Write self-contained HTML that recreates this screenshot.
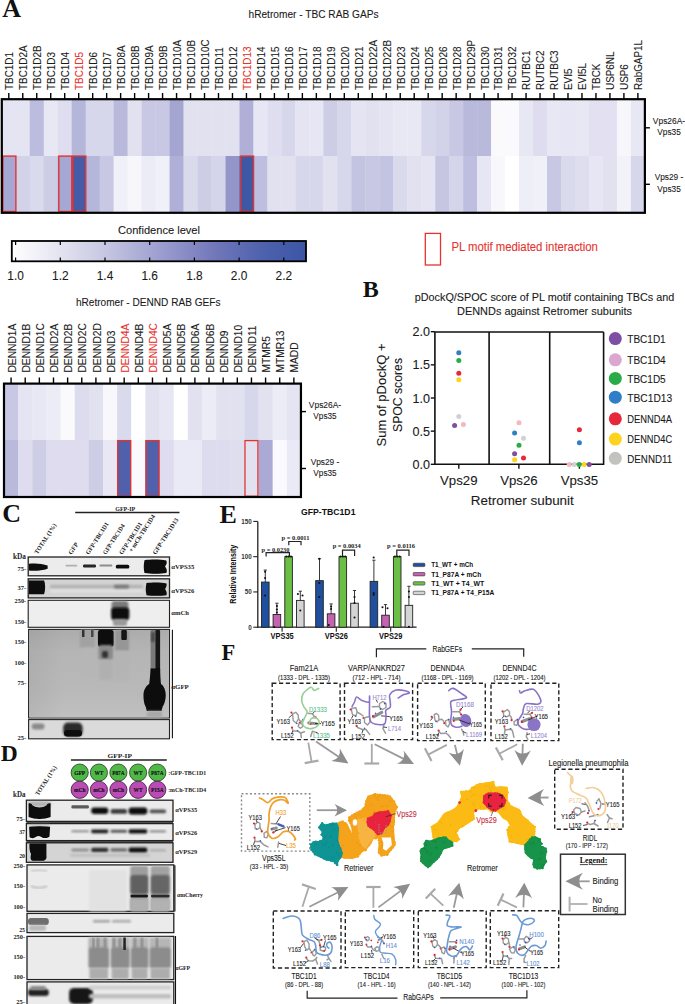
<!DOCTYPE html>
<html><head><meta charset="utf-8"><style>
html,body{margin:0;padding:0;background:#fff;}
body{width:685px;height:1004px;overflow:hidden;font-family:"Liberation Sans",sans-serif;}
svg{display:block;}
</style></head><body>
<svg width="685" height="1004" viewBox="0 0 685 1004">
<defs>
<filter id="b5" x="-20%" y="-50%" width="140%" height="200%"><feGaussianBlur stdDeviation="0.5"/></filter>
<filter id="b6" x="-20%" y="-50%" width="140%" height="200%"><feGaussianBlur stdDeviation="0.6"/></filter>
<filter id="b7" x="-20%" y="-50%" width="140%" height="200%"><feGaussianBlur stdDeviation="0.7"/></filter>
<filter id="b8" x="-20%" y="-50%" width="140%" height="200%"><feGaussianBlur stdDeviation="0.8"/></filter>
<filter id="b9" x="-20%" y="-50%" width="140%" height="200%"><feGaussianBlur stdDeviation="0.9"/></filter>
<filter id="b10" x="-20%" y="-50%" width="140%" height="200%"><feGaussianBlur stdDeviation="1.0"/></filter>
<filter id="b12" x="-20%" y="-50%" width="140%" height="200%"><feGaussianBlur stdDeviation="1.2"/></filter>
<filter id="b13" x="-20%" y="-50%" width="140%" height="200%"><feGaussianBlur stdDeviation="1.3"/></filter>
<filter id="b15" x="-20%" y="-50%" width="140%" height="200%"><feGaussianBlur stdDeviation="1.5"/></filter>
<filter id="b16" x="-20%" y="-50%" width="140%" height="200%"><feGaussianBlur stdDeviation="1.6"/></filter>
<filter id="b30" x="-10%" y="-30%" width="120%" height="160%"><feGaussianBlur stdDeviation="3"/></filter>
</defs>
<rect width="685" height="1004" fill="#fff"/>
<text x="2.20" y="16.80" font-size="26" fill="#111" text-anchor="start" font-family='"Liberation Serif", serif' font-weight="bold" >A</text>
<text x="313.50" y="18.00" font-size="11" fill="#1a1a1a" text-anchor="middle" font-family='"Liberation Sans", sans-serif' stroke="#1a1a1a" stroke-width="0.1" textLength="130" lengthAdjust="spacingAndGlyphs" >hRetromer - TBC RAB GAPs</text>
<rect x="1.80" y="99.2" width="14.28" height="56.80" fill="rgb(228, 228, 242)"/>
<rect x="1.80" y="156.0" width="14.28" height="56.80" fill="rgb(165, 168, 212)"/>
<rect x="15.78" y="99.2" width="14.28" height="56.80" fill="rgb(228, 228, 242)"/>
<rect x="15.78" y="156.0" width="14.28" height="56.80" fill="rgb(210, 210, 232)"/>
<rect x="29.76" y="99.2" width="14.28" height="56.80" fill="rgb(188, 188, 222)"/>
<rect x="29.76" y="156.0" width="14.28" height="56.80" fill="rgb(218, 218, 237)"/>
<rect x="43.74" y="99.2" width="14.28" height="56.80" fill="rgb(232, 232, 245)"/>
<rect x="43.74" y="156.0" width="14.28" height="56.80" fill="rgb(205, 205, 230)"/>
<rect x="57.72" y="99.2" width="14.28" height="56.80" fill="rgb(222, 222, 240)"/>
<rect x="57.72" y="156.0" width="14.28" height="56.80" fill="rgb(165, 168, 212)"/>
<rect x="71.70" y="99.2" width="14.28" height="56.80" fill="rgb(180, 182, 218)"/>
<rect x="71.70" y="156.0" width="14.28" height="56.80" fill="rgb(68, 92, 168)"/>
<rect x="85.68" y="99.2" width="14.28" height="56.80" fill="rgb(215, 215, 235)"/>
<rect x="85.68" y="156.0" width="14.28" height="56.80" fill="rgb(180, 182, 218)"/>
<rect x="99.66" y="99.2" width="14.28" height="56.80" fill="rgb(215, 215, 235)"/>
<rect x="99.66" y="156.0" width="14.28" height="56.80" fill="rgb(200, 200, 228)"/>
<rect x="113.64" y="99.2" width="14.28" height="56.80" fill="rgb(185, 185, 220)"/>
<rect x="113.64" y="156.0" width="14.28" height="56.80" fill="rgb(240, 240, 248)"/>
<rect x="127.62" y="99.2" width="14.28" height="56.80" fill="rgb(225, 225, 240)"/>
<rect x="127.62" y="156.0" width="14.28" height="56.80" fill="rgb(246, 246, 251)"/>
<rect x="141.60" y="99.2" width="14.28" height="56.80" fill="rgb(200, 200, 228)"/>
<rect x="141.60" y="156.0" width="14.28" height="56.80" fill="rgb(236, 236, 246)"/>
<rect x="155.58" y="99.2" width="14.28" height="56.80" fill="rgb(200, 200, 228)"/>
<rect x="155.58" y="156.0" width="14.28" height="56.80" fill="rgb(240, 240, 248)"/>
<rect x="169.56" y="99.2" width="14.28" height="56.80" fill="rgb(165, 165, 210)"/>
<rect x="169.56" y="156.0" width="14.28" height="56.80" fill="rgb(175, 175, 215)"/>
<rect x="183.54" y="99.2" width="14.28" height="56.80" fill="rgb(225, 225, 240)"/>
<rect x="183.54" y="156.0" width="14.28" height="56.80" fill="rgb(218, 218, 237)"/>
<rect x="197.52" y="99.2" width="14.28" height="56.80" fill="rgb(225, 225, 240)"/>
<rect x="197.52" y="156.0" width="14.28" height="56.80" fill="rgb(205, 205, 230)"/>
<rect x="211.50" y="99.2" width="14.28" height="56.80" fill="rgb(225, 225, 240)"/>
<rect x="211.50" y="156.0" width="14.28" height="56.80" fill="rgb(212, 212, 234)"/>
<rect x="225.48" y="99.2" width="14.28" height="56.80" fill="rgb(225, 225, 240)"/>
<rect x="225.48" y="156.0" width="14.28" height="56.80" fill="rgb(148, 150, 202)"/>
<rect x="239.46" y="99.2" width="14.28" height="56.80" fill="rgb(175, 175, 215)"/>
<rect x="239.46" y="156.0" width="14.28" height="56.80" fill="rgb(62, 88, 166)"/>
<rect x="253.44" y="99.2" width="14.28" height="56.80" fill="rgb(230, 230, 244)"/>
<rect x="253.44" y="156.0" width="14.28" height="56.80" fill="rgb(190, 190, 224)"/>
<rect x="267.42" y="99.2" width="14.28" height="56.80" fill="rgb(222, 222, 240)"/>
<rect x="267.42" y="156.0" width="14.28" height="56.80" fill="rgb(225, 225, 240)"/>
<rect x="281.40" y="99.2" width="14.28" height="56.80" fill="rgb(215, 215, 235)"/>
<rect x="281.40" y="156.0" width="14.28" height="56.80" fill="rgb(225, 225, 240)"/>
<rect x="295.38" y="99.2" width="14.28" height="56.80" fill="rgb(228, 228, 242)"/>
<rect x="295.38" y="156.0" width="14.28" height="56.80" fill="rgb(215, 215, 235)"/>
<rect x="309.36" y="99.2" width="14.28" height="56.80" fill="rgb(230, 230, 244)"/>
<rect x="309.36" y="156.0" width="14.28" height="56.80" fill="rgb(215, 215, 235)"/>
<rect x="323.34" y="99.2" width="14.28" height="56.80" fill="rgb(205, 205, 230)"/>
<rect x="323.34" y="156.0" width="14.28" height="56.80" fill="rgb(225, 225, 240)"/>
<rect x="337.32" y="99.2" width="14.28" height="56.80" fill="rgb(215, 215, 235)"/>
<rect x="337.32" y="156.0" width="14.28" height="56.80" fill="rgb(215, 215, 235)"/>
<rect x="351.30" y="99.2" width="14.28" height="56.80" fill="rgb(228, 228, 242)"/>
<rect x="351.30" y="156.0" width="14.28" height="56.80" fill="rgb(195, 195, 226)"/>
<rect x="365.28" y="99.2" width="14.28" height="56.80" fill="rgb(225, 225, 240)"/>
<rect x="365.28" y="156.0" width="14.28" height="56.80" fill="rgb(200, 200, 228)"/>
<rect x="379.26" y="99.2" width="14.28" height="56.80" fill="rgb(228, 228, 242)"/>
<rect x="379.26" y="156.0" width="14.28" height="56.80" fill="rgb(195, 195, 226)"/>
<rect x="393.24" y="99.2" width="14.28" height="56.80" fill="rgb(232, 232, 245)"/>
<rect x="393.24" y="156.0" width="14.28" height="56.80" fill="rgb(218, 218, 237)"/>
<rect x="407.22" y="99.2" width="14.28" height="56.80" fill="rgb(232, 232, 245)"/>
<rect x="407.22" y="156.0" width="14.28" height="56.80" fill="rgb(225, 225, 240)"/>
<rect x="421.20" y="99.2" width="14.28" height="56.80" fill="rgb(215, 215, 235)"/>
<rect x="421.20" y="156.0" width="14.28" height="56.80" fill="rgb(228, 228, 242)"/>
<rect x="435.18" y="99.2" width="14.28" height="56.80" fill="rgb(210, 210, 232)"/>
<rect x="435.18" y="156.0" width="14.28" height="56.80" fill="rgb(198, 198, 227)"/>
<rect x="449.16" y="99.2" width="14.28" height="56.80" fill="rgb(200, 200, 228)"/>
<rect x="449.16" y="156.0" width="14.28" height="56.80" fill="rgb(212, 212, 234)"/>
<rect x="463.14" y="99.2" width="14.28" height="56.80" fill="rgb(185, 185, 220)"/>
<rect x="463.14" y="156.0" width="14.28" height="56.80" fill="rgb(190, 190, 224)"/>
<rect x="477.12" y="99.2" width="14.28" height="56.80" fill="rgb(185, 185, 220)"/>
<rect x="477.12" y="156.0" width="14.28" height="56.80" fill="rgb(230, 230, 244)"/>
<rect x="491.10" y="99.2" width="14.28" height="56.80" fill="rgb(250, 250, 253)"/>
<rect x="491.10" y="156.0" width="14.28" height="56.80" fill="rgb(248, 248, 252)"/>
<rect x="505.08" y="99.2" width="14.28" height="56.80" fill="rgb(250, 250, 254)"/>
<rect x="505.08" y="156.0" width="14.28" height="56.80" fill="rgb(255, 255, 255)"/>
<rect x="519.06" y="99.2" width="14.28" height="56.80" fill="rgb(232, 232, 245)"/>
<rect x="519.06" y="156.0" width="14.28" height="56.80" fill="rgb(238, 238, 248)"/>
<rect x="533.04" y="99.2" width="14.28" height="56.80" fill="rgb(222, 220, 238)"/>
<rect x="533.04" y="156.0" width="14.28" height="56.80" fill="rgb(240, 240, 249)"/>
<rect x="547.02" y="99.2" width="14.28" height="56.80" fill="rgb(232, 232, 245)"/>
<rect x="547.02" y="156.0" width="14.28" height="56.80" fill="rgb(200, 200, 228)"/>
<rect x="561.00" y="99.2" width="14.28" height="56.80" fill="rgb(230, 230, 244)"/>
<rect x="561.00" y="156.0" width="14.28" height="56.80" fill="rgb(218, 218, 237)"/>
<rect x="574.98" y="99.2" width="14.28" height="56.80" fill="rgb(232, 232, 245)"/>
<rect x="574.98" y="156.0" width="14.28" height="56.80" fill="rgb(222, 222, 239)"/>
<rect x="588.96" y="99.2" width="14.28" height="56.80" fill="rgb(226, 224, 241)"/>
<rect x="588.96" y="156.0" width="14.28" height="56.80" fill="rgb(230, 230, 244)"/>
<rect x="602.94" y="99.2" width="14.28" height="56.80" fill="rgb(226, 224, 241)"/>
<rect x="602.94" y="156.0" width="14.28" height="56.80" fill="rgb(225, 225, 240)"/>
<rect x="616.92" y="99.2" width="14.28" height="56.80" fill="rgb(246, 246, 251)"/>
<rect x="616.92" y="156.0" width="14.28" height="56.80" fill="rgb(242, 242, 249)"/>
<rect x="630.90" y="99.2" width="14.28" height="56.80" fill="rgb(232, 232, 245)"/>
<rect x="630.90" y="156.0" width="14.28" height="56.80" fill="rgb(215, 215, 235)"/>
<rect x="2.90" y="156.10" width="12.98" height="55.40" fill="none" stroke="#e5332f" stroke-width="1.4"/>
<rect x="58.82" y="156.10" width="12.98" height="55.40" fill="none" stroke="#e5332f" stroke-width="1.4"/>
<rect x="72.80" y="156.10" width="12.98" height="55.40" fill="none" stroke="#e5332f" stroke-width="1.4"/>
<rect x="240.56" y="156.10" width="12.98" height="55.40" fill="none" stroke="#e5332f" stroke-width="1.4"/>
<rect x="1.80" y="99.20" width="643.08" height="113.60" fill="none" stroke="#000" stroke-width="2.2"/>
<line x1="8.79" y1="93" x2="8.79" y2="99.2" stroke="#000" stroke-width="1.4"/>
<text x="13.19" y="90.00" font-size="11" fill="#1a1a1a" text-anchor="start" font-family='"Liberation Sans", sans-serif' stroke="#1a1a1a" stroke-width="0.1" textLength="37.96" lengthAdjust="spacingAndGlyphs" transform="rotate(-90 13.19 90.00)" >TBC1D1</text>
<line x1="22.77" y1="93" x2="22.77" y2="99.2" stroke="#000" stroke-width="1.4"/>
<text x="27.17" y="90.00" font-size="11" fill="#1a1a1a" text-anchor="start" font-family='"Liberation Sans", sans-serif' stroke="#1a1a1a" stroke-width="0.1" textLength="44.57" lengthAdjust="spacingAndGlyphs" transform="rotate(-90 27.17 90.00)" >TBC1D2A</text>
<line x1="36.75" y1="93" x2="36.75" y2="99.2" stroke="#000" stroke-width="1.4"/>
<text x="41.15" y="90.00" font-size="11" fill="#1a1a1a" text-anchor="start" font-family='"Liberation Sans", sans-serif' stroke="#1a1a1a" stroke-width="0.1" textLength="44.57" lengthAdjust="spacingAndGlyphs" transform="rotate(-90 41.15 90.00)" >TBC1D2B</text>
<line x1="50.73" y1="93" x2="50.73" y2="99.2" stroke="#000" stroke-width="1.4"/>
<text x="55.13" y="90.00" font-size="11" fill="#1a1a1a" text-anchor="start" font-family='"Liberation Sans", sans-serif' stroke="#1a1a1a" stroke-width="0.1" textLength="37.96" lengthAdjust="spacingAndGlyphs" transform="rotate(-90 55.13 90.00)" >TBC1D3</text>
<line x1="64.71" y1="93" x2="64.71" y2="99.2" stroke="#000" stroke-width="1.4"/>
<text x="69.11" y="90.00" font-size="11" fill="#1a1a1a" text-anchor="start" font-family='"Liberation Sans", sans-serif' stroke="#1a1a1a" stroke-width="0.1" textLength="37.96" lengthAdjust="spacingAndGlyphs" transform="rotate(-90 69.11 90.00)" >TBC1D4</text>
<line x1="78.69" y1="93" x2="78.69" y2="99.2" stroke="#000" stroke-width="1.4"/>
<text x="83.09" y="90.00" font-size="11" fill="#e5332f" text-anchor="start" font-family='"Liberation Sans", sans-serif' stroke="#e5332f" stroke-width="0.1" textLength="37.96" lengthAdjust="spacingAndGlyphs" transform="rotate(-90 83.09 90.00)" >TBC1D5</text>
<line x1="92.67" y1="93" x2="92.67" y2="99.2" stroke="#000" stroke-width="1.4"/>
<text x="97.07" y="90.00" font-size="11" fill="#1a1a1a" text-anchor="start" font-family='"Liberation Sans", sans-serif' stroke="#1a1a1a" stroke-width="0.1" textLength="37.96" lengthAdjust="spacingAndGlyphs" transform="rotate(-90 97.07 90.00)" >TBC1D6</text>
<line x1="106.65" y1="93" x2="106.65" y2="99.2" stroke="#000" stroke-width="1.4"/>
<text x="111.05" y="90.00" font-size="11" fill="#1a1a1a" text-anchor="start" font-family='"Liberation Sans", sans-serif' stroke="#1a1a1a" stroke-width="0.1" textLength="37.96" lengthAdjust="spacingAndGlyphs" transform="rotate(-90 111.05 90.00)" >TBC1D7</text>
<line x1="120.63" y1="93" x2="120.63" y2="99.2" stroke="#000" stroke-width="1.4"/>
<text x="125.03" y="90.00" font-size="11" fill="#1a1a1a" text-anchor="start" font-family='"Liberation Sans", sans-serif' stroke="#1a1a1a" stroke-width="0.1" textLength="44.57" lengthAdjust="spacingAndGlyphs" transform="rotate(-90 125.03 90.00)" >TBC1D8A</text>
<line x1="134.61" y1="93" x2="134.61" y2="99.2" stroke="#000" stroke-width="1.4"/>
<text x="139.01" y="90.00" font-size="11" fill="#1a1a1a" text-anchor="start" font-family='"Liberation Sans", sans-serif' stroke="#1a1a1a" stroke-width="0.1" textLength="44.57" lengthAdjust="spacingAndGlyphs" transform="rotate(-90 139.01 90.00)" >TBC1D8B</text>
<line x1="148.59" y1="93" x2="148.59" y2="99.2" stroke="#000" stroke-width="1.4"/>
<text x="152.99" y="90.00" font-size="11" fill="#1a1a1a" text-anchor="start" font-family='"Liberation Sans", sans-serif' stroke="#1a1a1a" stroke-width="0.1" textLength="44.57" lengthAdjust="spacingAndGlyphs" transform="rotate(-90 152.99 90.00)" >TBC1D9A</text>
<line x1="162.57" y1="93" x2="162.57" y2="99.2" stroke="#000" stroke-width="1.4"/>
<text x="166.97" y="90.00" font-size="11" fill="#1a1a1a" text-anchor="start" font-family='"Liberation Sans", sans-serif' stroke="#1a1a1a" stroke-width="0.1" textLength="44.57" lengthAdjust="spacingAndGlyphs" transform="rotate(-90 166.97 90.00)" >TBC1D9B</text>
<line x1="176.55" y1="93" x2="176.55" y2="99.2" stroke="#000" stroke-width="1.4"/>
<text x="180.95" y="90.00" font-size="11" fill="#1a1a1a" text-anchor="start" font-family='"Liberation Sans", sans-serif' stroke="#1a1a1a" stroke-width="0.1" textLength="50.07" lengthAdjust="spacingAndGlyphs" transform="rotate(-90 180.95 90.00)" >TBC1D10A</text>
<line x1="190.53" y1="93" x2="190.53" y2="99.2" stroke="#000" stroke-width="1.4"/>
<text x="194.93" y="90.00" font-size="11" fill="#1a1a1a" text-anchor="start" font-family='"Liberation Sans", sans-serif' stroke="#1a1a1a" stroke-width="0.1" textLength="50.07" lengthAdjust="spacingAndGlyphs" transform="rotate(-90 194.93 90.00)" >TBC1D10B</text>
<line x1="204.51" y1="93" x2="204.51" y2="99.2" stroke="#000" stroke-width="1.4"/>
<text x="208.91" y="90.00" font-size="11" fill="#1a1a1a" text-anchor="start" font-family='"Liberation Sans", sans-serif' stroke="#1a1a1a" stroke-width="0.1" textLength="50.62" lengthAdjust="spacingAndGlyphs" transform="rotate(-90 208.91 90.00)" >TBC1D10C</text>
<line x1="218.49" y1="93" x2="218.49" y2="99.2" stroke="#000" stroke-width="1.4"/>
<text x="222.89" y="90.00" font-size="11" fill="#1a1a1a" text-anchor="start" font-family='"Liberation Sans", sans-serif' stroke="#1a1a1a" stroke-width="0.1" textLength="42.73" lengthAdjust="spacingAndGlyphs" transform="rotate(-90 222.89 90.00)" >TBC1D11</text>
<line x1="232.47" y1="93" x2="232.47" y2="99.2" stroke="#000" stroke-width="1.4"/>
<text x="236.87" y="90.00" font-size="11" fill="#1a1a1a" text-anchor="start" font-family='"Liberation Sans", sans-serif' stroke="#1a1a1a" stroke-width="0.1" textLength="43.47" lengthAdjust="spacingAndGlyphs" transform="rotate(-90 236.87 90.00)" >TBC1D12</text>
<line x1="246.45" y1="93" x2="246.45" y2="99.2" stroke="#000" stroke-width="1.4"/>
<text x="250.85" y="90.00" font-size="11" fill="#e5332f" text-anchor="start" font-family='"Liberation Sans", sans-serif' stroke="#e5332f" stroke-width="0.1" textLength="43.47" lengthAdjust="spacingAndGlyphs" transform="rotate(-90 250.85 90.00)" >TBC1D13</text>
<line x1="260.43" y1="93" x2="260.43" y2="99.2" stroke="#000" stroke-width="1.4"/>
<text x="264.83" y="90.00" font-size="11" fill="#1a1a1a" text-anchor="start" font-family='"Liberation Sans", sans-serif' stroke="#1a1a1a" stroke-width="0.1" textLength="43.47" lengthAdjust="spacingAndGlyphs" transform="rotate(-90 264.83 90.00)" >TBC1D14</text>
<line x1="274.41" y1="93" x2="274.41" y2="99.2" stroke="#000" stroke-width="1.4"/>
<text x="278.81" y="90.00" font-size="11" fill="#1a1a1a" text-anchor="start" font-family='"Liberation Sans", sans-serif' stroke="#1a1a1a" stroke-width="0.1" textLength="43.47" lengthAdjust="spacingAndGlyphs" transform="rotate(-90 278.81 90.00)" >TBC1D15</text>
<line x1="288.39" y1="93" x2="288.39" y2="99.2" stroke="#000" stroke-width="1.4"/>
<text x="292.79" y="90.00" font-size="11" fill="#1a1a1a" text-anchor="start" font-family='"Liberation Sans", sans-serif' stroke="#1a1a1a" stroke-width="0.1" textLength="43.47" lengthAdjust="spacingAndGlyphs" transform="rotate(-90 292.79 90.00)" >TBC1D16</text>
<line x1="302.37" y1="93" x2="302.37" y2="99.2" stroke="#000" stroke-width="1.4"/>
<text x="306.77" y="90.00" font-size="11" fill="#1a1a1a" text-anchor="start" font-family='"Liberation Sans", sans-serif' stroke="#1a1a1a" stroke-width="0.1" textLength="43.47" lengthAdjust="spacingAndGlyphs" transform="rotate(-90 306.77 90.00)" >TBC1D17</text>
<line x1="316.35" y1="93" x2="316.35" y2="99.2" stroke="#000" stroke-width="1.4"/>
<text x="320.75" y="90.00" font-size="11" fill="#1a1a1a" text-anchor="start" font-family='"Liberation Sans", sans-serif' stroke="#1a1a1a" stroke-width="0.1" textLength="43.47" lengthAdjust="spacingAndGlyphs" transform="rotate(-90 320.75 90.00)" >TBC1D18</text>
<line x1="330.33" y1="93" x2="330.33" y2="99.2" stroke="#000" stroke-width="1.4"/>
<text x="334.73" y="90.00" font-size="11" fill="#1a1a1a" text-anchor="start" font-family='"Liberation Sans", sans-serif' stroke="#1a1a1a" stroke-width="0.1" textLength="43.47" lengthAdjust="spacingAndGlyphs" transform="rotate(-90 334.73 90.00)" >TBC1D19</text>
<line x1="344.31" y1="93" x2="344.31" y2="99.2" stroke="#000" stroke-width="1.4"/>
<text x="348.71" y="90.00" font-size="11" fill="#1a1a1a" text-anchor="start" font-family='"Liberation Sans", sans-serif' stroke="#1a1a1a" stroke-width="0.1" textLength="43.47" lengthAdjust="spacingAndGlyphs" transform="rotate(-90 348.71 90.00)" >TBC1D20</text>
<line x1="358.29" y1="93" x2="358.29" y2="99.2" stroke="#000" stroke-width="1.4"/>
<text x="362.69" y="90.00" font-size="11" fill="#1a1a1a" text-anchor="start" font-family='"Liberation Sans", sans-serif' stroke="#1a1a1a" stroke-width="0.1" textLength="43.47" lengthAdjust="spacingAndGlyphs" transform="rotate(-90 362.69 90.00)" >TBC1D21</text>
<line x1="372.27" y1="93" x2="372.27" y2="99.2" stroke="#000" stroke-width="1.4"/>
<text x="376.67" y="90.00" font-size="11" fill="#1a1a1a" text-anchor="start" font-family='"Liberation Sans", sans-serif' stroke="#1a1a1a" stroke-width="0.1" textLength="50.07" lengthAdjust="spacingAndGlyphs" transform="rotate(-90 376.67 90.00)" >TBC1D22A</text>
<line x1="386.25" y1="93" x2="386.25" y2="99.2" stroke="#000" stroke-width="1.4"/>
<text x="390.65" y="90.00" font-size="11" fill="#1a1a1a" text-anchor="start" font-family='"Liberation Sans", sans-serif' stroke="#1a1a1a" stroke-width="0.1" textLength="50.07" lengthAdjust="spacingAndGlyphs" transform="rotate(-90 390.65 90.00)" >TBC1D22B</text>
<line x1="400.23" y1="93" x2="400.23" y2="99.2" stroke="#000" stroke-width="1.4"/>
<text x="404.63" y="90.00" font-size="11" fill="#1a1a1a" text-anchor="start" font-family='"Liberation Sans", sans-serif' stroke="#1a1a1a" stroke-width="0.1" textLength="43.47" lengthAdjust="spacingAndGlyphs" transform="rotate(-90 404.63 90.00)" >TBC1D23</text>
<line x1="414.21" y1="93" x2="414.21" y2="99.2" stroke="#000" stroke-width="1.4"/>
<text x="418.61" y="90.00" font-size="11" fill="#1a1a1a" text-anchor="start" font-family='"Liberation Sans", sans-serif' stroke="#1a1a1a" stroke-width="0.1" textLength="43.47" lengthAdjust="spacingAndGlyphs" transform="rotate(-90 418.61 90.00)" >TBC1D24</text>
<line x1="428.19" y1="93" x2="428.19" y2="99.2" stroke="#000" stroke-width="1.4"/>
<text x="432.59" y="90.00" font-size="11" fill="#1a1a1a" text-anchor="start" font-family='"Liberation Sans", sans-serif' stroke="#1a1a1a" stroke-width="0.1" textLength="43.47" lengthAdjust="spacingAndGlyphs" transform="rotate(-90 432.59 90.00)" >TBC1D25</text>
<line x1="442.17" y1="93" x2="442.17" y2="99.2" stroke="#000" stroke-width="1.4"/>
<text x="446.57" y="90.00" font-size="11" fill="#1a1a1a" text-anchor="start" font-family='"Liberation Sans", sans-serif' stroke="#1a1a1a" stroke-width="0.1" textLength="43.47" lengthAdjust="spacingAndGlyphs" transform="rotate(-90 446.57 90.00)" >TBC1D26</text>
<line x1="456.15" y1="93" x2="456.15" y2="99.2" stroke="#000" stroke-width="1.4"/>
<text x="460.55" y="90.00" font-size="11" fill="#1a1a1a" text-anchor="start" font-family='"Liberation Sans", sans-serif' stroke="#1a1a1a" stroke-width="0.1" textLength="43.47" lengthAdjust="spacingAndGlyphs" transform="rotate(-90 460.55 90.00)" >TBC1D28</text>
<line x1="470.13" y1="93" x2="470.13" y2="99.2" stroke="#000" stroke-width="1.4"/>
<text x="474.53" y="90.00" font-size="11" fill="#1a1a1a" text-anchor="start" font-family='"Liberation Sans", sans-serif' stroke="#1a1a1a" stroke-width="0.1" textLength="50.07" lengthAdjust="spacingAndGlyphs" transform="rotate(-90 474.53 90.00)" >TBC1D29P</text>
<line x1="484.11" y1="93" x2="484.11" y2="99.2" stroke="#000" stroke-width="1.4"/>
<text x="488.51" y="90.00" font-size="11" fill="#1a1a1a" text-anchor="start" font-family='"Liberation Sans", sans-serif' stroke="#1a1a1a" stroke-width="0.1" textLength="43.47" lengthAdjust="spacingAndGlyphs" transform="rotate(-90 488.51 90.00)" >TBC1D30</text>
<line x1="498.09" y1="93" x2="498.09" y2="99.2" stroke="#000" stroke-width="1.4"/>
<text x="502.49" y="90.00" font-size="11" fill="#1a1a1a" text-anchor="start" font-family='"Liberation Sans", sans-serif' stroke="#1a1a1a" stroke-width="0.1" textLength="43.47" lengthAdjust="spacingAndGlyphs" transform="rotate(-90 502.49 90.00)" >TBC1D31</text>
<line x1="512.07" y1="93" x2="512.07" y2="99.2" stroke="#000" stroke-width="1.4"/>
<text x="516.47" y="90.00" font-size="11" fill="#1a1a1a" text-anchor="start" font-family='"Liberation Sans", sans-serif' stroke="#1a1a1a" stroke-width="0.1" textLength="43.47" lengthAdjust="spacingAndGlyphs" transform="rotate(-90 516.47 90.00)" >TBC1D32</text>
<line x1="526.05" y1="93" x2="526.05" y2="99.2" stroke="#000" stroke-width="1.4"/>
<text x="530.45" y="90.00" font-size="11" fill="#1a1a1a" text-anchor="start" font-family='"Liberation Sans", sans-serif' stroke="#1a1a1a" stroke-width="0.1" textLength="39.61" lengthAdjust="spacingAndGlyphs" transform="rotate(-90 530.45 90.00)" >RUTBC1</text>
<line x1="540.03" y1="93" x2="540.03" y2="99.2" stroke="#000" stroke-width="1.4"/>
<text x="544.43" y="90.00" font-size="11" fill="#1a1a1a" text-anchor="start" font-family='"Liberation Sans", sans-serif' stroke="#1a1a1a" stroke-width="0.1" textLength="39.61" lengthAdjust="spacingAndGlyphs" transform="rotate(-90 544.43 90.00)" >RUTBC2</text>
<line x1="554.01" y1="93" x2="554.01" y2="99.2" stroke="#000" stroke-width="1.4"/>
<text x="558.41" y="90.00" font-size="11" fill="#1a1a1a" text-anchor="start" font-family='"Liberation Sans", sans-serif' stroke="#1a1a1a" stroke-width="0.1" textLength="39.61" lengthAdjust="spacingAndGlyphs" transform="rotate(-90 558.41 90.00)" >RUTBC3</text>
<line x1="567.99" y1="93" x2="567.99" y2="99.2" stroke="#000" stroke-width="1.4"/>
<text x="572.39" y="90.00" font-size="11" fill="#1a1a1a" text-anchor="start" font-family='"Liberation Sans", sans-serif' stroke="#1a1a1a" stroke-width="0.1" textLength="21.46" lengthAdjust="spacingAndGlyphs" transform="rotate(-90 572.39 90.00)" >EVI5</text>
<line x1="581.97" y1="93" x2="581.97" y2="99.2" stroke="#000" stroke-width="1.4"/>
<text x="586.37" y="90.00" font-size="11" fill="#1a1a1a" text-anchor="start" font-family='"Liberation Sans", sans-serif' stroke="#1a1a1a" stroke-width="0.1" textLength="26.97" lengthAdjust="spacingAndGlyphs" transform="rotate(-90 586.37 90.00)" >EVI5L</text>
<line x1="595.95" y1="93" x2="595.95" y2="99.2" stroke="#000" stroke-width="1.4"/>
<text x="600.35" y="90.00" font-size="11" fill="#1a1a1a" text-anchor="start" font-family='"Liberation Sans", sans-serif' stroke="#1a1a1a" stroke-width="0.1" textLength="26.4" lengthAdjust="spacingAndGlyphs" transform="rotate(-90 600.35 90.00)" >TBCK</text>
<line x1="609.93" y1="93" x2="609.93" y2="99.2" stroke="#000" stroke-width="1.4"/>
<text x="614.33" y="90.00" font-size="11" fill="#1a1a1a" text-anchor="start" font-family='"Liberation Sans", sans-serif' stroke="#1a1a1a" stroke-width="0.1" textLength="38.52" lengthAdjust="spacingAndGlyphs" transform="rotate(-90 614.33 90.00)" >USP6NL</text>
<line x1="623.91" y1="93" x2="623.91" y2="99.2" stroke="#000" stroke-width="1.4"/>
<text x="628.31" y="90.00" font-size="11" fill="#1a1a1a" text-anchor="start" font-family='"Liberation Sans", sans-serif' stroke="#1a1a1a" stroke-width="0.1" textLength="25.86" lengthAdjust="spacingAndGlyphs" transform="rotate(-90 628.31 90.00)" >USP6</text>
<line x1="637.89" y1="93" x2="637.89" y2="99.2" stroke="#000" stroke-width="1.4"/>
<text x="642.29" y="90.00" font-size="11" fill="#1a1a1a" text-anchor="start" font-family='"Liberation Sans", sans-serif' stroke="#1a1a1a" stroke-width="0.1" textLength="50.08" lengthAdjust="spacingAndGlyphs" transform="rotate(-90 642.29 90.00)" >RabGAP1L</text>
<line x1="644.88" y1="127.8" x2="649.88" y2="127.8" stroke="#000" stroke-width="1.4"/>
<text x="669.00" y="123.60" font-size="9.6" fill="#1a1a1a" text-anchor="middle" font-family='"Liberation Sans", sans-serif' stroke="#1a1a1a" stroke-width="0.1" textLength="32.3" lengthAdjust="spacingAndGlyphs" >Vps26A-</text>
<text x="669.00" y="135.20" font-size="9.6" fill="#1a1a1a" text-anchor="middle" font-family='"Liberation Sans", sans-serif' stroke="#1a1a1a" stroke-width="0.1" textLength="23.5" lengthAdjust="spacingAndGlyphs" >Vps35</text>
<line x1="644.88" y1="184.3" x2="649.88" y2="184.3" stroke="#000" stroke-width="1.4"/>
<text x="669.00" y="180.10" font-size="9.6" fill="#1a1a1a" text-anchor="middle" font-family='"Liberation Sans", sans-serif' stroke="#1a1a1a" stroke-width="0.1" textLength="28.7" lengthAdjust="spacingAndGlyphs" >Vps29 -</text>
<text x="669.00" y="191.70" font-size="9.6" fill="#1a1a1a" text-anchor="middle" font-family='"Liberation Sans", sans-serif' stroke="#1a1a1a" stroke-width="0.1" textLength="23.5" lengthAdjust="spacingAndGlyphs" >Vps35</text>
<defs><linearGradient id="cb" x1="0" x2="1" y1="0" y2="0"><stop offset="0" stop-color="#ffffff"/><stop offset="0.15" stop-color="#e6e6f2"/><stop offset="0.33" stop-color="#c4c4e1"/><stop offset="0.5" stop-color="#9d9fd0"/><stop offset="0.68" stop-color="#7479ba"/><stop offset="0.85" stop-color="#4e62ad"/><stop offset="1" stop-color="#3b55a5"/></linearGradient></defs>
<rect x="11.8" y="241.0" width="294.2" height="20.3" fill="url(#cb)" stroke="#000" stroke-width="1.8"/>
<line x1="15.60" y1="241.0" x2="15.60" y2="244.9" stroke="#000" stroke-width="1.2"/>
<line x1="15.60" y1="257.4" x2="15.60" y2="261.3" stroke="#000" stroke-width="1.2"/>
<text x="15.60" y="280.30" font-size="13" fill="#1a1a1a" text-anchor="middle" font-family='"Liberation Sans", sans-serif' stroke="#1a1a1a" stroke-width="0.1" textLength="16.5" lengthAdjust="spacingAndGlyphs" >1.0</text>
<line x1="60.30" y1="241.0" x2="60.30" y2="244.9" stroke="#000" stroke-width="1.2"/>
<line x1="60.30" y1="257.4" x2="60.30" y2="261.3" stroke="#000" stroke-width="1.2"/>
<text x="60.30" y="280.30" font-size="13" fill="#1a1a1a" text-anchor="middle" font-family='"Liberation Sans", sans-serif' stroke="#1a1a1a" stroke-width="0.1" textLength="16.5" lengthAdjust="spacingAndGlyphs" >1.2</text>
<line x1="105.00" y1="241.0" x2="105.00" y2="244.9" stroke="#000" stroke-width="1.2"/>
<line x1="105.00" y1="257.4" x2="105.00" y2="261.3" stroke="#000" stroke-width="1.2"/>
<text x="105.00" y="280.30" font-size="13" fill="#1a1a1a" text-anchor="middle" font-family='"Liberation Sans", sans-serif' stroke="#1a1a1a" stroke-width="0.1" textLength="16.5" lengthAdjust="spacingAndGlyphs" >1.4</text>
<line x1="149.70" y1="241.0" x2="149.70" y2="244.9" stroke="#000" stroke-width="1.2"/>
<line x1="149.70" y1="257.4" x2="149.70" y2="261.3" stroke="#000" stroke-width="1.2"/>
<text x="149.70" y="280.30" font-size="13" fill="#1a1a1a" text-anchor="middle" font-family='"Liberation Sans", sans-serif' stroke="#1a1a1a" stroke-width="0.1" textLength="16.5" lengthAdjust="spacingAndGlyphs" >1.6</text>
<line x1="194.40" y1="241.0" x2="194.40" y2="244.9" stroke="#000" stroke-width="1.2"/>
<line x1="194.40" y1="257.4" x2="194.40" y2="261.3" stroke="#000" stroke-width="1.2"/>
<text x="194.40" y="280.30" font-size="13" fill="#1a1a1a" text-anchor="middle" font-family='"Liberation Sans", sans-serif' stroke="#1a1a1a" stroke-width="0.1" textLength="16.5" lengthAdjust="spacingAndGlyphs" >1.8</text>
<line x1="239.10" y1="241.0" x2="239.10" y2="244.9" stroke="#000" stroke-width="1.2"/>
<line x1="239.10" y1="257.4" x2="239.10" y2="261.3" stroke="#000" stroke-width="1.2"/>
<text x="239.10" y="280.30" font-size="13" fill="#1a1a1a" text-anchor="middle" font-family='"Liberation Sans", sans-serif' stroke="#1a1a1a" stroke-width="0.1" textLength="16.5" lengthAdjust="spacingAndGlyphs" >2.0</text>
<line x1="283.80" y1="241.0" x2="283.80" y2="244.9" stroke="#000" stroke-width="1.2"/>
<line x1="283.80" y1="257.4" x2="283.80" y2="261.3" stroke="#000" stroke-width="1.2"/>
<text x="283.80" y="280.30" font-size="13" fill="#1a1a1a" text-anchor="middle" font-family='"Liberation Sans", sans-serif' stroke="#1a1a1a" stroke-width="0.1" textLength="16.5" lengthAdjust="spacingAndGlyphs" >2.2</text>
<text x="159.00" y="233.50" font-size="10.5" fill="#1a1a1a" text-anchor="middle" font-family='"Liberation Sans", sans-serif' stroke="#1a1a1a" stroke-width="0.1" textLength="82" lengthAdjust="spacingAndGlyphs" >Confidence level</text>
<rect x="425.3" y="233.4" width="15.2" height="31.6" fill="none" stroke="#e5332f" stroke-width="1.3"/>
<text x="451.40" y="250.50" font-size="12" fill="#e5332f" text-anchor="start" font-family='"Liberation Sans", sans-serif' stroke="#e5332f" stroke-width="0.1" textLength="146.5" lengthAdjust="spacingAndGlyphs" >PL motif mediated interaction</text>
<text x="148.20" y="306.00" font-size="11" fill="#1a1a1a" text-anchor="middle" font-family='"Liberation Sans", sans-serif' stroke="#1a1a1a" stroke-width="0.1" textLength="144.5" lengthAdjust="spacingAndGlyphs" >hRetromer - DENND RAB GEFs</text>
<rect x="4.00" y="383.6" width="14.44" height="56.40" fill="rgb(200, 200, 228)"/>
<rect x="4.00" y="440.0" width="14.44" height="57.00" fill="rgb(185, 185, 220)"/>
<rect x="18.14" y="383.6" width="14.44" height="56.40" fill="rgb(228, 228, 242)"/>
<rect x="18.14" y="440.0" width="14.44" height="57.00" fill="rgb(222, 220, 238)"/>
<rect x="32.28" y="383.6" width="14.44" height="56.40" fill="rgb(232, 232, 245)"/>
<rect x="32.28" y="440.0" width="14.44" height="57.00" fill="rgb(205, 205, 230)"/>
<rect x="46.42" y="383.6" width="14.44" height="56.40" fill="rgb(236, 236, 246)"/>
<rect x="46.42" y="440.0" width="14.44" height="57.00" fill="rgb(222, 220, 238)"/>
<rect x="60.56" y="383.6" width="14.44" height="56.40" fill="rgb(250, 250, 253)"/>
<rect x="60.56" y="440.0" width="14.44" height="57.00" fill="rgb(222, 220, 238)"/>
<rect x="74.70" y="383.6" width="14.44" height="56.40" fill="rgb(220, 220, 238)"/>
<rect x="74.70" y="440.0" width="14.44" height="57.00" fill="rgb(222, 220, 238)"/>
<rect x="88.84" y="383.6" width="14.44" height="56.40" fill="rgb(225, 225, 240)"/>
<rect x="88.84" y="440.0" width="14.44" height="57.00" fill="rgb(205, 205, 230)"/>
<rect x="102.98" y="383.6" width="14.44" height="56.40" fill="rgb(248, 248, 252)"/>
<rect x="102.98" y="440.0" width="14.44" height="57.00" fill="rgb(232, 232, 245)"/>
<rect x="117.12" y="383.6" width="14.44" height="56.40" fill="rgb(218, 218, 237)"/>
<rect x="117.12" y="440.0" width="14.44" height="57.00" fill="rgb(80, 96, 170)"/>
<rect x="131.26" y="383.6" width="14.44" height="56.40" fill="rgb(255, 255, 255)"/>
<rect x="131.26" y="440.0" width="14.44" height="57.00" fill="rgb(250, 250, 254)"/>
<rect x="145.40" y="383.6" width="14.44" height="56.40" fill="rgb(225, 225, 240)"/>
<rect x="145.40" y="440.0" width="14.44" height="57.00" fill="rgb(80, 96, 170)"/>
<rect x="159.54" y="383.6" width="14.44" height="56.40" fill="rgb(230, 230, 244)"/>
<rect x="159.54" y="440.0" width="14.44" height="57.00" fill="rgb(222, 220, 238)"/>
<rect x="173.68" y="383.6" width="14.44" height="56.40" fill="rgb(255, 255, 255)"/>
<rect x="173.68" y="440.0" width="14.44" height="57.00" fill="rgb(234, 234, 246)"/>
<rect x="187.82" y="383.6" width="14.44" height="56.40" fill="rgb(225, 225, 240)"/>
<rect x="187.82" y="440.0" width="14.44" height="57.00" fill="rgb(234, 234, 246)"/>
<rect x="201.96" y="383.6" width="14.44" height="56.40" fill="rgb(236, 236, 246)"/>
<rect x="201.96" y="440.0" width="14.44" height="57.00" fill="rgb(220, 220, 238)"/>
<rect x="216.10" y="383.6" width="14.44" height="56.40" fill="rgb(225, 225, 240)"/>
<rect x="216.10" y="440.0" width="14.44" height="57.00" fill="rgb(220, 220, 238)"/>
<rect x="230.24" y="383.6" width="14.44" height="56.40" fill="rgb(225, 225, 240)"/>
<rect x="230.24" y="440.0" width="14.44" height="57.00" fill="rgb(222, 222, 239)"/>
<rect x="244.38" y="383.6" width="14.44" height="56.40" fill="rgb(215, 215, 235)"/>
<rect x="244.38" y="440.0" width="14.44" height="57.00" fill="rgb(225, 225, 240)"/>
<rect x="258.52" y="383.6" width="14.44" height="56.40" fill="rgb(225, 225, 240)"/>
<rect x="258.52" y="440.0" width="14.44" height="57.00" fill="rgb(170, 170, 212)"/>
<rect x="272.66" y="383.6" width="14.44" height="56.40" fill="rgb(236, 236, 246)"/>
<rect x="272.66" y="440.0" width="14.44" height="57.00" fill="rgb(250, 250, 254)"/>
<rect x="286.80" y="383.6" width="14.44" height="56.40" fill="rgb(228, 228, 242)"/>
<rect x="286.80" y="440.0" width="14.44" height="57.00" fill="rgb(234, 234, 246)"/>
<rect x="117.72" y="440.60" width="12.94" height="55.60" fill="none" stroke="#e5332f" stroke-width="1.3"/>
<rect x="146.00" y="440.60" width="12.94" height="55.60" fill="none" stroke="#e5332f" stroke-width="1.3"/>
<rect x="244.98" y="440.60" width="12.94" height="55.60" fill="none" stroke="#e5332f" stroke-width="1.3"/>
<rect x="4.00" y="383.60" width="296.94" height="113.40" fill="none" stroke="#000" stroke-width="2.2"/>
<line x1="11.07" y1="377.5" x2="11.07" y2="383.6" stroke="#000" stroke-width="1.4"/>
<text x="15.67" y="372.60" font-size="11.4" fill="#1a1a1a" text-anchor="start" font-family='"Liberation Sans", sans-serif' stroke="#1a1a1a" stroke-width="0.1" textLength="49.03" lengthAdjust="spacingAndGlyphs" transform="rotate(-90 15.67 372.60)" >DENND1A</text>
<line x1="25.21" y1="377.5" x2="25.21" y2="383.6" stroke="#000" stroke-width="1.4"/>
<text x="29.81" y="372.60" font-size="11.4" fill="#1a1a1a" text-anchor="start" font-family='"Liberation Sans", sans-serif' stroke="#1a1a1a" stroke-width="0.1" textLength="49.03" lengthAdjust="spacingAndGlyphs" transform="rotate(-90 29.81 372.60)" >DENND1B</text>
<line x1="39.35" y1="377.5" x2="39.35" y2="383.6" stroke="#000" stroke-width="1.4"/>
<text x="43.95" y="372.60" font-size="11.4" fill="#1a1a1a" text-anchor="start" font-family='"Liberation Sans", sans-serif' stroke="#1a1a1a" stroke-width="0.1" textLength="49.6" lengthAdjust="spacingAndGlyphs" transform="rotate(-90 43.95 372.60)" >DENND1C</text>
<line x1="53.49" y1="377.5" x2="53.49" y2="383.6" stroke="#000" stroke-width="1.4"/>
<text x="58.09" y="372.60" font-size="11.4" fill="#1a1a1a" text-anchor="start" font-family='"Liberation Sans", sans-serif' stroke="#1a1a1a" stroke-width="0.1" textLength="49.03" lengthAdjust="spacingAndGlyphs" transform="rotate(-90 58.09 372.60)" >DENND2A</text>
<line x1="67.63" y1="377.5" x2="67.63" y2="383.6" stroke="#000" stroke-width="1.4"/>
<text x="72.23" y="372.60" font-size="11.4" fill="#1a1a1a" text-anchor="start" font-family='"Liberation Sans", sans-serif' stroke="#1a1a1a" stroke-width="0.1" textLength="49.03" lengthAdjust="spacingAndGlyphs" transform="rotate(-90 72.23 372.60)" >DENND2B</text>
<line x1="81.77" y1="377.5" x2="81.77" y2="383.6" stroke="#000" stroke-width="1.4"/>
<text x="86.37" y="372.60" font-size="11.4" fill="#1a1a1a" text-anchor="start" font-family='"Liberation Sans", sans-serif' stroke="#1a1a1a" stroke-width="0.1" textLength="49.6" lengthAdjust="spacingAndGlyphs" transform="rotate(-90 86.37 372.60)" >DENND2C</text>
<line x1="95.91" y1="377.5" x2="95.91" y2="383.6" stroke="#000" stroke-width="1.4"/>
<text x="100.51" y="372.60" font-size="11.4" fill="#1a1a1a" text-anchor="start" font-family='"Liberation Sans", sans-serif' stroke="#1a1a1a" stroke-width="0.1" textLength="49.6" lengthAdjust="spacingAndGlyphs" transform="rotate(-90 100.51 372.60)" >DENND2D</text>
<line x1="110.05" y1="377.5" x2="110.05" y2="383.6" stroke="#000" stroke-width="1.4"/>
<text x="114.65" y="372.60" font-size="11.4" fill="#1a1a1a" text-anchor="start" font-family='"Liberation Sans", sans-serif' stroke="#1a1a1a" stroke-width="0.1" textLength="42.19" lengthAdjust="spacingAndGlyphs" transform="rotate(-90 114.65 372.60)" >DENND3</text>
<line x1="124.19" y1="377.5" x2="124.19" y2="383.6" stroke="#000" stroke-width="1.4"/>
<text x="128.79" y="372.60" font-size="11.4" fill="#e5332f" text-anchor="start" font-family='"Liberation Sans", sans-serif' stroke="#e5332f" stroke-width="0.1" textLength="49.03" lengthAdjust="spacingAndGlyphs" transform="rotate(-90 128.79 372.60)" >DENND4A</text>
<line x1="138.33" y1="377.5" x2="138.33" y2="383.6" stroke="#000" stroke-width="1.4"/>
<text x="142.93" y="372.60" font-size="11.4" fill="#1a1a1a" text-anchor="start" font-family='"Liberation Sans", sans-serif' stroke="#1a1a1a" stroke-width="0.1" textLength="49.03" lengthAdjust="spacingAndGlyphs" transform="rotate(-90 142.93 372.60)" >DENND4B</text>
<line x1="152.47" y1="377.5" x2="152.47" y2="383.6" stroke="#000" stroke-width="1.4"/>
<text x="157.07" y="372.60" font-size="11.4" fill="#e5332f" text-anchor="start" font-family='"Liberation Sans", sans-serif' stroke="#e5332f" stroke-width="0.1" textLength="49.6" lengthAdjust="spacingAndGlyphs" transform="rotate(-90 157.07 372.60)" >DENND4C</text>
<line x1="166.61" y1="377.5" x2="166.61" y2="383.6" stroke="#000" stroke-width="1.4"/>
<text x="171.21" y="372.60" font-size="11.4" fill="#1a1a1a" text-anchor="start" font-family='"Liberation Sans", sans-serif' stroke="#1a1a1a" stroke-width="0.1" textLength="49.03" lengthAdjust="spacingAndGlyphs" transform="rotate(-90 171.21 372.60)" >DENND5A</text>
<line x1="180.75" y1="377.5" x2="180.75" y2="383.6" stroke="#000" stroke-width="1.4"/>
<text x="185.35" y="372.60" font-size="11.4" fill="#1a1a1a" text-anchor="start" font-family='"Liberation Sans", sans-serif' stroke="#1a1a1a" stroke-width="0.1" textLength="49.03" lengthAdjust="spacingAndGlyphs" transform="rotate(-90 185.35 372.60)" >DENND5B</text>
<line x1="194.89" y1="377.5" x2="194.89" y2="383.6" stroke="#000" stroke-width="1.4"/>
<text x="199.49" y="372.60" font-size="11.4" fill="#1a1a1a" text-anchor="start" font-family='"Liberation Sans", sans-serif' stroke="#1a1a1a" stroke-width="0.1" textLength="49.03" lengthAdjust="spacingAndGlyphs" transform="rotate(-90 199.49 372.60)" >DENND6A</text>
<line x1="209.03" y1="377.5" x2="209.03" y2="383.6" stroke="#000" stroke-width="1.4"/>
<text x="213.63" y="372.60" font-size="11.4" fill="#1a1a1a" text-anchor="start" font-family='"Liberation Sans", sans-serif' stroke="#1a1a1a" stroke-width="0.1" textLength="49.03" lengthAdjust="spacingAndGlyphs" transform="rotate(-90 213.63 372.60)" >DENND6B</text>
<line x1="223.17" y1="377.5" x2="223.17" y2="383.6" stroke="#000" stroke-width="1.4"/>
<text x="227.77" y="372.60" font-size="11.4" fill="#1a1a1a" text-anchor="start" font-family='"Liberation Sans", sans-serif' stroke="#1a1a1a" stroke-width="0.1" textLength="42.19" lengthAdjust="spacingAndGlyphs" transform="rotate(-90 227.77 372.60)" >DENND9</text>
<line x1="237.31" y1="377.5" x2="237.31" y2="383.6" stroke="#000" stroke-width="1.4"/>
<text x="241.91" y="372.60" font-size="11.4" fill="#1a1a1a" text-anchor="start" font-family='"Liberation Sans", sans-serif' stroke="#1a1a1a" stroke-width="0.1" textLength="47.89" lengthAdjust="spacingAndGlyphs" transform="rotate(-90 241.91 372.60)" >DENND10</text>
<line x1="251.45" y1="377.5" x2="251.45" y2="383.6" stroke="#000" stroke-width="1.4"/>
<text x="256.05" y="372.60" font-size="11.4" fill="#1a1a1a" text-anchor="start" font-family='"Liberation Sans", sans-serif' stroke="#1a1a1a" stroke-width="0.1" textLength="47.13" lengthAdjust="spacingAndGlyphs" transform="rotate(-90 256.05 372.60)" >DENND11</text>
<line x1="265.59" y1="377.5" x2="265.59" y2="383.6" stroke="#000" stroke-width="1.4"/>
<text x="270.19" y="372.60" font-size="11.4" fill="#1a1a1a" text-anchor="start" font-family='"Liberation Sans", sans-serif' stroke="#1a1a1a" stroke-width="0.1" textLength="36.48" lengthAdjust="spacingAndGlyphs" transform="rotate(-90 270.19 372.60)" >MTMR5</text>
<line x1="279.73" y1="377.5" x2="279.73" y2="383.6" stroke="#000" stroke-width="1.4"/>
<text x="284.33" y="372.60" font-size="11.4" fill="#1a1a1a" text-anchor="start" font-family='"Liberation Sans", sans-serif' stroke="#1a1a1a" stroke-width="0.1" textLength="42.18" lengthAdjust="spacingAndGlyphs" transform="rotate(-90 284.33 372.60)" >MTMR13</text>
<line x1="293.87" y1="377.5" x2="293.87" y2="383.6" stroke="#000" stroke-width="1.4"/>
<text x="298.47" y="372.60" font-size="11.4" fill="#1a1a1a" text-anchor="start" font-family='"Liberation Sans", sans-serif' stroke="#1a1a1a" stroke-width="0.1" textLength="30.21" lengthAdjust="spacingAndGlyphs" transform="rotate(-90 298.47 372.60)" >MADD</text>
<line x1="300.94" y1="411.6" x2="305.94" y2="411.6" stroke="#000" stroke-width="1.4"/>
<text x="325.00" y="408.20" font-size="9.6" fill="#1a1a1a" text-anchor="middle" font-family='"Liberation Sans", sans-serif' stroke="#1a1a1a" stroke-width="0.1" textLength="32.3" lengthAdjust="spacingAndGlyphs" >Vps26A-</text>
<text x="325.00" y="419.00" font-size="9.6" fill="#1a1a1a" text-anchor="middle" font-family='"Liberation Sans", sans-serif' stroke="#1a1a1a" stroke-width="0.1" textLength="23.3" lengthAdjust="spacingAndGlyphs" >Vps35</text>
<line x1="300.94" y1="468.5" x2="305.94" y2="468.5" stroke="#000" stroke-width="1.4"/>
<text x="325.00" y="465.10" font-size="9.6" fill="#1a1a1a" text-anchor="middle" font-family='"Liberation Sans", sans-serif' stroke="#1a1a1a" stroke-width="0.1" textLength="28.7" lengthAdjust="spacingAndGlyphs" >Vps29 -</text>
<text x="325.00" y="475.90" font-size="9.6" fill="#1a1a1a" text-anchor="middle" font-family='"Liberation Sans", sans-serif' stroke="#1a1a1a" stroke-width="0.1" textLength="23.3" lengthAdjust="spacingAndGlyphs" >Vps35</text>
<text x="362.80" y="297.00" font-size="24" fill="#111" text-anchor="start" font-family='"Liberation Serif", serif' font-weight="bold" >B</text>
<text x="544.50" y="301.00" font-size="10.3" fill="#1a1a1a" text-anchor="middle" font-family='"Liberation Sans", sans-serif' stroke="#1a1a1a" stroke-width="0.1" textLength="259.5" lengthAdjust="spacingAndGlyphs" >pDockQ/SPOC score of PL motif containing TBCs and</text>
<text x="544.50" y="314.50" font-size="10.3" fill="#1a1a1a" text-anchor="middle" font-family='"Liberation Sans", sans-serif' stroke="#1a1a1a" stroke-width="0.1" textLength="175" lengthAdjust="spacingAndGlyphs" >DENNDs against Retromer subunits</text>
<polyline points="603.6,332 434.9,332 434.9,464.3 603.6,464.3 603.6,332" fill="none" stroke="#111" stroke-width="1.6"/>
<line x1="489.1" y1="332" x2="489.1" y2="464.3" stroke="#111" stroke-width="1.6"/>
<line x1="549.7" y1="332" x2="549.7" y2="464.3" stroke="#111" stroke-width="1.6"/>
<line x1="430.8" y1="464.30" x2="434.9" y2="464.30" stroke="#111" stroke-width="1.4"/>
<text x="430.00" y="468.90" font-size="12.8" fill="#1a1a1a" text-anchor="end" font-family='"Liberation Sans", sans-serif' stroke="#1a1a1a" stroke-width="0.1" textLength="17.5" lengthAdjust="spacingAndGlyphs" >0.0</text>
<line x1="430.8" y1="431.15" x2="434.9" y2="431.15" stroke="#111" stroke-width="1.4"/>
<text x="430.00" y="435.75" font-size="12.8" fill="#1a1a1a" text-anchor="end" font-family='"Liberation Sans", sans-serif' stroke="#1a1a1a" stroke-width="0.1" textLength="17.5" lengthAdjust="spacingAndGlyphs" >0.5</text>
<line x1="430.8" y1="398.00" x2="434.9" y2="398.00" stroke="#111" stroke-width="1.4"/>
<text x="430.00" y="402.60" font-size="12.8" fill="#1a1a1a" text-anchor="end" font-family='"Liberation Sans", sans-serif' stroke="#1a1a1a" stroke-width="0.1" textLength="17.5" lengthAdjust="spacingAndGlyphs" >1.0</text>
<line x1="430.8" y1="364.85" x2="434.9" y2="364.85" stroke="#111" stroke-width="1.4"/>
<text x="430.00" y="369.45" font-size="12.8" fill="#1a1a1a" text-anchor="end" font-family='"Liberation Sans", sans-serif' stroke="#1a1a1a" stroke-width="0.1" textLength="17.5" lengthAdjust="spacingAndGlyphs" >1.5</text>
<line x1="430.8" y1="331.70" x2="434.9" y2="331.70" stroke="#111" stroke-width="1.4"/>
<text x="430.00" y="336.30" font-size="12.8" fill="#1a1a1a" text-anchor="end" font-family='"Liberation Sans", sans-serif' stroke="#1a1a1a" stroke-width="0.1" textLength="17.5" lengthAdjust="spacingAndGlyphs" >2.0</text>
<line x1="458.8" y1="464.3" x2="458.8" y2="468.8" stroke="#111" stroke-width="1.4"/>
<text x="458.80" y="484.50" font-size="13.5" fill="#1a1a1a" text-anchor="middle" font-family='"Liberation Sans", sans-serif' stroke="#1a1a1a" stroke-width="0.1" textLength="37.5" lengthAdjust="spacingAndGlyphs" >Vps29</text>
<line x1="518.9" y1="464.3" x2="518.9" y2="468.8" stroke="#111" stroke-width="1.4"/>
<text x="518.90" y="484.50" font-size="13.5" fill="#1a1a1a" text-anchor="middle" font-family='"Liberation Sans", sans-serif' stroke="#1a1a1a" stroke-width="0.1" textLength="37.5" lengthAdjust="spacingAndGlyphs" >Vps26</text>
<line x1="579.4" y1="464.3" x2="579.4" y2="468.8" stroke="#111" stroke-width="1.4"/>
<text x="579.40" y="484.50" font-size="13.5" fill="#1a1a1a" text-anchor="middle" font-family='"Liberation Sans", sans-serif' stroke="#1a1a1a" stroke-width="0.1" textLength="37.5" lengthAdjust="spacingAndGlyphs" >Vps35</text>
<text x="522.30" y="504.50" font-size="13.2" fill="#1a1a1a" text-anchor="middle" font-family='"Liberation Sans", sans-serif' stroke="#1a1a1a" stroke-width="0.1" textLength="103" lengthAdjust="spacingAndGlyphs" >Retromer subunit</text>
<text x="385.50" y="395.00" font-size="13.2" fill="#1a1a1a" text-anchor="middle" font-family='"Liberation Sans", sans-serif' stroke="#1a1a1a" stroke-width="0.1" textLength="103" lengthAdjust="spacingAndGlyphs" transform="rotate(-90 385.50 395.00)" >Sum of pDockQ +</text>
<text x="402.00" y="395.00" font-size="13.2" fill="#1a1a1a" text-anchor="middle" font-family='"Liberation Sans", sans-serif' stroke="#1a1a1a" stroke-width="0.1" textLength="74" lengthAdjust="spacingAndGlyphs" transform="rotate(-90 402.00 395.00)" >SPOC scores</text>
<circle cx="458.8" cy="352.7" r="2.5" fill="#2f7fc8"/>
<circle cx="458.8" cy="360.4" r="2.5" fill="#2bab47"/>
<circle cx="458.8" cy="373.3" r="2.5" fill="#e7283a"/>
<circle cx="458.8" cy="379.8" r="2.5" fill="#fcd41f"/>
<circle cx="458.8" cy="416.5" r="2.5" fill="#cfd2d0"/>
<circle cx="454.6" cy="425.6" r="2.5" fill="#7d4ea3"/>
<circle cx="463.4" cy="424.4" r="2.5" fill="#f4b8c0"/>
<circle cx="519" cy="422.8" r="2.5" fill="#f4b8c0"/>
<circle cx="514.6" cy="433" r="2.5" fill="#2f7fc8"/>
<circle cx="523.5" cy="438.2" r="2.5" fill="#cfd2d0"/>
<circle cx="519" cy="445.2" r="2.5" fill="#2bab47"/>
<circle cx="514.6" cy="453.8" r="2.5" fill="#7d4ea3"/>
<circle cx="514.6" cy="459.7" r="2.5" fill="#fcd41f"/>
<circle cx="523.5" cy="458" r="2.5" fill="#e7283a"/>
<circle cx="579.4" cy="429.8" r="2.5" fill="#e7283a"/>
<circle cx="579.4" cy="442.7" r="2.5" fill="#2f7fc8"/>
<circle cx="569.2" cy="464.4" r="2.5" fill="#f4b8c0"/>
<circle cx="574.3" cy="464.4" r="2.5" fill="#cfd2d0"/>
<circle cx="579.2" cy="464.4" r="2.5" fill="#2bab47"/>
<circle cx="584.2" cy="464.4" r="2.5" fill="#fcd41f"/>
<circle cx="589.2" cy="464.4" r="2.5" fill="#7d4ea3"/>
<circle cx="615.3" cy="338.6" r="6.5" fill="#7d4ea3"/>
<text x="627.30" y="342.90" font-size="11.8" fill="#1a1a1a" text-anchor="start" font-family='"Liberation Sans", sans-serif' stroke="#1a1a1a" stroke-width="0.1" textLength="38.4" lengthAdjust="spacingAndGlyphs" >TBC1D1</text>
<circle cx="615.3" cy="359.8" r="6.5" fill="#dba6cf"/>
<text x="627.30" y="364.10" font-size="11.8" fill="#1a1a1a" text-anchor="start" font-family='"Liberation Sans", sans-serif' stroke="#1a1a1a" stroke-width="0.1" textLength="38.4" lengthAdjust="spacingAndGlyphs" >TBC1D4</text>
<circle cx="615.3" cy="378.4" r="6.5" fill="#2bab47"/>
<text x="627.30" y="382.70" font-size="11.8" fill="#1a1a1a" text-anchor="start" font-family='"Liberation Sans", sans-serif' stroke="#1a1a1a" stroke-width="0.1" textLength="38.4" lengthAdjust="spacingAndGlyphs" >TBC1D5</text>
<circle cx="615.3" cy="397.2" r="6.5" fill="#2f7fc8"/>
<text x="627.30" y="401.50" font-size="11.8" fill="#1a1a1a" text-anchor="start" font-family='"Liberation Sans", sans-serif' stroke="#1a1a1a" stroke-width="0.1" textLength="44.8" lengthAdjust="spacingAndGlyphs" >TBC1D13</text>
<circle cx="615.3" cy="418.8" r="6.5" fill="#e7283a"/>
<text x="627.30" y="423.10" font-size="11.8" fill="#1a1a1a" text-anchor="start" font-family='"Liberation Sans", sans-serif' stroke="#1a1a1a" stroke-width="0.1" textLength="44.8" lengthAdjust="spacingAndGlyphs" >DENND4A</text>
<circle cx="615.3" cy="439.1" r="6.5" fill="#fcd41f"/>
<text x="627.30" y="443.40" font-size="11.8" fill="#1a1a1a" text-anchor="start" font-family='"Liberation Sans", sans-serif' stroke="#1a1a1a" stroke-width="0.1" textLength="44.8" lengthAdjust="spacingAndGlyphs" >DENND4C</text>
<circle cx="615.3" cy="458.3" r="6.5" fill="#c2c2be"/>
<text x="627.30" y="462.60" font-size="11.8" fill="#1a1a1a" text-anchor="start" font-family='"Liberation Sans", sans-serif' stroke="#1a1a1a" stroke-width="0.1" textLength="44.8" lengthAdjust="spacingAndGlyphs" >DENND11</text>
<text x="2.20" y="522.30" font-size="26" fill="#111" text-anchor="start" font-family='"Liberation Serif", serif' font-weight="bold" >C</text>
<line x1="75.2" y1="512.5" x2="179.5" y2="512.5" stroke="#222" stroke-width="1.5"/>
<text x="125.30" y="510.50" font-size="5.6" fill="#222" text-anchor="middle" font-family='"Liberation Serif", serif' font-weight="bold" textLength="20" lengthAdjust="spacingAndGlyphs" >GFP-IP</text>
<text x="37.5" y="554.5" font-size="6.3" font-family='"Liberation Serif", serif' font-weight="bold" fill="#222" textLength="35" lengthAdjust="spacingAndGlyphs" transform="rotate(-57 37.5 554.5)">TOTAL (1%)</text>
<text x="71.5" y="555" font-size="6.3" font-family='"Liberation Serif", serif' font-weight="bold" fill="#222" textLength="13" lengthAdjust="spacingAndGlyphs" transform="rotate(-57 71.5 555)">GFP</text>
<text x="88.8" y="555" font-size="6.3" font-family='"Liberation Serif", serif' font-weight="bold" fill="#222" textLength="37" lengthAdjust="spacingAndGlyphs" transform="rotate(-57 88.8 555)">GFP-TBC1D1</text>
<text x="106" y="555" font-size="6.3" font-family='"Liberation Serif", serif' font-weight="bold" fill="#222" textLength="35" lengthAdjust="spacingAndGlyphs" transform="rotate(-57 106 555)">GFP-TBC1D4</text>
<text x="122.3" y="555" font-size="6.3" font-family='"Liberation Serif", serif' font-weight="bold" fill="#222" textLength="37" lengthAdjust="spacingAndGlyphs" transform="rotate(-57 122.3 555)">GFP-TBC1D1</text>
<text x="132" y="552.5" font-size="6.3" font-family='"Liberation Serif", serif' font-weight="bold" fill="#222" textLength="43" lengthAdjust="spacingAndGlyphs" transform="rotate(-57 132 552.5)">+ mCh-TBC1D4</text>
<text x="155.8" y="555" font-size="6.3" font-family='"Liberation Serif", serif' font-weight="bold" fill="#222" textLength="42" lengthAdjust="spacingAndGlyphs" transform="rotate(-57 155.8 555)">GFP-TBC1D13</text>
<text x="26.00" y="558.50" font-size="8.3" fill="#222" text-anchor="end" font-family='"Liberation Serif", serif' font-weight="bold" textLength="13" lengthAdjust="spacingAndGlyphs" >kDa</text>
<rect x="28.2" y="557" width="141.30" height="18.80" fill="#ececec" stroke="#222" stroke-width="1.3"/>
<path d="M29,563.8 C35,563 42,563.5 47.6,565.5 L47.6,568.8 C42,570.6 35,571.2 29,570.6 Z" fill="#0a0a0a" filter="url(#b6)"/>
<rect x="65.50" y="564.80" width="11.70" height="1.60" rx="0.64" fill="#b0b0b0" opacity="1" filter="url(#b6)"/>
<rect x="83.00" y="564.60" width="13.00" height="2.80" rx="1.20" fill="#262626" opacity="1" filter="url(#b5)"/>
<rect x="99.40" y="564.40" width="12.90" height="2.00" rx="1.00" fill="#8e8e8e" opacity="1" filter="url(#b5)"/>
<rect x="115.80" y="564.80" width="13.50" height="3.80" rx="1.50" fill="#111" opacity="1" filter="url(#b5)"/>
<path d="M144.5,560.2 C151,559.3 160,559.3 166.3,560.5 C167,562.5 167,564 165,566.5 C167,569 167.2,571 166.3,573 C160,574 151,574 144.5,573 C143.5,569 143.5,564.5 144.5,560.2 Z" fill="#090909" filter="url(#b6)"/>
<rect x="28.2" y="578.8" width="141.30" height="19.10" fill="#d3d3d3" stroke="#222" stroke-width="1.3"/>
<rect x="50.00" y="584.80" width="93.00" height="3.80" rx="1.00" fill="#b4b4b4" opacity="1" filter="url(#b10)"/>
<rect x="50.00" y="589.60" width="93.00" height="2.60" rx="1.00" fill="#e2e2e2" opacity="1" filter="url(#b8)"/>
<rect x="114.00" y="584.80" width="15.00" height="3.60" rx="1.44" fill="#7a7a7a" opacity="1" filter="url(#b8)"/>
<path d="M29,580.6 L44,580.6 C45.5,584 45.5,590 44,594.2 L29,594.2 Z" fill="#080808" filter="url(#b6)"/>
<path d="M146.5,583 C152,582.2 161,582.2 166.5,583.4 C167,585.5 166,587.5 165,589 C166.5,591 167,593 166.5,595.2 C160,596 152,596 146.5,595.2 C145.5,591 145.5,587 146.5,583 Z" fill="#090909" filter="url(#b6)"/>
<rect x="28.2" y="600.3" width="141.30" height="27.00" fill="#eeeeee" stroke="#222" stroke-width="1.1"/>
<rect x="111.50" y="601.00" width="17.00" height="11.00" rx="3.00" fill="#7a7a7a" opacity="1" filter="url(#b12)"/>
<rect x="111.10" y="607.50" width="18.20" height="13.00" rx="4.00" fill="#0d0d0d" opacity="1" filter="url(#b9)"/>
<rect x="113.00" y="619.00" width="14.00" height="7.00" rx="2.00" fill="#9a9a9a" opacity="1" filter="url(#b12)"/>
<rect x="28.6" y="629.4" width="140.90" height="88.60" fill="#c4c4c4" stroke="#222" stroke-width="1.1"/>
<defs><linearGradient id="gfpv" x1="0" y1="0" x2="0" y2="1"><stop offset="0" stop-color="#acacac"/><stop offset="0.25" stop-color="#b5b5b5"/><stop offset="0.7" stop-color="#b9b9b9"/><stop offset="1" stop-color="#c0c0c0"/></linearGradient><linearGradient id="gfph" x1="0" y1="0" x2="1" y2="0"><stop offset="0" stop-color="#000" stop-opacity="0.05"/><stop offset="0.25" stop-color="#000" stop-opacity="0"/></linearGradient></defs>
<rect x="29.2" y="630" width="139.6" height="87.4" fill="url(#gfpv)"/>
<rect x="29.2" y="630" width="139.6" height="87.4" fill="url(#gfph)"/>
<rect x="79.70" y="630.00" width="15.30" height="18.00" rx="2.00" fill="#a2a2a2" opacity="1" filter="url(#b10)"/>
<rect x="82.00" y="630.00" width="2.50" height="7.00" rx="0.50" fill="#333" opacity="1" filter="url(#b6)"/>
<rect x="91.00" y="630.00" width="2.50" height="7.00" rx="0.50" fill="#444" opacity="1" filter="url(#b6)"/>
<rect x="81.00" y="648.00" width="14.00" height="30.00" rx="2.00" fill="#b6b6b6" opacity="1" filter="url(#b15)"/>
<rect x="97.90" y="629.80" width="15.80" height="17.10" rx="3.00" fill="#0b0b0b" opacity="1" filter="url(#b6)"/>
<rect x="98.50" y="645.00" width="14.50" height="15.00" rx="3.00" fill="#8a8a8a" opacity="1" filter="url(#b12)"/>
<rect x="102.00" y="651.00" width="6.00" height="7.00" rx="2.00" fill="#333" opacity="1" filter="url(#b10)"/>
<rect x="99.00" y="660.00" width="14.00" height="20.00" rx="2.00" fill="#b0b0b0" opacity="1" filter="url(#b15)"/>
<rect x="114.80" y="630.00" width="14.20" height="21.00" rx="2.00" fill="#969696" opacity="1" filter="url(#b10)"/>
<rect x="121.30" y="630.00" width="5.50" height="10.00" rx="1.00" fill="#151515" opacity="1" filter="url(#b6)"/>
<rect x="115.00" y="651.00" width="14.00" height="30.00" rx="2.00" fill="#b4b4b4" opacity="1" filter="url(#b15)"/>
<rect x="150.60" y="630.00" width="8.90" height="40.00" rx="1.00" fill="#7a7a7a" opacity="1" filter="url(#b7)"/>
<rect x="151.00" y="632.00" width="4.00" height="10.00" rx="1.00" fill="#4a4a4a" opacity="1" filter="url(#b8)"/>
<rect x="155.50" y="630.00" width="4.60" height="42.00" rx="1.00" fill="#141414" opacity="1" filter="url(#b5)"/>
<path d="M150.6,668.5 L160.1,668.5 C160.3,675 160.5,680 161,684 C164,686 165.7,690 165.7,695 C165.7,700 164.5,704 162.5,707 L161.5,711 L146.8,711 L145.8,707 C144,704 143.5,700 143.5,695 C143.5,690 146,686 149.2,684 C149.8,680 150.2,675 150.6,668.5 Z" fill="#0a0a0a" filter="url(#b5)"/>
<rect x="147.00" y="711.00" width="15.00" height="6.50" rx="1.00" fill="#a8a8a8" opacity="1" filter="url(#b8)"/>
<rect x="28.6" y="719.6" width="140.90" height="19.20" fill="#dadada" stroke="#222" stroke-width="1.1"/>
<rect x="31.70" y="723.50" width="12.80" height="6.00" rx="2.40" fill="#8a8a8a" opacity="1" filter="url(#b10)"/>
<rect x="63.20" y="722.50" width="19.40" height="14.00" rx="5.00" fill="#2a2a2a" opacity="1" filter="url(#b9)"/>
<rect x="64.00" y="730.00" width="18.00" height="6.50" rx="3.00" fill="#0d0d0d" opacity="1" filter="url(#b7)"/>
<line x1="172.4" y1="629.7" x2="172.4" y2="738.3" stroke="#111" stroke-width="1.1"/>
<text x="26.20" y="570.90" font-size="6.0" fill="#222" text-anchor="end" font-family='"Liberation Serif", serif' font-weight="bold" textLength="8.7" lengthAdjust="spacingAndGlyphs" >75-</text>
<text x="26.20" y="589.80" font-size="6.0" fill="#222" text-anchor="end" font-family='"Liberation Serif", serif' font-weight="bold" textLength="8.7" lengthAdjust="spacingAndGlyphs" >37-</text>
<text x="26.20" y="603.20" font-size="6.0" fill="#222" text-anchor="end" font-family='"Liberation Serif", serif' font-weight="bold" textLength="11.6" lengthAdjust="spacingAndGlyphs" >250-</text>
<text x="26.20" y="623.70" font-size="6.0" fill="#222" text-anchor="end" font-family='"Liberation Serif", serif' font-weight="bold" textLength="11.6" lengthAdjust="spacingAndGlyphs" >150-</text>
<text x="26.20" y="644.00" font-size="6.0" fill="#222" text-anchor="end" font-family='"Liberation Serif", serif' font-weight="bold" textLength="11.6" lengthAdjust="spacingAndGlyphs" >150-</text>
<text x="26.20" y="665.10" font-size="6.0" fill="#222" text-anchor="end" font-family='"Liberation Serif", serif' font-weight="bold" textLength="11.6" lengthAdjust="spacingAndGlyphs" >100-</text>
<text x="26.20" y="684.50" font-size="6.0" fill="#222" text-anchor="end" font-family='"Liberation Serif", serif' font-weight="bold" textLength="8.7" lengthAdjust="spacingAndGlyphs" >75-</text>
<text x="26.20" y="739.80" font-size="6.0" fill="#222" text-anchor="end" font-family='"Liberation Serif", serif' font-weight="bold" textLength="8.7" lengthAdjust="spacingAndGlyphs" >25-</text>
<text x="171.30" y="568.60" font-size="7.0" fill="#222" text-anchor="start" font-family='"Liberation Serif", serif' font-weight="bold" textLength="23" lengthAdjust="spacingAndGlyphs" >αVPS35</text>
<text x="171.30" y="592.50" font-size="7.0" fill="#222" text-anchor="start" font-family='"Liberation Serif", serif' font-weight="bold" textLength="23" lengthAdjust="spacingAndGlyphs" >αVPS26</text>
<text x="171.30" y="615.00" font-size="7.0" fill="#222" text-anchor="start" font-family='"Liberation Serif", serif' font-weight="bold" textLength="17.5" lengthAdjust="spacingAndGlyphs" >αmCh</text>
<text x="171.30" y="689.00" font-size="7.0" fill="#222" text-anchor="start" font-family='"Liberation Serif", serif' font-weight="bold" textLength="17.5" lengthAdjust="spacingAndGlyphs" >αGFP</text>
<text x="0.80" y="761.00" font-size="23.5" fill="#111" text-anchor="start" font-family='"Liberation Serif", serif' font-weight="bold" >D</text>
<line x1="70.9" y1="759.9" x2="166.8" y2="759.9" stroke="#222" stroke-width="1.5"/>
<text x="119.70" y="757.80" font-size="6.6" fill="#222" text-anchor="middle" font-family='"Liberation Serif", serif' font-weight="bold" textLength="24.5" lengthAdjust="spacingAndGlyphs" >GFP-IP</text>
<text x="38.5" y="796" font-size="6.3" font-family='"Liberation Serif", serif' font-weight="bold" fill="#222" textLength="34" lengthAdjust="spacingAndGlyphs" transform="rotate(-57 38.5 796)">TOTAL (1%)</text>
<circle cx="79.7" cy="772.6" r="8.6" fill="#4fb848" stroke="#1f3a1c" stroke-width="0.8"/>
<text x="79.70" y="775.10" font-size="6.8" fill="#111" text-anchor="middle" font-family='"Liberation Serif", serif' stroke="#111" stroke-width="0.15" font-weight="bold" textLength="11" lengthAdjust="spacingAndGlyphs" >GFP</text>
<circle cx="98.9" cy="772.6" r="8.6" fill="#4fb848" stroke="#1f3a1c" stroke-width="0.8"/>
<text x="98.90" y="775.10" font-size="6.8" fill="#111" text-anchor="middle" font-family='"Liberation Serif", serif' stroke="#111" stroke-width="0.15" font-weight="bold" textLength="9" lengthAdjust="spacingAndGlyphs" >WT</text>
<circle cx="118.4" cy="772.6" r="8.6" fill="#4fb848" stroke="#1f3a1c" stroke-width="0.8"/>
<text x="118.40" y="775.10" font-size="6.8" fill="#111" text-anchor="middle" font-family='"Liberation Serif", serif' stroke="#111" stroke-width="0.15" font-weight="bold" textLength="12.5" lengthAdjust="spacingAndGlyphs" >P87A</text>
<circle cx="138.1" cy="772.6" r="8.6" fill="#4fb848" stroke="#1f3a1c" stroke-width="0.8"/>
<text x="138.10" y="775.10" font-size="6.8" fill="#111" text-anchor="middle" font-family='"Liberation Serif", serif' stroke="#111" stroke-width="0.15" font-weight="bold" textLength="9" lengthAdjust="spacingAndGlyphs" >WT</text>
<circle cx="157.3" cy="772.6" r="8.6" fill="#4fb848" stroke="#1f3a1c" stroke-width="0.8"/>
<text x="157.30" y="775.10" font-size="6.8" fill="#111" text-anchor="middle" font-family='"Liberation Serif", serif' stroke="#111" stroke-width="0.15" font-weight="bold" textLength="12.5" lengthAdjust="spacingAndGlyphs" >P87A</text>
<circle cx="79.7" cy="789.8" r="8.6" fill="#bb4bb5" stroke="#3a1838" stroke-width="0.8"/>
<text x="79.70" y="792.30" font-size="6.8" fill="#111" text-anchor="middle" font-family='"Liberation Serif", serif' stroke="#111" stroke-width="0.15" font-weight="bold" textLength="11.5" lengthAdjust="spacingAndGlyphs" >mCh</text>
<circle cx="98.9" cy="789.8" r="8.6" fill="#bb4bb5" stroke="#3a1838" stroke-width="0.8"/>
<text x="98.90" y="792.30" font-size="6.8" fill="#111" text-anchor="middle" font-family='"Liberation Serif", serif' stroke="#111" stroke-width="0.15" font-weight="bold" textLength="11.5" lengthAdjust="spacingAndGlyphs" >mCh</text>
<circle cx="118.4" cy="789.8" r="8.6" fill="#bb4bb5" stroke="#3a1838" stroke-width="0.8"/>
<text x="118.40" y="792.30" font-size="6.8" fill="#111" text-anchor="middle" font-family='"Liberation Serif", serif' stroke="#111" stroke-width="0.15" font-weight="bold" textLength="11.5" lengthAdjust="spacingAndGlyphs" >mCh</text>
<circle cx="138.1" cy="789.8" r="8.6" fill="#bb4bb5" stroke="#3a1838" stroke-width="0.8"/>
<text x="138.10" y="792.30" font-size="6.8" fill="#111" text-anchor="middle" font-family='"Liberation Serif", serif' stroke="#111" stroke-width="0.15" font-weight="bold" textLength="9" lengthAdjust="spacingAndGlyphs" >WT</text>
<circle cx="157.3" cy="789.8" r="8.6" fill="#bb4bb5" stroke="#3a1838" stroke-width="0.8"/>
<text x="157.30" y="792.30" font-size="6.8" fill="#111" text-anchor="middle" font-family='"Liberation Serif", serif' stroke="#111" stroke-width="0.15" font-weight="bold" textLength="12.5" lengthAdjust="spacingAndGlyphs" >P15A</text>
<text x="168.20" y="775.00" font-size="6.6" fill="#222" text-anchor="start" font-family='"Liberation Serif", serif' font-weight="bold" textLength="38" lengthAdjust="spacingAndGlyphs" >:GFP-TBC1D1</text>
<text x="168.20" y="792.40" font-size="6.6" fill="#222" text-anchor="start" font-family='"Liberation Serif", serif' font-weight="bold" textLength="38" lengthAdjust="spacingAndGlyphs" >:mCh-TBC1D4</text>
<text x="25.50" y="796.50" font-size="8.3" fill="#222" text-anchor="end" font-family='"Liberation Serif", serif' font-weight="bold" textLength="12.5" lengthAdjust="spacingAndGlyphs" >kDa</text>
<rect x="26.4" y="820.5" width="146.6" height="4" fill="#555"/>
<rect x="26.4" y="839.6" width="146.6" height="4" fill="#555"/>
<rect x="26.4" y="800.2" width="146.60" height="21.20" fill="#ebebeb" stroke="#222" stroke-width="1.3"/>
<path d="M28.6,801.2 L50.4,801.2 L50.4,807 L28.6,807 Z" fill="#8a8a8a" opacity="0.6" filter="url(#b15)"/>
<path d="M28.6,803.5 C30,802.8 31.5,803.5 32.5,805.5 C36,808 43,808 46.5,805.5 C47.5,803.5 49,802.8 50.6,803.5 L50.6,817 C44,819.5 35,819.5 28.6,817 Z" fill="#070707" filter="url(#b7)"/>
<rect x="71.40" y="805.30" width="17.50" height="3.20" rx="1.28" fill="#5a5a5a" opacity="1" filter="url(#b7)"/>
<rect x="91.20" y="807.50" width="17.10" height="6.50" rx="3.00" fill="#0e0e0e" opacity="1" filter="url(#b8)"/>
<rect x="110.60" y="809.00" width="16.40" height="4.80" rx="1.92" fill="#3a3a3a" opacity="1" filter="url(#b8)"/>
<rect x="128.60" y="807.50" width="18.70" height="6.90" rx="3.00" fill="#0c0c0c" opacity="1" filter="url(#b8)"/>
<rect x="149.60" y="809.40" width="16.40" height="3.90" rx="1.56" fill="#505050" opacity="1" filter="url(#b8)"/>
<rect x="26.4" y="823.6" width="146.60" height="17.00" fill="#ebebeb" stroke="#222" stroke-width="1.3"/>
<path d="M30,824.5 L49,824.5 L49,830 L30,830 Z" fill="#9a9a9a" opacity="0.5" filter="url(#b15)"/>
<path d="M29.2,826.8 C36,826 43,826 50,826.8 L49.5,836.5 C47,838.6 43,838.6 41,836.8 C39.5,835.8 37.5,835.8 36,836.8 C34,838.6 31,838.6 29.6,837 Z" fill="#070707" filter="url(#b7)"/>
<rect x="71.40" y="830.20" width="17.50" height="2.10" rx="0.84" fill="#8a8a8a" opacity="1" filter="url(#b8)"/>
<rect x="91.20" y="829.50" width="17.10" height="3.70" rx="1.48" fill="#1e1e1e" opacity="1" filter="url(#b8)"/>
<rect x="110.60" y="829.80" width="16.40" height="3.00" rx="1.20" fill="#5a5a5a" opacity="1" filter="url(#b8)"/>
<rect x="128.60" y="829.20" width="18.70" height="4.40" rx="1.76" fill="#0e0e0e" opacity="1" filter="url(#b8)"/>
<rect x="149.60" y="830.20" width="16.40" height="2.20" rx="0.88" fill="#8a8a8a" opacity="1" filter="url(#b8)"/>
<rect x="26.4" y="842.8" width="146.60" height="19.50" fill="#d4d4d4" stroke="#222" stroke-width="1.3"/>
<path d="M29.5,843.5 L46.4,843.5 L46.4,856 C47,859 45,861 42,860.8 L33,860.8 C30,860.5 30.5,857 31,854 C29.5,851 29.3,848 29.5,843.5 Z" fill="#070707" filter="url(#b6)"/>
<rect x="71.40" y="848.60" width="17.50" height="2.80" rx="1.12" fill="#8f8f8f" opacity="1" filter="url(#b10)"/>
<rect x="91.20" y="847.80" width="17.10" height="4.20" rx="1.68" fill="#2e2e2e" opacity="1" filter="url(#b9)"/>
<rect x="110.60" y="848.20" width="16.40" height="3.40" rx="1.36" fill="#6a6a6a" opacity="1" filter="url(#b9)"/>
<rect x="128.60" y="847.40" width="18.70" height="5.00" rx="2.00" fill="#111" opacity="1" filter="url(#b9)"/>
<rect x="149.60" y="849.00" width="16.40" height="2.40" rx="0.96" fill="#b0b0b0" opacity="1" filter="url(#b10)"/>
<rect x="70.00" y="854.00" width="80.00" height="2.50" rx="1.00" fill="#bcbcbc" opacity="1" filter="url(#b12)"/>
<rect x="27" y="864.9" width="146.80" height="46.40" fill="#ebebeb" stroke="#222" stroke-width="1.3"/>
<path d="M31,871 q8,-2 16,0" fill="none" stroke="#aaa" stroke-width="1" filter="url(#b8)"/>
<path d="M31,886 q8,4 16,0" fill="none" stroke="#999" stroke-width="1.2" filter="url(#b8)"/>
<rect x="89.00" y="870.00" width="38.00" height="41.00" rx="2.00" fill="#e2e2e2" opacity="1" filter="url(#b15)"/>
<rect x="130.20" y="866.00" width="18.10" height="45.00" rx="2.00" fill="#9e9e9e" opacity="1" filter="url(#b12)"/>
<rect x="150.60" y="866.00" width="19.20" height="45.00" rx="2.00" fill="#a2a2a2" opacity="1" filter="url(#b12)"/>
<rect x="130.50" y="875.00" width="17.50" height="19.00" rx="3.00" fill="#606060" opacity="1" filter="url(#b13)"/>
<rect x="151.00" y="875.00" width="18.50" height="19.00" rx="3.00" fill="#666" opacity="1" filter="url(#b13)"/>
<rect x="130.50" y="894.80" width="17.50" height="2.60" rx="1.04" fill="#151515" opacity="1" filter="url(#b7)"/>
<rect x="151.00" y="894.80" width="18.50" height="2.60" rx="1.04" fill="#2a2a2a" opacity="1" filter="url(#b7)"/>
<rect x="130.50" y="899.00" width="17.50" height="12.00" rx="2.00" fill="#b0b0b0" opacity="1" filter="url(#b12)"/>
<rect x="151.00" y="899.00" width="18.50" height="12.00" rx="2.00" fill="#b2b2b2" opacity="1" filter="url(#b12)"/>
<rect x="27" y="913.4" width="146.80" height="19.20" fill="#ebebeb" stroke="#222" stroke-width="1.3"/>
<rect x="28.00" y="918.00" width="20.80" height="7.00" rx="3.00" fill="#6e6e6e" opacity="1" filter="url(#b11)"/>
<rect x="29.00" y="925.00" width="17.00" height="6.00" rx="2.00" fill="#bbbbbb" opacity="1" filter="url(#b12)"/>
<rect x="93.00" y="920.00" width="17.00" height="2.50" rx="1.00" fill="#a0a0a0" opacity="1" filter="url(#b9)"/>
<rect x="112.00" y="920.00" width="19.00" height="2.50" rx="1.00" fill="#a8a8a8" opacity="1" filter="url(#b9)"/>
<rect x="27" y="936.4" width="146.80" height="43.20" fill="#ebebeb" stroke="#222" stroke-width="1.3"/>
<rect x="88.40" y="937.50" width="20.80" height="10.50" rx="1.00" fill="#b6b6b6" opacity="1" filter="url(#b10)"/>
<rect x="88.40" y="947.00" width="20.80" height="21.60" rx="3.00" fill="#8c8c8c" opacity="1" filter="url(#b12)"/>
<rect x="89.40" y="968.00" width="18.80" height="11.00" rx="1.00" fill="#adadad" opacity="1" filter="url(#b10)"/>
<rect x="110.60" y="937.50" width="19.20" height="10.50" rx="1.00" fill="#b6b6b6" opacity="1" filter="url(#b10)"/>
<rect x="110.60" y="947.00" width="19.20" height="21.60" rx="3.00" fill="#8c8c8c" opacity="1" filter="url(#b12)"/>
<rect x="111.60" y="968.00" width="17.20" height="11.00" rx="1.00" fill="#adadad" opacity="1" filter="url(#b10)"/>
<rect x="130.60" y="937.50" width="18.00" height="10.50" rx="1.00" fill="#b6b6b6" opacity="1" filter="url(#b10)"/>
<rect x="130.60" y="947.00" width="18.00" height="21.60" rx="3.00" fill="#8c8c8c" opacity="1" filter="url(#b12)"/>
<rect x="131.60" y="968.00" width="16.00" height="11.00" rx="1.00" fill="#adadad" opacity="1" filter="url(#b10)"/>
<rect x="149.40" y="937.50" width="21.60" height="10.50" rx="1.00" fill="#b6b6b6" opacity="1" filter="url(#b10)"/>
<rect x="149.40" y="947.00" width="21.60" height="21.60" rx="3.00" fill="#8c8c8c" opacity="1" filter="url(#b12)"/>
<rect x="150.40" y="968.00" width="19.60" height="11.00" rx="1.00" fill="#adadad" opacity="1" filter="url(#b10)"/>
<rect x="92.50" y="937.50" width="1.80" height="10.50" rx="0.50" fill="#7a7a7a" opacity="1" filter="url(#b9)"/>
<rect x="97.00" y="937.50" width="1.80" height="10.50" rx="0.50" fill="#7a7a7a" opacity="1" filter="url(#b9)"/>
<rect x="104.20" y="937.50" width="1.80" height="10.50" rx="0.50" fill="#7a7a7a" opacity="1" filter="url(#b9)"/>
<rect x="113.00" y="937.50" width="1.80" height="10.50" rx="0.50" fill="#7a7a7a" opacity="1" filter="url(#b9)"/>
<rect x="119.00" y="937.50" width="1.80" height="10.50" rx="0.50" fill="#7a7a7a" opacity="1" filter="url(#b9)"/>
<rect x="134.00" y="937.50" width="1.80" height="10.50" rx="0.50" fill="#7a7a7a" opacity="1" filter="url(#b9)"/>
<rect x="141.00" y="937.50" width="1.80" height="10.50" rx="0.50" fill="#7a7a7a" opacity="1" filter="url(#b9)"/>
<rect x="156.00" y="937.50" width="1.80" height="10.50" rx="0.50" fill="#7a7a7a" opacity="1" filter="url(#b9)"/>
<rect x="123.30" y="937.50" width="2.50" height="12.50" rx="0.50" fill="#222" opacity="1" filter="url(#b7)"/>
<rect x="27" y="981.9" width="146.80" height="24.10" fill="#ebebeb" stroke="#222" stroke-width="1.3"/>
<rect x="28.00" y="989.00" width="20.80" height="7.00" rx="3.00" fill="#222" opacity="1" filter="url(#b10)"/>
<rect x="30.00" y="986.00" width="16.00" height="4.00" rx="2.00" fill="#888" opacity="1" filter="url(#b12)"/>
<rect x="69.10" y="987.90" width="23.80" height="16.10" rx="5.00" fill="#141414" opacity="1" filter="url(#b9)"/>
<rect x="89.00" y="985.50" width="82.00" height="4.00" rx="1.60" fill="#cfcfcf" opacity="1" filter="url(#b10)"/>
<rect x="89.00" y="994.00" width="82.00" height="4.50" rx="1.80" fill="#bdbdbd" opacity="1" filter="url(#b10)"/>
<line x1="174.9" y1="865.2" x2="174.9" y2="911.5" stroke="#111" stroke-width="1.1"/>
<line x1="175.5" y1="936" x2="175.5" y2="1004" stroke="#111" stroke-width="1.1"/>
<text x="25.00" y="820.70" font-size="6.0" fill="#222" text-anchor="end" font-family='"Liberation Serif", serif' font-weight="bold" textLength="8.7" lengthAdjust="spacingAndGlyphs" >75-</text>
<text x="25.00" y="833.50" font-size="6.0" fill="#222" text-anchor="end" font-family='"Liberation Serif", serif' font-weight="bold" textLength="5.8" lengthAdjust="spacingAndGlyphs" >37</text>
<text x="25.00" y="858.40" font-size="6.0" fill="#222" text-anchor="end" font-family='"Liberation Serif", serif' font-weight="bold" textLength="5.8" lengthAdjust="spacingAndGlyphs" >20</text>
<text x="25.00" y="867.50" font-size="6.0" fill="#222" text-anchor="end" font-family='"Liberation Serif", serif' font-weight="bold" textLength="11.6" lengthAdjust="spacingAndGlyphs" >250-</text>
<text x="25.00" y="887.70" font-size="6.0" fill="#222" text-anchor="end" font-family='"Liberation Serif", serif' font-weight="bold" textLength="11.6" lengthAdjust="spacingAndGlyphs" >150-</text>
<text x="25.00" y="909.00" font-size="6.0" fill="#222" text-anchor="end" font-family='"Liberation Serif", serif' font-weight="bold" textLength="11.6" lengthAdjust="spacingAndGlyphs" >100-</text>
<text x="25.00" y="932.40" font-size="6.0" fill="#222" text-anchor="end" font-family='"Liberation Serif", serif' font-weight="bold" textLength="5.8" lengthAdjust="spacingAndGlyphs" >25</text>
<text x="25.00" y="938.80" font-size="6.0" fill="#222" text-anchor="end" font-family='"Liberation Serif", serif' font-weight="bold" textLength="11.6" lengthAdjust="spacingAndGlyphs" >250-</text>
<text x="25.00" y="959.00" font-size="6.0" fill="#222" text-anchor="end" font-family='"Liberation Serif", serif' font-weight="bold" textLength="11.6" lengthAdjust="spacingAndGlyphs" >150-</text>
<text x="25.00" y="979.20" font-size="6.0" fill="#222" text-anchor="end" font-family='"Liberation Serif", serif' font-weight="bold" textLength="11.6" lengthAdjust="spacingAndGlyphs" >100-</text>
<text x="25.00" y="1003.70" font-size="6.0" fill="#222" text-anchor="end" font-family='"Liberation Serif", serif' font-weight="bold" textLength="8.7" lengthAdjust="spacingAndGlyphs" >25-</text>
<text x="175.20" y="812.20" font-size="6.4" fill="#222" text-anchor="start" font-family='"Liberation Serif", serif' font-weight="bold" textLength="22" lengthAdjust="spacingAndGlyphs" >αVPS35</text>
<text x="175.20" y="834.70" font-size="6.4" fill="#222" text-anchor="start" font-family='"Liberation Serif", serif' font-weight="bold" textLength="22" lengthAdjust="spacingAndGlyphs" >αVPS26</text>
<text x="175.20" y="853.70" font-size="6.4" fill="#222" text-anchor="start" font-family='"Liberation Serif", serif' font-weight="bold" textLength="22" lengthAdjust="spacingAndGlyphs" >αVPS29</text>
<text x="177.00" y="897.20" font-size="6.4" fill="#222" text-anchor="start" font-family='"Liberation Serif", serif' font-weight="bold" textLength="26" lengthAdjust="spacingAndGlyphs" >αmCherry</text>
<text x="175.20" y="970.20" font-size="6.4" fill="#222" text-anchor="start" font-family='"Liberation Serif", serif' font-weight="bold" textLength="15" lengthAdjust="spacingAndGlyphs" >αGFP</text>
<text x="219.60" y="523.30" font-size="26" fill="#111" text-anchor="start" font-family='"Liberation Serif", serif' font-weight="bold" >E</text>
<text x="300.90" y="514.80" font-size="8.6" fill="#111" text-anchor="start" font-family='"Liberation Sans", sans-serif' font-weight="bold" textLength="54.6" lengthAdjust="spacingAndGlyphs" >GFP-TBC1D1</text>
<line x1="257.8" y1="521.41" x2="257.8" y2="627.8000000000001" stroke="#222" stroke-width="1.3"/>
<line x1="257.2" y1="627.2" x2="416.6" y2="627.2" stroke="#222" stroke-width="1.3"/>
<line x1="253.3" y1="627.20" x2="257.8" y2="627.20" stroke="#222" stroke-width="1.1"/>
<text x="251.80" y="629.60" font-size="6.6" fill="#333" text-anchor="end" font-family='"Liberation Sans", sans-serif' font-weight="bold" textLength="3.5" lengthAdjust="spacingAndGlyphs" >0</text>
<line x1="253.3" y1="591.94" x2="257.8" y2="591.94" stroke="#222" stroke-width="1.1"/>
<text x="251.80" y="594.34" font-size="6.6" fill="#333" text-anchor="end" font-family='"Liberation Sans", sans-serif' font-weight="bold" textLength="7.0" lengthAdjust="spacingAndGlyphs" >50</text>
<line x1="253.3" y1="556.67" x2="257.8" y2="556.67" stroke="#222" stroke-width="1.1"/>
<text x="251.80" y="559.07" font-size="6.6" fill="#333" text-anchor="end" font-family='"Liberation Sans", sans-serif' font-weight="bold" textLength="10.5" lengthAdjust="spacingAndGlyphs" >100</text>
<line x1="253.3" y1="521.41" x2="257.8" y2="521.41" stroke="#222" stroke-width="1.1"/>
<text x="251.80" y="523.81" font-size="6.6" fill="#333" text-anchor="end" font-family='"Liberation Sans", sans-serif' font-weight="bold" textLength="10.5" lengthAdjust="spacingAndGlyphs" >150</text>
<text x="236.30" y="574.20" font-size="8.2" fill="#111" text-anchor="middle" font-family='"Liberation Sans", sans-serif' font-weight="bold" textLength="59" lengthAdjust="spacingAndGlyphs" transform="rotate(-90 236.30 574.20)" >Relative Intensity</text>
<rect x="261.50" y="582.06" width="7.6" height="45.14" fill="#1f4f9e" stroke="#222" stroke-width="0.9"/>
<line x1="265.30" y1="582.06" x2="265.30" y2="570.07" stroke="#222" stroke-width="0.9"/>
<line x1="263.70" y1="570.07" x2="266.90" y2="570.07" stroke="#222" stroke-width="0.9"/>
<circle cx="265.10" cy="571.8" r="1.05" fill="#111"/>
<circle cx="265.10" cy="578" r="1.05" fill="#111"/>
<circle cx="265.10" cy="595.5" r="1.05" fill="#111"/>
<rect x="273.10" y="614.50" width="7.6" height="12.70" fill="#c562b2" stroke="#222" stroke-width="0.9"/>
<line x1="276.90" y1="614.50" x2="276.90" y2="603.22" stroke="#222" stroke-width="0.9"/>
<line x1="275.30" y1="603.22" x2="278.50" y2="603.22" stroke="#222" stroke-width="0.9"/>
<circle cx="276.90" cy="606" r="1.05" fill="#111"/>
<circle cx="276.90" cy="609.5" r="1.05" fill="#111"/>
<circle cx="276.90" cy="612.5" r="1.05" fill="#111"/>
<circle cx="274.10" cy="627" r="1.05" fill="#111"/>
<rect x="284.80" y="556.67" width="7.6" height="70.53" fill="#6cbf45" stroke="#222" stroke-width="0.9"/>
<circle cx="286.30" cy="556.5" r="1.05" fill="#111"/>
<circle cx="288.60" cy="556.5" r="1.05" fill="#111"/>
<circle cx="291.00" cy="556.5" r="1.05" fill="#111"/>
<rect x="296.50" y="600.40" width="7.6" height="26.80" fill="#d4d4d4" stroke="#222" stroke-width="0.9"/>
<line x1="300.30" y1="600.40" x2="300.30" y2="591.23" stroke="#222" stroke-width="0.9"/>
<line x1="298.70" y1="591.23" x2="301.90" y2="591.23" stroke="#222" stroke-width="0.9"/>
<circle cx="297.90" cy="594" r="1.05" fill="#111"/>
<circle cx="302.50" cy="595.5" r="1.05" fill="#111"/>
<circle cx="300.30" cy="610.5" r="1.05" fill="#111"/>
<line x1="282.10" y1="627.2" x2="282.10" y2="631.7" stroke="#222" stroke-width="1.1"/>
<text x="282.10" y="639.40" font-size="8.8" fill="#111" text-anchor="middle" font-family='"Liberation Sans", sans-serif' font-weight="bold" textLength="23.2" lengthAdjust="spacingAndGlyphs" >VPS35</text>
<rect x="315.70" y="580.65" width="7.6" height="46.55" fill="#1f4f9e" stroke="#222" stroke-width="0.9"/>
<line x1="319.50" y1="580.65" x2="319.50" y2="558.79" stroke="#222" stroke-width="0.9"/>
<line x1="317.90" y1="558.79" x2="321.10" y2="558.79" stroke="#222" stroke-width="0.9"/>
<circle cx="319.30" cy="558.8" r="1.05" fill="#111"/>
<circle cx="319.30" cy="583" r="1.05" fill="#111"/>
<circle cx="319.30" cy="597" r="1.05" fill="#111"/>
<rect x="327.30" y="613.80" width="7.6" height="13.40" fill="#c562b2" stroke="#222" stroke-width="0.9"/>
<line x1="331.10" y1="613.80" x2="331.10" y2="603.93" stroke="#222" stroke-width="0.9"/>
<line x1="329.50" y1="603.93" x2="332.70" y2="603.93" stroke="#222" stroke-width="0.9"/>
<circle cx="331.10" cy="606.5" r="1.05" fill="#111"/>
<circle cx="331.10" cy="609" r="1.05" fill="#111"/>
<circle cx="328.80" cy="625" r="1.05" fill="#111"/>
<rect x="339.00" y="556.67" width="7.6" height="70.53" fill="#6cbf45" stroke="#222" stroke-width="0.9"/>
<circle cx="340.50" cy="556.5" r="1.05" fill="#111"/>
<circle cx="342.80" cy="556.5" r="1.05" fill="#111"/>
<circle cx="345.20" cy="556.5" r="1.05" fill="#111"/>
<rect x="350.70" y="603.22" width="7.6" height="23.98" fill="#d4d4d4" stroke="#222" stroke-width="0.9"/>
<line x1="354.50" y1="603.22" x2="354.50" y2="590.52" stroke="#222" stroke-width="0.9"/>
<line x1="352.90" y1="590.52" x2="356.10" y2="590.52" stroke="#222" stroke-width="0.9"/>
<circle cx="354.50" cy="597" r="1.05" fill="#111"/>
<circle cx="354.50" cy="603" r="1.05" fill="#111"/>
<circle cx="354.50" cy="617.5" r="1.05" fill="#111"/>
<line x1="336.30" y1="627.2" x2="336.30" y2="631.7" stroke="#222" stroke-width="1.1"/>
<text x="336.30" y="639.40" font-size="8.8" fill="#111" text-anchor="middle" font-family='"Liberation Sans", sans-serif' font-weight="bold" textLength="23.2" lengthAdjust="spacingAndGlyphs" >VPS26</text>
<rect x="370.10" y="581.36" width="7.6" height="45.84" fill="#1f4f9e" stroke="#222" stroke-width="0.9"/>
<line x1="373.90" y1="581.36" x2="373.90" y2="560.20" stroke="#222" stroke-width="0.9"/>
<line x1="372.30" y1="560.20" x2="375.50" y2="560.20" stroke="#222" stroke-width="0.9"/>
<circle cx="373.70" cy="557.5" r="1.05" fill="#111"/>
<circle cx="373.70" cy="593" r="1.05" fill="#111"/>
<circle cx="373.70" cy="594.8" r="1.05" fill="#111"/>
<rect x="381.70" y="615.21" width="7.6" height="11.99" fill="#c562b2" stroke="#222" stroke-width="0.9"/>
<line x1="385.50" y1="615.21" x2="385.50" y2="604.63" stroke="#222" stroke-width="0.9"/>
<line x1="383.90" y1="604.63" x2="387.10" y2="604.63" stroke="#222" stroke-width="0.9"/>
<circle cx="382.50" cy="607.2" r="1.05" fill="#111"/>
<circle cx="387.50" cy="608.2" r="1.05" fill="#111"/>
<circle cx="383.50" cy="626.8" r="1.05" fill="#111"/>
<rect x="393.40" y="556.67" width="7.6" height="70.53" fill="#6cbf45" stroke="#222" stroke-width="0.9"/>
<circle cx="394.90" cy="556.5" r="1.05" fill="#111"/>
<circle cx="397.20" cy="556.5" r="1.05" fill="#111"/>
<circle cx="399.60" cy="556.5" r="1.05" fill="#111"/>
<rect x="405.10" y="605.34" width="7.6" height="21.86" fill="#d4d4d4" stroke="#222" stroke-width="0.9"/>
<line x1="408.90" y1="605.34" x2="408.90" y2="586.29" stroke="#222" stroke-width="0.9"/>
<line x1="407.30" y1="586.29" x2="410.50" y2="586.29" stroke="#222" stroke-width="0.9"/>
<circle cx="408.90" cy="591.5" r="1.05" fill="#111"/>
<circle cx="408.90" cy="597" r="1.05" fill="#111"/>
<circle cx="408.90" cy="626.8" r="1.05" fill="#111"/>
<line x1="390.70" y1="627.2" x2="390.70" y2="631.7" stroke="#222" stroke-width="1.1"/>
<text x="390.70" y="639.40" font-size="8.8" fill="#111" text-anchor="middle" font-family='"Liberation Sans", sans-serif' font-weight="bold" textLength="23.2" lengthAdjust="spacingAndGlyphs" >VPS29</text>
<polyline points="266.1,556.4000000000001 266.1,552.7 289.4,552.7 289.4,556.4000000000001" fill="none" stroke="#222" stroke-width="1.2"/>
<text x="275.50" y="551.70" font-size="6.6" fill="#222" text-anchor="middle" font-family='"Liberation Serif", serif' font-weight="bold" textLength="28" lengthAdjust="spacingAndGlyphs" >p = 0.0230</text>
<polyline points="288.8,545.3 288.8,541.5 301,541.5 301,545.3" fill="none" stroke="#222" stroke-width="1.2"/>
<text x="295.50" y="539.80" font-size="6.6" fill="#222" text-anchor="middle" font-family='"Liberation Serif", serif' font-weight="bold" textLength="28" lengthAdjust="spacingAndGlyphs" >p = 0.0011</text>
<polyline points="342.5,556.1 342.5,550.1 354.6,550.1 354.6,556.1" fill="none" stroke="#222" stroke-width="1.2"/>
<text x="346.70" y="547.50" font-size="6.6" fill="#222" text-anchor="middle" font-family='"Liberation Serif", serif' font-weight="bold" textLength="28" lengthAdjust="spacingAndGlyphs" >p = 0.0034</text>
<polyline points="396.8,556.1 396.8,550.1 409,550.1 409,556.1" fill="none" stroke="#222" stroke-width="1.2"/>
<text x="401.00" y="547.50" font-size="6.6" fill="#222" text-anchor="middle" font-family='"Liberation Serif", serif' font-weight="bold" textLength="28" lengthAdjust="spacingAndGlyphs" >p = 0.0116</text>
<rect x="413.2" y="563.2" width="11.7" height="3.4" rx="0.8" fill="#1f4f9e" stroke="#333" stroke-width="0.6"/>
<text x="431.20" y="567.30" font-size="6.7" fill="#111" text-anchor="start" font-family='"Liberation Sans", sans-serif' font-weight="bold" textLength="42" lengthAdjust="spacingAndGlyphs" >T1_WT + mCh</text>
<rect x="413.2" y="572.5" width="11.7" height="3.4" rx="0.8" fill="#c562b2" stroke="#333" stroke-width="0.6"/>
<text x="431.20" y="576.60" font-size="6.7" fill="#111" text-anchor="start" font-family='"Liberation Sans", sans-serif' font-weight="bold" textLength="50" lengthAdjust="spacingAndGlyphs" >T1_P87A + mCh</text>
<rect x="413.2" y="581.7" width="11.7" height="3.4" rx="0.8" fill="#6cbf45" stroke="#333" stroke-width="0.6"/>
<text x="431.20" y="585.80" font-size="6.7" fill="#111" text-anchor="start" font-family='"Liberation Sans", sans-serif' font-weight="bold" textLength="53" lengthAdjust="spacingAndGlyphs" >T1_WT + T4_WT</text>
<rect x="413.2" y="591.2" width="11.7" height="3.4" rx="0.8" fill="#d4d4d4" stroke="#333" stroke-width="0.6"/>
<text x="431.20" y="595.30" font-size="6.7" fill="#111" text-anchor="start" font-family='"Liberation Sans", sans-serif' font-weight="bold" textLength="63" lengthAdjust="spacingAndGlyphs" >T1_P87A + T4_P15A</text>
<text x="221.60" y="660.00" font-size="22.5" fill="#111" text-anchor="start" font-family='"Liberation Serif", serif' font-weight="bold" >F</text>
<polyline points="376.4,657.2 376.4,648.8 426.3,648.8" fill="none" stroke="#222" stroke-width="1.2"/>
<polyline points="471.8,648.8 523.7,648.8 523.7,656.8" fill="none" stroke="#222" stroke-width="1.2"/>
<text x="447.30" y="651.80" font-size="8.6" fill="#1a1a1a" text-anchor="middle" font-family='"Liberation Sans", sans-serif' stroke="#1a1a1a" stroke-width="0.1" textLength="29.5" lengthAdjust="spacingAndGlyphs" >RabGEFs</text>
<text x="304.00" y="670.60" font-size="8.6" fill="#1a1a1a" text-anchor="middle" font-family='"Liberation Sans", sans-serif' stroke="#1a1a1a" stroke-width="0.1" textLength="28.5" lengthAdjust="spacingAndGlyphs" >Fam21A</text>
<text x="304.00" y="679.60" font-size="6.3" fill="#1a1a1a" text-anchor="middle" font-family='"Liberation Sans", sans-serif' stroke="#1a1a1a" stroke-width="0.1" textLength="52" lengthAdjust="spacingAndGlyphs" >(1333 - DPL - 1335)</text>
<text x="376.50" y="670.60" font-size="8.6" fill="#1a1a1a" text-anchor="middle" font-family='"Liberation Sans", sans-serif' stroke="#1a1a1a" stroke-width="0.1" textLength="57" lengthAdjust="spacingAndGlyphs" >VARP/ANKRD27</text>
<text x="376.50" y="679.60" font-size="6.3" fill="#1a1a1a" text-anchor="middle" font-family='"Liberation Sans", sans-serif' stroke="#1a1a1a" stroke-width="0.1" textLength="48" lengthAdjust="spacingAndGlyphs" >(712 - HPL - 714)</text>
<text x="447.50" y="670.60" font-size="8.6" fill="#1a1a1a" text-anchor="middle" font-family='"Liberation Sans", sans-serif' stroke="#1a1a1a" stroke-width="0.1" textLength="34" lengthAdjust="spacingAndGlyphs" >DENND4A</text>
<text x="447.50" y="679.60" font-size="6.3" fill="#1a1a1a" text-anchor="middle" font-family='"Liberation Sans", sans-serif' stroke="#1a1a1a" stroke-width="0.1" textLength="52" lengthAdjust="spacingAndGlyphs" >(1168 - DPL - 1169)</text>
<text x="519.50" y="670.60" font-size="8.6" fill="#1a1a1a" text-anchor="middle" font-family='"Liberation Sans", sans-serif' stroke="#1a1a1a" stroke-width="0.1" textLength="34" lengthAdjust="spacingAndGlyphs" >DENND4C</text>
<text x="519.50" y="679.60" font-size="6.3" fill="#1a1a1a" text-anchor="middle" font-family='"Liberation Sans", sans-serif' stroke="#1a1a1a" stroke-width="0.1" textLength="52" lengthAdjust="spacingAndGlyphs" >(1202 - DPL - 1204)</text>
<rect x="272.2" y="683.3" width="67.90" height="56.30" fill="none" stroke="#222" stroke-width="1.4" stroke-dasharray="4.2 2.6"/>
<rect x="344.5" y="683.3" width="68.10" height="56.30" fill="none" stroke="#222" stroke-width="1.4" stroke-dasharray="4.2 2.6"/>
<rect x="417.6" y="683.3" width="67.70" height="57.30" fill="none" stroke="#222" stroke-width="1.4" stroke-dasharray="4.2 2.6"/>
<rect x="491.0" y="683.3" width="67.80" height="57.30" fill="none" stroke="#222" stroke-width="1.4" stroke-dasharray="4.2 2.6"/>
<polygon points="292.6,713.8 295.8,712.3 298.2,715.0 298.5,719.0 296.0,723.0 293.2,720.5" fill="none" stroke="#9a9a9a" stroke-width="1.4" stroke-linejoin="round"/>
<circle cx="291.4" cy="712.6" r="1.1" fill="#e0262a"/>
<line x1="288.7" y1="718.0" x2="292.3" y2="714.6" stroke="#1a1a1a" stroke-width="0.8"/>
<circle cx="296.8" cy="723.5" r="0.8" fill="#3a56c0"/>
<polyline points="298.5,719.0 301.0,722.0 303.0,720.0" fill="none" stroke="#9a9a9a" stroke-width="1.5" stroke-linecap="round" stroke-linejoin="round"/>
<circle cx="299.8" cy="722.8" r="1.1" fill="#e0262a"/>
<circle cx="303.0" cy="719.5" r="0.8" fill="#3a56c0"/>
<polygon points="299.0,723.5 302.0,723.5 302.8,726.5 300.5,728.2 298.2,726.5" fill="none" stroke="#9a9a9a" stroke-width="1.4" stroke-linejoin="round"/>
<polyline points="292.2,728.6 293.0,731.0 297.5,731.0 300.7,733.0 304.5,731.8" fill="none" stroke="#9a9a9a" stroke-width="1.5" stroke-linecap="round" stroke-linejoin="round"/>
<polyline points="300.7,733.0 301.4,737.5" fill="none" stroke="#9a9a9a" stroke-width="1.5" stroke-linecap="round" stroke-linejoin="round"/>
<circle cx="292.0" cy="727.5" r="1.1" fill="#e0262a"/>
<circle cx="297.5" cy="730.8" r="0.8" fill="#3a56c0"/>
<line x1="291.5" y1="734.0" x2="292.8" y2="731.0" stroke="#1a1a1a" stroke-width="0.8"/>
<line x1="308.6" y1="723.0" x2="316.5" y2="723.6" stroke="#8e8e8e" stroke-width="2.8" stroke-linecap="round"/>
<circle cx="309.0" cy="722.6" r="0.8" fill="#3a56c0"/>
<circle cx="310.5" cy="724.0" r="0.9" fill="#e0262a"/>
<line x1="315.0" y1="723.5" x2="321.0" y2="723.6" stroke="#1a1a1a" stroke-width="0.8"/>
<polyline points="307.8,713.2 312.4,713.8 314.5,716.8" fill="none" stroke="#9a9a9a" stroke-width="1.5" stroke-linecap="round" stroke-linejoin="round"/>
<circle cx="315.5" cy="717.3" r="1.1" fill="#e0262a"/>
<line x1="313.0" y1="713.5" x2="314.8" y2="710.8" stroke="#1a1a1a" stroke-width="0.8"/>
<polyline points="310.7,736.5 312.4,731.3 316.0,732.4" fill="none" stroke="#9a9a9a" stroke-width="1.5" stroke-linecap="round" stroke-linejoin="round"/>
<line x1="316.0" y1="732.4" x2="318.5" y2="733.5" stroke="#1a1a1a" stroke-width="0.8"/>
<path d="M318.60,688.40 C317.85,688.75 315.42,690.68 314.10,690.50 C312.78,690.32 312.55,686.72 310.70,687.30 C308.85,687.88 304.50,691.72 303.00,694.00 C301.50,696.28 301.53,698.83 301.70,701.00 C301.87,703.17 303.08,705.17 304.00,707.00 C304.92,708.83 307.15,710.10 307.20,712.00 C307.25,713.90 305.08,716.45 304.30,718.40 C303.52,720.35 302.22,722.13 302.50,723.70 C302.78,725.27 304.35,727.02 306.00,727.80 C307.65,728.58 310.35,728.88 312.40,728.40 C314.45,727.92 317.22,726.17 318.30,724.90 C319.38,723.63 319.38,721.98 318.90,720.80 C318.42,719.62 316.67,718.15 315.40,717.80 C314.13,717.45 312.28,718.02 311.30,718.70 C310.32,719.38 309.80,721.07 309.50,721.90 C309.20,722.73 309.50,723.40 309.50,723.70 " fill="none" stroke="#94cf94" stroke-width="1.6" stroke-linecap="round" stroke-linejoin="round"/>
<text x="309.00" y="712.00" font-size="7.0" fill="#5cc08a" text-anchor="start" font-family='"Liberation Sans", sans-serif' stroke="#5cc08a" stroke-width="0.1" textLength="18" lengthAdjust="spacingAndGlyphs" >D1333</text>
<text x="313.00" y="737.80" font-size="7.0" fill="#5cc08a" text-anchor="start" font-family='"Liberation Sans", sans-serif' stroke="#5cc08a" stroke-width="0.1" textLength="17" lengthAdjust="spacingAndGlyphs" >L1335</text>
<text x="276.40" y="723.50" font-size="7.0" fill="#222" text-anchor="start" font-family='"Liberation Sans", sans-serif' stroke="#222" stroke-width="0.1" textLength="13.5" lengthAdjust="spacingAndGlyphs" >Y163</text>
<text x="320.80" y="725.80" font-size="7.0" fill="#222" text-anchor="start" font-family='"Liberation Sans", sans-serif' stroke="#222" stroke-width="0.1" textLength="14" lengthAdjust="spacingAndGlyphs" >Y165</text>
<text x="280.90" y="738.10" font-size="7.0" fill="#222" text-anchor="start" font-family='"Liberation Sans", sans-serif' stroke="#222" stroke-width="0.1" textLength="12.7" lengthAdjust="spacingAndGlyphs" >L152</text>
<polygon points="351.6,708.1 355.9,707.8 357.2,712.1 355.9,716.0 352.6,714.7 351.6,711.0" fill="none" stroke="#9a9a9a" stroke-width="1.4" stroke-linejoin="round"/>
<circle cx="350.6" cy="709.5" r="1.1" fill="#e0262a"/>
<circle cx="355.6" cy="716.3" r="0.8" fill="#3a56c0"/>
<line x1="351.5" y1="718.5" x2="353.0" y2="715.5" stroke="#1a1a1a" stroke-width="0.8"/>
<polyline points="357.2,712.1 360.5,714.0 363.1,716.0" fill="none" stroke="#9a9a9a" stroke-width="1.5" stroke-linecap="round" stroke-linejoin="round"/>
<circle cx="363.5" cy="718.0" r="1.1" fill="#e0262a"/>
<polygon points="364.5,717.8 369.5,716.5 370.0,722.0 367.5,725.0 364.5,722.5" fill="none" stroke="#9a9a9a" stroke-width="1.4" stroke-linejoin="round"/>
<polyline points="357.0,726.5 357.5,727.5 363.1,729.8 365.8,729.2 369.7,734.4" fill="none" stroke="#9a9a9a" stroke-width="1.5" stroke-linecap="round" stroke-linejoin="round"/>
<circle cx="356.6" cy="725.9" r="1.1" fill="#e0262a"/>
<circle cx="364.5" cy="728.3" r="0.8" fill="#3a56c0"/>
<line x1="363.1" y1="729.8" x2="361.8" y2="733.5" stroke="#1a1a1a" stroke-width="0.8"/>
<polygon points="379.5,703.5 383.0,701.5 386.0,703.5 386.0,707.5 382.5,709.5 379.5,707.5" fill="none" stroke="#9a9a9a" stroke-width="1.4" stroke-linejoin="round"/>
<circle cx="384.8" cy="703.5" r="0.9" fill="#3a56c0"/>
<circle cx="380.5" cy="709.0" r="0.9" fill="#3a56c0"/>
<polyline points="379.5,706.5 372.3,706.8" fill="none" stroke="#9a9a9a" stroke-width="1.5" stroke-linecap="round" stroke-linejoin="round"/>
<line x1="377.5" y1="702.5" x2="376.3" y2="699.8" stroke="#1a1a1a" stroke-width="0.8"/>
<line x1="373.5" y1="716.8" x2="381.8" y2="712.4" stroke="#8e8e8e" stroke-width="3.0" stroke-linecap="round"/>
<circle cx="373.0" cy="716.2" r="1.1" fill="#e0262a"/>
<circle cx="375.5" cy="713.2" r="0.8" fill="#3a56c0"/>
<line x1="381.0" y1="715.8" x2="389.5" y2="716.6" stroke="#1a1a1a" stroke-width="0.8"/>
<polyline points="384.2,723.9 382.9,728.5 385.5,733.1" fill="none" stroke="#9a9a9a" stroke-width="1.5" stroke-linecap="round" stroke-linejoin="round"/>
<line x1="383.5" y1="727.0" x2="387.0" y2="727.5" stroke="#1a1a1a" stroke-width="0.8"/>
<path d="M352.10,706.40 C352.50,705.67 353.75,703.57 354.50,702.00 C355.25,700.43 355.35,697.25 356.60,697.00 C357.85,696.75 359.93,699.67 362.00,700.50 C364.07,701.33 367.75,702.75 369.00,702.00 C370.25,701.25 369.42,695.33 369.50,696.00 C369.58,696.67 369.50,702.67 369.50,706.00 C369.50,709.33 369.22,713.30 369.50,716.00 C369.78,718.70 369.78,720.78 371.20,722.20 C372.62,723.62 375.75,724.23 378.00,724.50 C380.25,724.77 383.37,725.22 384.70,723.80 C386.03,722.38 385.82,718.23 386.00,716.00 C386.18,713.77 385.08,711.90 385.80,710.40 C386.52,708.90 389.60,708.73 390.30,707.00 C391.00,705.27 390.08,702.07 390.00,700.00 C389.92,697.93 388.80,696.25 389.80,694.60 C390.80,692.95 393.47,690.75 396.00,690.10 C398.53,689.45 402.77,690.23 405.00,690.70 C407.23,691.17 409.60,692.25 409.40,692.90 C409.20,693.55 405.67,693.75 403.80,694.60 C401.93,695.45 399.13,697.43 398.20,698.00 " fill="none" stroke="#8a74c6" stroke-width="1.6" stroke-linecap="round" stroke-linejoin="round"/>
<text x="372.40" y="700.30" font-size="7.0" fill="#9a86d0" text-anchor="start" font-family='"Liberation Sans", sans-serif' stroke="#9a86d0" stroke-width="0.1" textLength="14" lengthAdjust="spacingAndGlyphs" >H712</text>
<text x="388.10" y="730.80" font-size="7.0" fill="#9a86d0" text-anchor="start" font-family='"Liberation Sans", sans-serif' stroke="#9a86d0" stroke-width="0.1" textLength="13" lengthAdjust="spacingAndGlyphs" >L714</text>
<text x="347.60" y="724.10" font-size="7.0" fill="#222" text-anchor="start" font-family='"Liberation Sans", sans-serif' stroke="#222" stroke-width="0.1" textLength="13.5" lengthAdjust="spacingAndGlyphs" >Y163</text>
<text x="389.20" y="720.70" font-size="7.0" fill="#222" text-anchor="start" font-family='"Liberation Sans", sans-serif' stroke="#222" stroke-width="0.1" textLength="13.5" lengthAdjust="spacingAndGlyphs" >Y165</text>
<text x="351.60" y="738.70" font-size="7.0" fill="#222" text-anchor="start" font-family='"Liberation Sans", sans-serif' stroke="#222" stroke-width="0.1" textLength="13.4" lengthAdjust="spacingAndGlyphs" >L152</text>
<polygon points="434.2,714.6 436.4,713.5 438.6,715.3 439.0,719.7 437.2,721.9 435.0,720.1" fill="none" stroke="#9a9a9a" stroke-width="1.4" stroke-linejoin="round"/>
<circle cx="431.7" cy="716.8" r="1.1" fill="#e0262a"/>
<line x1="430.5" y1="720.5" x2="433.0" y2="717.2" stroke="#1a1a1a" stroke-width="0.8"/>
<circle cx="436.0" cy="721.5" r="0.7" fill="#3a56c0"/>
<polyline points="439.0,719.7 441.9,719.3 443.7,721.2" fill="none" stroke="#9a9a9a" stroke-width="1.5" stroke-linecap="round" stroke-linejoin="round"/>
<circle cx="444.3" cy="723.2" r="1.1" fill="#e0262a"/>
<polygon points="445.5,720.8 448.8,719.3 449.6,723.4 448.1,727.0 445.9,725.2" fill="none" stroke="#9a9a9a" stroke-width="1.4" stroke-linejoin="round"/>
<circle cx="448.8" cy="719.6" r="0.8" fill="#3a56c0"/>
<polyline points="438.6,731.0 440.8,733.6 445.5,733.2 447.7,734.3 450.7,738.0" fill="none" stroke="#9a9a9a" stroke-width="1.5" stroke-linecap="round" stroke-linejoin="round"/>
<circle cx="438.6" cy="730.5" r="1.1" fill="#e0262a"/>
<circle cx="446.3" cy="731.6" r="0.8" fill="#3a56c0"/>
<line x1="437.5" y1="736.0" x2="438.8" y2="732.5" stroke="#1a1a1a" stroke-width="0.8"/>
<polyline points="452.8,711.7 459.4,711.7 460.5,709.9" fill="none" stroke="#9a9a9a" stroke-width="1.5" stroke-linecap="round" stroke-linejoin="round"/>
<polyline points="459.4,711.7 461.0,714.3" fill="none" stroke="#9a9a9a" stroke-width="1.5" stroke-linecap="round" stroke-linejoin="round"/>
<circle cx="460.6" cy="709.6" r="1.1" fill="#e0262a"/>
<circle cx="461.2" cy="714.6" r="1.1" fill="#e0262a"/>
<line x1="461.0" y1="709.0" x2="463.0" y2="707.0" stroke="#1a1a1a" stroke-width="0.8"/>
<line x1="453.8" y1="719.4" x2="459.2" y2="718.6" stroke="#8e8e8e" stroke-width="3.2" stroke-linecap="round"/>
<circle cx="453.8" cy="721.0" r="1.1" fill="#e0262a"/>
<circle cx="453.5" cy="717.3" r="0.8" fill="#3a56c0"/>
<polyline points="461.6,729.2 463.1,732.1 463.8,735.0" fill="none" stroke="#9a9a9a" stroke-width="1.5" stroke-linecap="round" stroke-linejoin="round"/>
<line x1="463.0" y1="731.5" x2="466.0" y2="733.0" stroke="#1a1a1a" stroke-width="0.8"/>
<path d="M448.70,690.70 C449.45,690.32 450.95,687.85 453.20,688.40 C455.45,688.95 460.05,692.40 462.20,694.00 C464.35,695.60 467.78,696.87 466.10,698.00 C464.42,699.13 454.67,699.73 452.10,700.80 C449.53,701.87 450.82,702.95 450.70,704.40 C450.58,705.85 451.28,707.80 451.40,709.50 C451.52,711.20 451.52,712.78 451.40,714.60 C451.28,716.42 450.70,718.70 450.70,720.40 C450.70,722.10 450.68,723.70 451.40,724.80 C452.12,725.90 453.67,726.63 455.00,727.00 C456.33,727.37 458.23,727.17 459.40,727.00 C460.57,726.83 461.57,726.17 462.00,726.00 " fill="none" stroke="#8a74c6" stroke-width="1.6" stroke-linecap="round" stroke-linejoin="round"/>
<ellipse cx="465.6" cy="720.5" rx="5.6" ry="6.6" fill="#8a74c6" transform="rotate(-20 465.6 720.5)"/>
<line x1="459" y1="720" x2="470" y2="724" stroke="#1a1a1a" stroke-width="0.8"/>
<text x="456.00" y="707.20" font-size="7.0" fill="#9a86d0" text-anchor="start" font-family='"Liberation Sans", sans-serif' stroke="#9a86d0" stroke-width="0.1" textLength="18" lengthAdjust="spacingAndGlyphs" >D1168</text>
<text x="466.10" y="737.00" font-size="7.0" fill="#9a86d0" text-anchor="start" font-family='"Liberation Sans", sans-serif' stroke="#9a86d0" stroke-width="0.1" textLength="16" lengthAdjust="spacingAndGlyphs" >L1169</text>
<text x="419.00" y="727.50" font-size="7.0" fill="#222" text-anchor="start" font-family='"Liberation Sans", sans-serif' stroke="#222" stroke-width="0.1" textLength="14" lengthAdjust="spacingAndGlyphs" >Y163</text>
<text x="469.50" y="727.20" font-size="7.0" fill="#222" text-anchor="start" font-family='"Liberation Sans", sans-serif' stroke="#222" stroke-width="0.1" textLength="12.4" lengthAdjust="spacingAndGlyphs" >Y165</text>
<text x="425.70" y="738.70" font-size="7.0" fill="#222" text-anchor="start" font-family='"Liberation Sans", sans-serif' stroke="#222" stroke-width="0.1" textLength="13.5" lengthAdjust="spacingAndGlyphs" >L152</text>
<polygon points="503.3,712.4 507.3,709.5 509.5,711.7 509.5,715.3 506.6,716.8 503.7,715.7" fill="none" stroke="#9a9a9a" stroke-width="1.4" stroke-linejoin="round"/>
<circle cx="502.6" cy="711.3" r="1.1" fill="#e0262a"/>
<line x1="502.0" y1="718.5" x2="503.8" y2="715.8" stroke="#1a1a1a" stroke-width="0.8"/>
<circle cx="505.5" cy="716.5" r="0.7" fill="#3a56c0"/>
<polyline points="509.5,715.3 511.3,717.2 511.6,719.5" fill="none" stroke="#9a9a9a" stroke-width="1.5" stroke-linecap="round" stroke-linejoin="round"/>
<circle cx="511.6" cy="720.2" r="1.1" fill="#e0262a"/>
<polygon points="513.9,721.9 517.5,719.3 518.6,722.3 516.8,725.2 514.3,724.8" fill="none" stroke="#9a9a9a" stroke-width="1.4" stroke-linejoin="round"/>
<circle cx="517.5" cy="719.6" r="0.8" fill="#3a56c0"/>
<polyline points="504.4,727.5 505.1,729.9 510.6,729.2 512.4,730.7 513.9,737.2" fill="none" stroke="#9a9a9a" stroke-width="1.5" stroke-linecap="round" stroke-linejoin="round"/>
<polyline points="505.1,729.9 504.5,733.5" fill="none" stroke="#9a9a9a" stroke-width="1.5" stroke-linecap="round" stroke-linejoin="round"/>
<circle cx="504.4" cy="726.3" r="1.1" fill="#e0262a"/>
<circle cx="510.6" cy="728.8" r="0.8" fill="#3a56c0"/>
<polyline points="524.1,714.2 530.0,714.2 531.8,713.1" fill="none" stroke="#9a9a9a" stroke-width="1.5" stroke-linecap="round" stroke-linejoin="round"/>
<polyline points="530.0,714.2 531.5,717.0" fill="none" stroke="#9a9a9a" stroke-width="1.5" stroke-linecap="round" stroke-linejoin="round"/>
<circle cx="532.0" cy="712.8" r="1.1" fill="#e0262a"/>
<circle cx="531.6" cy="717.6" r="1.1" fill="#e0262a"/>
<line x1="527.5" y1="713.2" x2="530.0" y2="710.5" stroke="#1a1a1a" stroke-width="0.8"/>
<line x1="522.2" y1="721.6" x2="529.6" y2="718.8" stroke="#8e8e8e" stroke-width="3.2" stroke-linecap="round"/>
<circle cx="521.9" cy="721.9" r="1.1" fill="#e0262a"/>
<circle cx="523.5" cy="717.4" r="0.8" fill="#3a56c0"/>
<polyline points="527.0,732.8 526.3,736.5 527.8,739.4" fill="none" stroke="#9a9a9a" stroke-width="1.5" stroke-linecap="round" stroke-linejoin="round"/>
<line x1="527.0" y1="734.5" x2="530.0" y2="733.8" stroke="#1a1a1a" stroke-width="0.8"/>
<path d="M519.50,690.70 C519.68,691.08 519.67,693.00 520.60,693.00 C521.53,693.00 522.85,691.27 525.10,690.70 C527.35,690.13 531.48,688.02 534.10,689.60 C536.72,691.18 540.23,697.77 540.80,700.20 C541.37,702.63 539.93,703.63 537.50,704.20 C535.07,704.77 528.55,702.83 526.20,703.60 C523.85,704.37 523.98,707.22 523.40,708.80 C522.82,710.38 523.32,711.53 522.70,713.10 C522.08,714.67 520.57,716.62 519.70,718.20 C518.83,719.78 517.50,721.25 517.50,722.60 C517.50,723.95 518.48,725.20 519.70,726.30 C520.92,727.40 523.08,728.72 524.80,729.20 C526.52,729.68 529.13,729.20 530.00,729.20 " fill="none" stroke="#8a74c6" stroke-width="1.6" stroke-linecap="round" stroke-linejoin="round"/>
<ellipse cx="534" cy="724.6" rx="6.6" ry="6.4" fill="#8a74c6"/>
<line x1="528" y1="720" x2="537.5" y2="716" stroke="#1a1a1a" stroke-width="0.8"/>
<text x="526.20" y="711.20" font-size="7.0" fill="#9a86d0" text-anchor="start" font-family='"Liberation Sans", sans-serif' stroke="#9a86d0" stroke-width="0.1" textLength="17.4" lengthAdjust="spacingAndGlyphs" >D1202</text>
<text x="530.70" y="737.80" font-size="7.0" fill="#9a86d0" text-anchor="start" font-family='"Liberation Sans", sans-serif' stroke="#9a86d0" stroke-width="0.1" textLength="16.3" lengthAdjust="spacingAndGlyphs" >L1204</text>
<text x="494.70" y="724.10" font-size="7.0" fill="#222" text-anchor="start" font-family='"Liberation Sans", sans-serif' stroke="#222" stroke-width="0.1" textLength="13.5" lengthAdjust="spacingAndGlyphs" >Y163</text>
<text x="534.60" y="718.50" font-size="7.0" fill="#222" text-anchor="start" font-family='"Liberation Sans", sans-serif' stroke="#222" stroke-width="0.1" textLength="13.5" lengthAdjust="spacingAndGlyphs" >Y165</text>
<text x="494.70" y="738.70" font-size="7.0" fill="#222" text-anchor="start" font-family='"Liberation Sans", sans-serif' stroke="#222" stroke-width="0.1" textLength="13" lengthAdjust="spacingAndGlyphs" >L152</text>
<line x1="308.3" y1="742.7" x2="311.6" y2="761.9" stroke="#a9a9a9" stroke-width="1.8"/>
<line x1="304.7" y1="763.1" x2="318.5" y2="760.7" stroke="#a9a9a9" stroke-width="2.2"/>
<line x1="316.0" y1="741.6" x2="339.3" y2="757.3" stroke="#9a9a9a" stroke-width="1.8"/>
<path d="M348.4,763.5 L331.4,761.0 Q341.2,758.6 339.8,748.6 Z" fill="#8e8e8e"/>
<line x1="371.8" y1="743.8" x2="371.8" y2="763.5" stroke="#a9a9a9" stroke-width="1.8"/>
<line x1="364.4" y1="763.5" x2="379.2" y2="763.5" stroke="#a9a9a9" stroke-width="2.2"/>
<line x1="374.7" y1="744.2" x2="404.2" y2="759.1" stroke="#9a9a9a" stroke-width="1.8"/>
<path d="M414.0,764.1 L396.8,763.8 Q406.3,760.2 403.6,750.4 Z" fill="#8e8e8e"/>
<line x1="446.8" y1="744.9" x2="428.2" y2="754.6" stroke="#a9a9a9" stroke-width="1.8"/>
<line x1="424.9" y1="748.2" x2="431.5" y2="761.0" stroke="#a9a9a9" stroke-width="2.2"/>
<line x1="454.9" y1="744.9" x2="457.3" y2="755.0" stroke="#9a9a9a" stroke-width="1.8"/>
<path d="M459.9,765.7 L448.7,752.5 Q457.9,757.3 463.9,748.8 Z" fill="#8e8e8e"/>
<line x1="517.3" y1="744.2" x2="499.3" y2="753.8" stroke="#a9a9a9" stroke-width="1.8"/>
<line x1="495.9" y1="747.4" x2="502.7" y2="760.2" stroke="#a9a9a9" stroke-width="2.2"/>
<line x1="522.8" y1="743.8" x2="522.5" y2="754.7" stroke="#9a9a9a" stroke-width="1.8"/>
<path d="M522.1,765.7 L514.4,749.9 Q522.4,757.0 530.8,750.5 Z" fill="#8e8e8e"/>
<rect x="241.5" y="793.8" width="68.30" height="57.30" fill="none" stroke="#8a8a8a" stroke-width="1.4" stroke-dasharray="2 2.2"/>
<polygon points="254.9,824.6 257.8,822.0 260.0,823.5 260.0,827.5 257.4,829.3 255.2,828.6" fill="none" stroke="#9a9a9a" stroke-width="1.4" stroke-linejoin="round"/>
<circle cx="254.0" cy="823.5" r="1.1" fill="#e0262a"/>
<line x1="256.0" y1="819.5" x2="257.0" y2="822.3" stroke="#1a1a1a" stroke-width="0.8"/>
<circle cx="256.5" cy="829.0" r="0.7" fill="#3a56c0"/>
<polyline points="260.0,827.5 261.8,831.2" fill="none" stroke="#9a9a9a" stroke-width="1.5" stroke-linecap="round" stroke-linejoin="round"/>
<circle cx="261.8" cy="831.4" r="1.1" fill="#e0262a"/>
<polygon points="264.0,833.4 266.9,831.2 268.4,834.1 266.9,837.7 264.3,837.4" fill="none" stroke="#9a9a9a" stroke-width="1.4" stroke-linejoin="round"/>
<polyline points="254.9,839.0 254.9,841.4 260.3,841.4 262.5,843.6 264.0,845.0 268.0,846.9" fill="none" stroke="#9a9a9a" stroke-width="1.5" stroke-linecap="round" stroke-linejoin="round"/>
<circle cx="254.5" cy="837.7" r="1.1" fill="#e0262a"/>
<circle cx="260.3" cy="840.8" r="0.8" fill="#3a56c0"/>
<line x1="254.5" y1="841.5" x2="253.5" y2="845.0" stroke="#1a1a1a" stroke-width="0.8"/>
<polyline points="271.3,823.5 277.1,823.9" fill="none" stroke="#9a9a9a" stroke-width="1.5" stroke-linecap="round" stroke-linejoin="round"/>
<line x1="278.5" y1="824.3" x2="283.5" y2="826.4" stroke="#4a5fb5" stroke-width="2.4" stroke-linecap="round"/>
<line x1="276.0" y1="823.8" x2="280.5" y2="816.5" stroke="#1a1a1a" stroke-width="0.8"/>
<line x1="271.8" y1="829.2" x2="276.4" y2="827.9" stroke="#8e8e8e" stroke-width="2.8" stroke-linecap="round"/>
<polyline points="272.7,832.6 277.0,830.0" fill="none" stroke="#9a9a9a" stroke-width="1.5" stroke-linecap="round" stroke-linejoin="round"/>
<circle cx="273.5" cy="832.4" r="1.1" fill="#e0262a"/>
<circle cx="272.0" cy="828.8" r="0.8" fill="#3a56c0"/>
<line x1="275.0" y1="831.0" x2="285.5" y2="827.6" stroke="#1a1a1a" stroke-width="0.8"/>
<polyline points="278.6,842.1 277.8,847.2" fill="none" stroke="#9a9a9a" stroke-width="1.5" stroke-linecap="round" stroke-linejoin="round"/>
<line x1="279.0" y1="843.4" x2="286.0" y2="845.5" stroke="#1a1a1a" stroke-width="0.8"/>
<path d="M259.60,797.90 C260.25,798.25 262.13,799.22 263.50,800.00 C264.87,800.78 266.38,802.77 267.80,802.60 C269.22,802.43 270.55,799.88 272.00,799.00 C273.45,798.12 274.38,797.58 276.50,797.30 C278.62,797.02 282.75,796.32 284.70,797.30 C286.65,798.28 288.32,802.75 288.20,803.20 C288.08,803.65 285.37,800.58 284.00,800.00 C282.63,799.42 281.67,799.37 280.00,799.70 C278.33,800.03 275.55,800.83 274.00,802.00 C272.45,803.17 271.53,804.70 270.70,806.70 C269.87,808.70 269.28,811.67 269.00,814.00 C268.72,816.33 269.20,817.63 269.00,820.70 C268.80,823.77 267.32,829.48 267.80,832.40 C268.28,835.32 270.25,837.43 271.90,838.20 C273.55,838.97 275.77,838.07 277.70,837.00 C279.63,835.93 281.55,832.67 283.50,831.80 C285.45,830.93 287.45,830.73 289.40,831.80 C291.35,832.87 294.33,836.83 295.20,838.20 C296.07,839.57 294.70,839.70 294.60,840.00 " fill="none" stroke="#f0a02a" stroke-width="1.7" stroke-linecap="round" stroke-linejoin="round"/>
<text x="275.60" y="815.00" font-size="7.2" fill="#f0a02a" text-anchor="start" font-family='"Liberation Sans", sans-serif' stroke="#f0a02a" stroke-width="0.1" textLength="10.5" lengthAdjust="spacingAndGlyphs" >H33</text>
<text x="285.90" y="848.30" font-size="7.2" fill="#f0a02a" text-anchor="start" font-family='"Liberation Sans", sans-serif' stroke="#f0a02a" stroke-width="0.1" textLength="10" lengthAdjust="spacingAndGlyphs" >L35</text>
<text x="248.50" y="820.30" font-size="7.0" fill="#222" text-anchor="start" font-family='"Liberation Sans", sans-serif' stroke="#222" stroke-width="0.1" textLength="13.4" lengthAdjust="spacingAndGlyphs" >Y163</text>
<text x="286.50" y="830.80" font-size="7.0" fill="#222" text-anchor="start" font-family='"Liberation Sans", sans-serif' stroke="#222" stroke-width="0.1" textLength="13.4" lengthAdjust="spacingAndGlyphs" >Y165</text>
<text x="246.80" y="849.50" font-size="7.0" fill="#222" text-anchor="start" font-family='"Liberation Sans", sans-serif' stroke="#222" stroke-width="0.1" textLength="13.4" lengthAdjust="spacingAndGlyphs" >L152</text>
<text x="273.80" y="861.00" font-size="9.2" fill="#1a1a1a" text-anchor="middle" font-family='"Liberation Sans", sans-serif' stroke="#1a1a1a" stroke-width="0.1" textLength="23.5" lengthAdjust="spacingAndGlyphs" >Vps35L</text>
<text x="269.00" y="869.20" font-size="6.3" fill="#1a1a1a" text-anchor="middle" font-family='"Liberation Sans", sans-serif' stroke="#1a1a1a" stroke-width="0.1" textLength="38.5" lengthAdjust="spacingAndGlyphs" >(33 - HPL - 35)</text>
<line x1="316.8" y1="810.2" x2="339.0" y2="810.2" stroke="#9a9a9a" stroke-width="1.8"/>
<path d="M347.0,810.2 L334.5,816.4 Q340.2,810.2 334.5,804.0 Z" fill="#8e8e8e"/>
<clipPath id="cp1"><polygon points="338.8,856.4 339.0,845.0 338.2,823.0 342.6,821.8 345.4,823.2 348.3,827.5 351.1,833.6 353.0,832.7 351.6,826.0 349.2,820.4 349.2,817.5 352.1,815.6 356.8,812.8 361.6,810.4 365.4,807.1 366.3,801.4 368.2,796.6 374.8,794.3 382.4,795.2 390.0,796.2 393.8,801.4 396.7,807.1 394.8,811.8 393.8,817.5 394.3,822.3 392.9,828.0 393.8,837.4 394.8,845.0 391.0,849.8 387.2,854.5 381.5,855.5 378.6,852.6 379.6,843.1 378.6,837.4 373.0,838.4 369.2,845.0 365.4,849.8 361.6,851.7 357.8,856.4 352.1,858.3 344.5,857.8"/><circle cx="338.8" cy="856.4" r="1.1"/><circle cx="338.8" cy="854.1" r="1.2"/><circle cx="338.9" cy="851.8" r="1.5"/><circle cx="338.9" cy="849.6" r="1.1"/><circle cx="339.0" cy="847.3" r="1.2"/><circle cx="339.0" cy="845.0" r="1.2"/><circle cx="338.9" cy="842.8" r="0.9"/><circle cx="338.8" cy="840.6" r="1.2"/><circle cx="338.8" cy="838.4" r="1.3"/><circle cx="338.7" cy="836.2" r="1.4"/><circle cx="338.6" cy="834.0" r="0.9"/><circle cx="338.5" cy="831.8" r="1.0"/><circle cx="338.4" cy="829.6" r="0.9"/><circle cx="338.4" cy="827.4" r="1.4"/><circle cx="338.3" cy="825.2" r="1.3"/><circle cx="338.2" cy="823.0" r="0.8"/><circle cx="340.4" cy="822.4" r="1.5"/><circle cx="342.6" cy="821.8" r="1.5"/><circle cx="345.4" cy="823.2" r="1.3"/><circle cx="346.9" cy="825.4" r="1.3"/><circle cx="348.3" cy="827.5" r="0.9"/><circle cx="349.2" cy="829.5" r="0.8"/><circle cx="350.2" cy="831.6" r="1.2"/><circle cx="351.1" cy="833.6" r="0.8"/><circle cx="353.0" cy="832.7" r="0.9"/><circle cx="352.5" cy="830.5" r="1.0"/><circle cx="352.1" cy="828.2" r="0.8"/><circle cx="351.6" cy="826.0" r="1.1"/><circle cx="350.4" cy="823.2" r="1.1"/><circle cx="349.2" cy="820.4" r="1.4"/><circle cx="349.2" cy="817.5" r="1.2"/><circle cx="352.1" cy="815.6" r="1.3"/><circle cx="354.5" cy="814.2" r="1.2"/><circle cx="356.8" cy="812.8" r="1.3"/><circle cx="359.2" cy="811.6" r="1.1"/><circle cx="361.6" cy="810.4" r="1.0"/><circle cx="363.5" cy="808.8" r="1.6"/><circle cx="365.4" cy="807.1" r="1.6"/><circle cx="365.9" cy="804.2" r="1.4"/><circle cx="366.3" cy="801.4" r="1.3"/><circle cx="367.2" cy="799.0" r="1.0"/><circle cx="368.2" cy="796.6" r="1.0"/><circle cx="370.4" cy="795.8" r="1.0"/><circle cx="372.6" cy="795.1" r="0.8"/><circle cx="374.8" cy="794.3" r="1.4"/><circle cx="377.3" cy="794.6" r="1.1"/><circle cx="379.9" cy="794.9" r="1.4"/><circle cx="382.4" cy="795.2" r="1.1"/><circle cx="384.9" cy="795.5" r="1.5"/><circle cx="387.5" cy="795.9" r="1.4"/><circle cx="390.0" cy="796.2" r="0.8"/><circle cx="391.9" cy="798.8" r="0.9"/><circle cx="393.8" cy="801.4" r="1.5"/><circle cx="395.2" cy="804.2" r="1.1"/><circle cx="396.7" cy="807.1" r="1.5"/><circle cx="395.8" cy="809.5" r="1.1"/><circle cx="394.8" cy="811.8" r="0.8"/><circle cx="394.3" cy="814.6" r="1.3"/><circle cx="393.8" cy="817.5" r="1.4"/><circle cx="394.1" cy="819.9" r="1.0"/><circle cx="394.3" cy="822.3" r="0.8"/><circle cx="393.6" cy="825.1" r="1.0"/><circle cx="392.9" cy="828.0" r="1.5"/><circle cx="393.1" cy="830.4" r="1.4"/><circle cx="393.4" cy="832.7" r="0.9"/><circle cx="393.6" cy="835.0" r="1.0"/><circle cx="393.8" cy="837.4" r="0.9"/><circle cx="394.1" cy="839.9" r="0.8"/><circle cx="394.5" cy="842.5" r="1.4"/><circle cx="394.8" cy="845.0" r="0.9"/><circle cx="392.9" cy="847.4" r="1.2"/><circle cx="391.0" cy="849.8" r="1.1"/><circle cx="389.1" cy="852.1" r="0.9"/><circle cx="387.2" cy="854.5" r="1.4"/><circle cx="384.4" cy="855.0" r="0.9"/><circle cx="381.5" cy="855.5" r="1.3"/><circle cx="378.6" cy="852.6" r="0.9"/><circle cx="378.9" cy="850.2" r="1.1"/><circle cx="379.1" cy="847.9" r="0.9"/><circle cx="379.4" cy="845.5" r="1.0"/><circle cx="379.6" cy="843.1" r="1.5"/><circle cx="379.1" cy="840.2" r="1.4"/><circle cx="378.6" cy="837.4" r="1.0"/><circle cx="375.8" cy="837.9" r="1.5"/><circle cx="373.0" cy="838.4" r="0.9"/><circle cx="371.7" cy="840.6" r="1.1"/><circle cx="370.5" cy="842.8" r="1.4"/><circle cx="369.2" cy="845.0" r="1.3"/><circle cx="367.3" cy="847.4" r="0.9"/><circle cx="365.4" cy="849.8" r="1.6"/><circle cx="361.6" cy="851.7" r="0.9"/><circle cx="359.7" cy="854.0" r="1.0"/><circle cx="357.8" cy="856.4" r="1.4"/><circle cx="355.0" cy="857.3" r="1.0"/><circle cx="352.1" cy="858.3" r="1.0"/><circle cx="349.6" cy="858.1" r="0.8"/><circle cx="347.0" cy="858.0" r="0.9"/><circle cx="344.5" cy="857.8" r="1.2"/><circle cx="341.6" cy="857.1" r="1.0"/></clipPath>
<g fill="#f5a31a"><polygon points="338.8,856.4 339.0,845.0 338.2,823.0 342.6,821.8 345.4,823.2 348.3,827.5 351.1,833.6 353.0,832.7 351.6,826.0 349.2,820.4 349.2,817.5 352.1,815.6 356.8,812.8 361.6,810.4 365.4,807.1 366.3,801.4 368.2,796.6 374.8,794.3 382.4,795.2 390.0,796.2 393.8,801.4 396.7,807.1 394.8,811.8 393.8,817.5 394.3,822.3 392.9,828.0 393.8,837.4 394.8,845.0 391.0,849.8 387.2,854.5 381.5,855.5 378.6,852.6 379.6,843.1 378.6,837.4 373.0,838.4 369.2,845.0 365.4,849.8 361.6,851.7 357.8,856.4 352.1,858.3 344.5,857.8" stroke="#f5a31a" stroke-width="1.5" stroke-linejoin="round"/><circle cx="338.8" cy="856.4" r="1.1"/><circle cx="338.8" cy="854.1" r="1.2"/><circle cx="338.9" cy="851.8" r="1.5"/><circle cx="338.9" cy="849.6" r="1.1"/><circle cx="339.0" cy="847.3" r="1.2"/><circle cx="339.0" cy="845.0" r="1.2"/><circle cx="338.9" cy="842.8" r="0.9"/><circle cx="338.8" cy="840.6" r="1.2"/><circle cx="338.8" cy="838.4" r="1.3"/><circle cx="338.7" cy="836.2" r="1.4"/><circle cx="338.6" cy="834.0" r="0.9"/><circle cx="338.5" cy="831.8" r="1.0"/><circle cx="338.4" cy="829.6" r="0.9"/><circle cx="338.4" cy="827.4" r="1.4"/><circle cx="338.3" cy="825.2" r="1.3"/><circle cx="338.2" cy="823.0" r="0.8"/><circle cx="340.4" cy="822.4" r="1.5"/><circle cx="342.6" cy="821.8" r="1.5"/><circle cx="345.4" cy="823.2" r="1.3"/><circle cx="346.9" cy="825.4" r="1.3"/><circle cx="348.3" cy="827.5" r="0.9"/><circle cx="349.2" cy="829.5" r="0.8"/><circle cx="350.2" cy="831.6" r="1.2"/><circle cx="351.1" cy="833.6" r="0.8"/><circle cx="353.0" cy="832.7" r="0.9"/><circle cx="352.5" cy="830.5" r="1.0"/><circle cx="352.1" cy="828.2" r="0.8"/><circle cx="351.6" cy="826.0" r="1.1"/><circle cx="350.4" cy="823.2" r="1.1"/><circle cx="349.2" cy="820.4" r="1.4"/><circle cx="349.2" cy="817.5" r="1.2"/><circle cx="352.1" cy="815.6" r="1.3"/><circle cx="354.5" cy="814.2" r="1.2"/><circle cx="356.8" cy="812.8" r="1.3"/><circle cx="359.2" cy="811.6" r="1.1"/><circle cx="361.6" cy="810.4" r="1.0"/><circle cx="363.5" cy="808.8" r="1.6"/><circle cx="365.4" cy="807.1" r="1.6"/><circle cx="365.9" cy="804.2" r="1.4"/><circle cx="366.3" cy="801.4" r="1.3"/><circle cx="367.2" cy="799.0" r="1.0"/><circle cx="368.2" cy="796.6" r="1.0"/><circle cx="370.4" cy="795.8" r="1.0"/><circle cx="372.6" cy="795.1" r="0.8"/><circle cx="374.8" cy="794.3" r="1.4"/><circle cx="377.3" cy="794.6" r="1.1"/><circle cx="379.9" cy="794.9" r="1.4"/><circle cx="382.4" cy="795.2" r="1.1"/><circle cx="384.9" cy="795.5" r="1.5"/><circle cx="387.5" cy="795.9" r="1.4"/><circle cx="390.0" cy="796.2" r="0.8"/><circle cx="391.9" cy="798.8" r="0.9"/><circle cx="393.8" cy="801.4" r="1.5"/><circle cx="395.2" cy="804.2" r="1.1"/><circle cx="396.7" cy="807.1" r="1.5"/><circle cx="395.8" cy="809.5" r="1.1"/><circle cx="394.8" cy="811.8" r="0.8"/><circle cx="394.3" cy="814.6" r="1.3"/><circle cx="393.8" cy="817.5" r="1.4"/><circle cx="394.1" cy="819.9" r="1.0"/><circle cx="394.3" cy="822.3" r="0.8"/><circle cx="393.6" cy="825.1" r="1.0"/><circle cx="392.9" cy="828.0" r="1.5"/><circle cx="393.1" cy="830.4" r="1.4"/><circle cx="393.4" cy="832.7" r="0.9"/><circle cx="393.6" cy="835.0" r="1.0"/><circle cx="393.8" cy="837.4" r="0.9"/><circle cx="394.1" cy="839.9" r="0.8"/><circle cx="394.5" cy="842.5" r="1.4"/><circle cx="394.8" cy="845.0" r="0.9"/><circle cx="392.9" cy="847.4" r="1.2"/><circle cx="391.0" cy="849.8" r="1.1"/><circle cx="389.1" cy="852.1" r="0.9"/><circle cx="387.2" cy="854.5" r="1.4"/><circle cx="384.4" cy="855.0" r="0.9"/><circle cx="381.5" cy="855.5" r="1.3"/><circle cx="378.6" cy="852.6" r="0.9"/><circle cx="378.9" cy="850.2" r="1.1"/><circle cx="379.1" cy="847.9" r="0.9"/><circle cx="379.4" cy="845.5" r="1.0"/><circle cx="379.6" cy="843.1" r="1.5"/><circle cx="379.1" cy="840.2" r="1.4"/><circle cx="378.6" cy="837.4" r="1.0"/><circle cx="375.8" cy="837.9" r="1.5"/><circle cx="373.0" cy="838.4" r="0.9"/><circle cx="371.7" cy="840.6" r="1.1"/><circle cx="370.5" cy="842.8" r="1.4"/><circle cx="369.2" cy="845.0" r="1.3"/><circle cx="367.3" cy="847.4" r="0.9"/><circle cx="365.4" cy="849.8" r="1.6"/><circle cx="361.6" cy="851.7" r="0.9"/><circle cx="359.7" cy="854.0" r="1.0"/><circle cx="357.8" cy="856.4" r="1.4"/><circle cx="355.0" cy="857.3" r="1.0"/><circle cx="352.1" cy="858.3" r="1.0"/><circle cx="349.6" cy="858.1" r="0.8"/><circle cx="347.0" cy="858.0" r="0.9"/><circle cx="344.5" cy="857.8" r="1.2"/><circle cx="341.6" cy="857.1" r="1.0"/></g>
<polygon points="356.8,819.4 366.3,817.5 371,823.2 376.7,830.8 374.8,837.4 370.1,842.2 366.3,848.8 361.6,846 358.7,837.4 357.8,829.8" fill="#f8b440"/>
<clipPath id="cp2"><polygon points="367.7,818.5 373.0,816.6 374.8,813.7 379.6,812.3 388.1,811.3 391.0,815.6 390.0,821.3 388.1,825.1 384.3,828.0 381.5,833.6 377.7,834.6 373.9,829.8 368.2,826.0 367.3,822.3"/><circle cx="367.7" cy="818.5" r="1.0"/><circle cx="370.4" cy="817.5" r="1.0"/><circle cx="373.0" cy="816.6" r="1.1"/><circle cx="374.8" cy="813.7" r="1.2"/><circle cx="377.2" cy="813.0" r="1.0"/><circle cx="379.6" cy="812.3" r="1.2"/><circle cx="382.4" cy="812.0" r="0.6"/><circle cx="385.3" cy="811.6" r="0.9"/><circle cx="388.1" cy="811.3" r="1.2"/><circle cx="389.6" cy="813.5" r="1.0"/><circle cx="391.0" cy="815.6" r="1.1"/><circle cx="390.5" cy="818.5" r="0.7"/><circle cx="390.0" cy="821.3" r="0.9"/><circle cx="388.1" cy="825.1" r="0.7"/><circle cx="386.2" cy="826.5" r="0.9"/><circle cx="384.3" cy="828.0" r="0.9"/><circle cx="382.9" cy="830.8" r="0.6"/><circle cx="381.5" cy="833.6" r="0.7"/><circle cx="377.7" cy="834.6" r="0.8"/><circle cx="375.8" cy="832.2" r="1.1"/><circle cx="373.9" cy="829.8" r="1.1"/><circle cx="372.0" cy="828.5" r="0.7"/><circle cx="370.1" cy="827.3" r="1.1"/><circle cx="368.2" cy="826.0" r="0.7"/><circle cx="367.3" cy="822.3" r="1.0"/></clipPath>
<g fill="#e8223f"><polygon points="367.7,818.5 373.0,816.6 374.8,813.7 379.6,812.3 388.1,811.3 391.0,815.6 390.0,821.3 388.1,825.1 384.3,828.0 381.5,833.6 377.7,834.6 373.9,829.8 368.2,826.0 367.3,822.3" stroke="#e8223f" stroke-width="1.5" stroke-linejoin="round"/><circle cx="367.7" cy="818.5" r="1.0"/><circle cx="370.4" cy="817.5" r="1.0"/><circle cx="373.0" cy="816.6" r="1.1"/><circle cx="374.8" cy="813.7" r="1.2"/><circle cx="377.2" cy="813.0" r="1.0"/><circle cx="379.6" cy="812.3" r="1.2"/><circle cx="382.4" cy="812.0" r="0.6"/><circle cx="385.3" cy="811.6" r="0.9"/><circle cx="388.1" cy="811.3" r="1.2"/><circle cx="389.6" cy="813.5" r="1.0"/><circle cx="391.0" cy="815.6" r="1.1"/><circle cx="390.5" cy="818.5" r="0.7"/><circle cx="390.0" cy="821.3" r="0.9"/><circle cx="388.1" cy="825.1" r="0.7"/><circle cx="386.2" cy="826.5" r="0.9"/><circle cx="384.3" cy="828.0" r="0.9"/><circle cx="382.9" cy="830.8" r="0.6"/><circle cx="381.5" cy="833.6" r="0.7"/><circle cx="377.7" cy="834.6" r="0.8"/><circle cx="375.8" cy="832.2" r="1.1"/><circle cx="373.9" cy="829.8" r="1.1"/><circle cx="372.0" cy="828.5" r="0.7"/><circle cx="370.1" cy="827.3" r="1.1"/><circle cx="368.2" cy="826.0" r="0.7"/><circle cx="367.3" cy="822.3" r="1.0"/></g>
<polygon points="381.5,837.4 391,837.4 391.9,845 386.2,850.7 382.9,848.8 383.4,843.1" fill="#fff"/>
<ellipse cx="354.9" cy="822.5" rx="2.2" ry="3.2" fill="#fff"/>
<clipPath id="cp3"><polygon points="322.1,822.9 324.1,824.9 326.7,824.9 332.6,823.2 336.5,823.5 337.9,828.1 337.5,840.0 339.2,845.9 341.8,853.1 340.5,857.7 337.9,861.0 337.2,864.9 333.3,861.0 326.7,859.7 320.8,857.0 314.9,854.4 311.6,849.8 310.9,844.6 313.5,841.9 318.1,841.9 322.7,840.6 323.4,836.7 321.4,834.7 322.7,831.4 318.8,827.5 320.8,824.9"/><circle cx="322.1" cy="822.9" r="0.9"/><circle cx="324.1" cy="824.9" r="0.8"/><circle cx="326.7" cy="824.9" r="1.0"/><circle cx="329.6" cy="824.0" r="0.8"/><circle cx="332.6" cy="823.2" r="0.8"/><circle cx="336.5" cy="823.5" r="1.0"/><circle cx="337.2" cy="825.8" r="1.4"/><circle cx="337.9" cy="828.1" r="1.3"/><circle cx="337.8" cy="830.5" r="1.3"/><circle cx="337.7" cy="832.9" r="0.9"/><circle cx="337.7" cy="835.2" r="1.1"/><circle cx="337.6" cy="837.6" r="0.9"/><circle cx="337.5" cy="840.0" r="0.8"/><circle cx="338.4" cy="843.0" r="0.8"/><circle cx="339.2" cy="845.9" r="0.9"/><circle cx="340.1" cy="848.3" r="1.4"/><circle cx="340.9" cy="850.7" r="1.3"/><circle cx="341.8" cy="853.1" r="1.3"/><circle cx="341.1" cy="855.4" r="1.3"/><circle cx="340.5" cy="857.7" r="0.9"/><circle cx="337.9" cy="861.0" r="0.9"/><circle cx="337.2" cy="864.9" r="1.2"/><circle cx="335.2" cy="863.0" r="1.2"/><circle cx="333.3" cy="861.0" r="1.3"/><circle cx="331.1" cy="860.6" r="1.4"/><circle cx="328.9" cy="860.1" r="0.8"/><circle cx="326.7" cy="859.7" r="1.2"/><circle cx="323.8" cy="858.4" r="1.2"/><circle cx="320.8" cy="857.0" r="1.1"/><circle cx="317.9" cy="855.7" r="0.8"/><circle cx="314.9" cy="854.4" r="1.1"/><circle cx="313.2" cy="852.1" r="0.8"/><circle cx="311.6" cy="849.8" r="1.4"/><circle cx="311.2" cy="847.2" r="1.3"/><circle cx="310.9" cy="844.6" r="1.1"/><circle cx="313.5" cy="841.9" r="0.9"/><circle cx="315.8" cy="841.9" r="1.4"/><circle cx="318.1" cy="841.9" r="1.1"/><circle cx="320.4" cy="841.2" r="1.4"/><circle cx="322.7" cy="840.6" r="1.3"/><circle cx="323.4" cy="836.7" r="1.1"/><circle cx="321.4" cy="834.7" r="1.0"/><circle cx="322.7" cy="831.4" r="1.2"/><circle cx="320.8" cy="829.5" r="1.0"/><circle cx="318.8" cy="827.5" r="0.8"/><circle cx="320.8" cy="824.9" r="0.9"/></clipPath>
<g fill="#0e9494"><polygon points="322.1,822.9 324.1,824.9 326.7,824.9 332.6,823.2 336.5,823.5 337.9,828.1 337.5,840.0 339.2,845.9 341.8,853.1 340.5,857.7 337.9,861.0 337.2,864.9 333.3,861.0 326.7,859.7 320.8,857.0 314.9,854.4 311.6,849.8 310.9,844.6 313.5,841.9 318.1,841.9 322.7,840.6 323.4,836.7 321.4,834.7 322.7,831.4 318.8,827.5 320.8,824.9" stroke="#0e9494" stroke-width="1.5" stroke-linejoin="round"/><circle cx="322.1" cy="822.9" r="0.9"/><circle cx="324.1" cy="824.9" r="0.8"/><circle cx="326.7" cy="824.9" r="1.0"/><circle cx="329.6" cy="824.0" r="0.8"/><circle cx="332.6" cy="823.2" r="0.8"/><circle cx="336.5" cy="823.5" r="1.0"/><circle cx="337.2" cy="825.8" r="1.4"/><circle cx="337.9" cy="828.1" r="1.3"/><circle cx="337.8" cy="830.5" r="1.3"/><circle cx="337.7" cy="832.9" r="0.9"/><circle cx="337.7" cy="835.2" r="1.1"/><circle cx="337.6" cy="837.6" r="0.9"/><circle cx="337.5" cy="840.0" r="0.8"/><circle cx="338.4" cy="843.0" r="0.8"/><circle cx="339.2" cy="845.9" r="0.9"/><circle cx="340.1" cy="848.3" r="1.4"/><circle cx="340.9" cy="850.7" r="1.3"/><circle cx="341.8" cy="853.1" r="1.3"/><circle cx="341.1" cy="855.4" r="1.3"/><circle cx="340.5" cy="857.7" r="0.9"/><circle cx="337.9" cy="861.0" r="0.9"/><circle cx="337.2" cy="864.9" r="1.2"/><circle cx="335.2" cy="863.0" r="1.2"/><circle cx="333.3" cy="861.0" r="1.3"/><circle cx="331.1" cy="860.6" r="1.4"/><circle cx="328.9" cy="860.1" r="0.8"/><circle cx="326.7" cy="859.7" r="1.2"/><circle cx="323.8" cy="858.4" r="1.2"/><circle cx="320.8" cy="857.0" r="1.1"/><circle cx="317.9" cy="855.7" r="0.8"/><circle cx="314.9" cy="854.4" r="1.1"/><circle cx="313.2" cy="852.1" r="0.8"/><circle cx="311.6" cy="849.8" r="1.4"/><circle cx="311.2" cy="847.2" r="1.3"/><circle cx="310.9" cy="844.6" r="1.1"/><circle cx="313.5" cy="841.9" r="0.9"/><circle cx="315.8" cy="841.9" r="1.4"/><circle cx="318.1" cy="841.9" r="1.1"/><circle cx="320.4" cy="841.2" r="1.4"/><circle cx="322.7" cy="840.6" r="1.3"/><circle cx="323.4" cy="836.7" r="1.1"/><circle cx="321.4" cy="834.7" r="1.0"/><circle cx="322.7" cy="831.4" r="1.2"/><circle cx="320.8" cy="829.5" r="1.0"/><circle cx="318.8" cy="827.5" r="0.8"/><circle cx="320.8" cy="824.9" r="0.9"/></g>
<g fill="none" stroke="#066" stroke-width="0.45" opacity="0.55" clip-path="url(#cp3)"><path d="M340.6,862.8 q2.0,0.8 0.9,2.0"/><path d="M336.9,853.9 q-1.3,-2.3 0.8,-2.5"/><path d="M329.8,848.5 q-2.0,-1.1 -0.6,-2.2"/><path d="M324.4,839.5 q-0.7,-3.9 2.3,-3.2"/><path d="M340.4,845.9 q-2.4,0.9 -2.3,-1.1"/><path d="M312.1,824.2 q-2.6,0.6 -2.2,-1.4"/><path d="M322.8,860.5 q-3.1,-0.5 -1.8,-2.6"/><path d="M318.3,824.0 q-1.0,2.0 -2.2,0.7"/><path d="M326.8,864.9 q-1.1,-2.1 0.8,-2.2"/><path d="M338.7,856.5 q-0.4,-3.8 2.5,-2.9"/><path d="M334.6,856.2 q-2.4,3.2 -3.9,0.5"/><path d="M340.8,829.8 q0.1,-3.4 2.5,-2.3"/><path d="M325.3,845.3 q-3.8,0.2 -2.9,-2.6"/><path d="M326.5,857.9 q-2.3,3.0 -3.7,0.4"/><path d="M338.9,842.4 q-3.5,-1.6 -1.3,-3.6"/><path d="M333.4,843.4 q0.5,2.6 -1.5,2.2"/><path d="M332.7,830.0 q2.1,-1.4 2.5,0.6"/><path d="M339.3,836.0 q3.3,-0.9 2.9,1.7"/><path d="M326.6,844.7 q-1.8,-2.6 0.6,-3.1"/><path d="M320.7,831.7 q-3.9,-0.3 -2.5,-3.0"/><path d="M330.3,826.2 q1.5,-3.1 3.3,-1.1"/><path d="M339.1,831.0 q-0.1,-2.1 1.5,-1.5"/><path d="M331.2,834.5 q0.6,3.7 -2.3,3.0"/><path d="M314.3,844.9 q1.5,-2.0 2.5,-0.3"/><path d="M317.5,860.0 q-3.0,1.6 -3.3,-1.1"/><path d="M312.0,838.2 q1.6,2.9 -1.0,3.2"/><path d="M313.6,863.1 q3.4,0.5 2.0,2.8"/><path d="M311.7,833.7 q0.9,-2.1 2.2,-0.8"/></g>
<g fill="none" stroke="#c27c00" stroke-width="0.45" opacity="0.55" clip-path="url(#cp1)"><path d="M352.8,828.8 q-2.2,2.3 -3.2,0.1"/><path d="M375.3,798.2 q3.7,0.3 2.3,2.8"/><path d="M354.0,809.0 q2.9,-0.1 2.1,2.0"/><path d="M387.5,824.5 q-1.5,-1.8 0.2,-2.3"/><path d="M375.8,849.6 q-3.4,-0.5 -2.0,-2.8"/><path d="M377.9,798.1 q0.2,-3.2 2.4,-2.1"/><path d="M356.5,796.0 q1.9,-2.2 2.9,-0.1"/><path d="M380.7,850.2 q-0.9,-3.7 2.1,-3.2"/><path d="M361.9,845.3 q-3.6,1.3 -3.5,-1.7"/><path d="M390.0,800.2 q1.6,1.8 -0.2,2.4"/><path d="M395.0,821.9 q-1.8,-1.9 0.1,-2.6"/><path d="M368.4,818.7 q-1.9,2.6 -3.1,0.4"/><path d="M372.9,851.9 q-1.6,-3.5 1.4,-3.6"/><path d="M388.7,857.4 q-1.1,-2.0 0.7,-2.2"/><path d="M388.9,855.7 q2.6,-1.8 3.1,0.6"/><path d="M380.4,807.5 q1.5,-2.7 3.0,-0.8"/><path d="M355.5,798.1 q2.4,-3.2 4.0,-0.5"/><path d="M344.1,845.2 q-1.9,1.2 -2.2,-0.5"/><path d="M356.0,843.2 q1.5,-1.5 2.1,-0.0"/><path d="M374.6,796.9 q-0.5,-2.6 1.5,-2.2"/><path d="M390.1,856.8 q-4.0,-0.1 -2.7,-3.0"/><path d="M357.0,798.9 q-1.7,-1.2 -0.3,-2.0"/><path d="M350.4,820.1 q-1.8,-1.5 -0.2,-2.3"/><path d="M341.5,849.5 q-1.5,3.6 -3.7,1.4"/><path d="M391.0,818.2 q-2.9,0.8 -2.6,-1.6"/><path d="M376.3,832.1 q-3.0,-1.2 -1.3,-3.0"/><path d="M393.6,826.4 q-3.1,1.4 -3.2,-1.2"/><path d="M352.8,813.3 q3.0,-0.4 2.4,1.9"/><path d="M370.8,794.7 q-2.7,1.6 -3.0,-0.8"/><path d="M340.2,833.4 q-1.4,-1.6 0.1,-2.1"/><path d="M375.4,823.8 q-1.2,-2.4 0.9,-2.5"/><path d="M380.0,841.2 q2.1,0.3 1.3,1.7"/><path d="M378.2,855.7 q-0.0,2.9 -2.1,2.0"/><path d="M373.4,814.5 q-1.7,2.0 -2.6,0.1"/><path d="M360.4,832.1 q-0.9,2.6 -2.5,1.2"/><path d="M383.8,795.7 q-3.1,-1.5 -1.1,-3.3"/><path d="M357.0,808.2 q0.8,-2.3 2.2,-1.0"/><path d="M349.9,821.9 q-0.7,-2.1 1.0,-2.0"/><path d="M357.7,815.4 q1.4,-2.5 2.8,-0.7"/><path d="M388.6,804.8 q-1.7,2.8 -3.2,0.7"/><path d="M390.3,822.9 q0.4,2.2 -1.3,1.8"/><path d="M369.7,806.2 q1.3,-3.4 3.4,-1.5"/><path d="M349.6,811.8 q1.1,-3.1 3.0,-1.3"/><path d="M385.8,816.1 q1.8,1.9 -0.1,2.6"/><path d="M385.0,811.4 q-1.6,2.3 -2.8,0.5"/><path d="M363.3,820.2 q2.0,-1.1 2.2,0.7"/><path d="M339.3,854.4 q2.9,-2.7 4.0,0.2"/><path d="M364.2,854.8 q2.2,-1.1 2.3,0.8"/><path d="M382.2,847.5 q-1.6,-2.6 0.8,-2.9"/><path d="M355.8,815.8 q0.3,2.1 -1.3,1.7"/><path d="M373.1,812.4 q0.8,-1.9 1.9,-0.8"/><path d="M391.4,838.4 q3.4,-1.8 3.6,1.2"/><path d="M391.2,830.9 q3.5,0.3 2.2,2.7"/><path d="M349.0,813.2 q-1.6,-2.6 0.8,-3.0"/><path d="M363.0,854.1 q-2.0,-1.7 -0.2,-2.7"/></g>
<polyline points="379,824 379,833 386,833 386,824" fill="none" stroke="#999" stroke-width="0.8" stroke-dasharray="1.5 1"/>
<line x1="385.6" y1="816.9" x2="395.5" y2="813.5" stroke="#222" stroke-width="0.6"/>
<text x="396.60" y="817.20" font-size="9.0" fill="#c9283f" text-anchor="start" font-family='"Liberation Sans", sans-serif' stroke="#c9283f" stroke-width="0.1" textLength="20.1" lengthAdjust="spacingAndGlyphs" >Vps29</text>
<text x="358.80" y="871.00" font-size="9.2" fill="#1a1a1a" text-anchor="middle" font-family='"Liberation Sans", sans-serif' stroke="#1a1a1a" stroke-width="0.1" textLength="29.5" lengthAdjust="spacingAndGlyphs" >Retriever</text>
<clipPath id="cp4"><polygon points="433.8,839.3 431.8,827.0 437.4,823.5 444.6,813.8 451.7,810.7 456.8,807.6 459.9,802.5 461.9,796.4 460.9,791.8 469.1,791.3 472.2,787.7 479.3,784.1 484.1,783.6 493.3,782.1 494.9,787.2 506.6,787.7 507.6,792.3 506.6,799.5 509.7,805.6 518.9,809.7 521.9,815.8 531.1,824.0 534.7,827.0 534.2,836.2 531.1,838.3 524.0,844.4 518.9,843.4 509.7,841.4 508.7,837.3 507.6,830.1 510.7,825.0 508.7,820.9 502.5,816.8 498.4,811.7 495.4,810.7 491.3,811.7 488.2,808.7 484.1,808.7 478.3,808.7 473.2,812.7 474.2,818.9 466.0,824.0 458.9,828.1 455.8,833.2 458.9,839.3 456.8,841.4 448.7,840.3"/><circle cx="433.8" cy="839.3" r="0.8"/><circle cx="433.4" cy="836.8" r="1.2"/><circle cx="433.0" cy="834.4" r="1.2"/><circle cx="432.6" cy="831.9" r="1.1"/><circle cx="432.2" cy="829.5" r="0.9"/><circle cx="431.8" cy="827.0" r="1.3"/><circle cx="433.7" cy="825.8" r="1.3"/><circle cx="435.5" cy="824.7" r="1.1"/><circle cx="437.4" cy="823.5" r="1.1"/><circle cx="438.8" cy="821.6" r="0.9"/><circle cx="440.3" cy="819.6" r="0.7"/><circle cx="441.7" cy="817.7" r="1.0"/><circle cx="443.2" cy="815.7" r="1.1"/><circle cx="444.6" cy="813.8" r="0.8"/><circle cx="447.0" cy="812.8" r="1.3"/><circle cx="449.3" cy="811.7" r="0.9"/><circle cx="451.7" cy="810.7" r="0.9"/><circle cx="454.2" cy="809.2" r="0.8"/><circle cx="456.8" cy="807.6" r="1.4"/><circle cx="458.4" cy="805.0" r="1.3"/><circle cx="459.9" cy="802.5" r="1.4"/><circle cx="460.9" cy="799.5" r="1.2"/><circle cx="461.9" cy="796.4" r="0.7"/><circle cx="461.4" cy="794.1" r="1.0"/><circle cx="460.9" cy="791.8" r="1.1"/><circle cx="463.6" cy="791.6" r="0.8"/><circle cx="466.4" cy="791.5" r="1.4"/><circle cx="469.1" cy="791.3" r="1.0"/><circle cx="470.6" cy="789.5" r="0.8"/><circle cx="472.2" cy="787.7" r="1.3"/><circle cx="474.6" cy="786.5" r="0.8"/><circle cx="476.9" cy="785.3" r="1.4"/><circle cx="479.3" cy="784.1" r="1.0"/><circle cx="481.7" cy="783.9" r="1.1"/><circle cx="484.1" cy="783.6" r="1.0"/><circle cx="486.4" cy="783.2" r="1.1"/><circle cx="488.7" cy="782.9" r="0.9"/><circle cx="491.0" cy="782.5" r="0.7"/><circle cx="493.3" cy="782.1" r="1.3"/><circle cx="494.1" cy="784.7" r="0.9"/><circle cx="494.9" cy="787.2" r="1.3"/><circle cx="497.2" cy="787.3" r="0.9"/><circle cx="499.6" cy="787.4" r="1.4"/><circle cx="501.9" cy="787.5" r="1.4"/><circle cx="504.3" cy="787.6" r="1.3"/><circle cx="506.6" cy="787.7" r="1.3"/><circle cx="507.1" cy="790.0" r="1.1"/><circle cx="507.6" cy="792.3" r="1.2"/><circle cx="507.3" cy="794.7" r="0.8"/><circle cx="506.9" cy="797.1" r="1.1"/><circle cx="506.6" cy="799.5" r="1.3"/><circle cx="507.6" cy="801.5" r="0.9"/><circle cx="508.7" cy="803.6" r="1.4"/><circle cx="509.7" cy="805.6" r="1.4"/><circle cx="512.0" cy="806.6" r="1.0"/><circle cx="514.3" cy="807.7" r="1.0"/><circle cx="516.6" cy="808.7" r="1.0"/><circle cx="518.9" cy="809.7" r="1.0"/><circle cx="519.9" cy="811.7" r="1.4"/><circle cx="520.9" cy="813.8" r="1.0"/><circle cx="521.9" cy="815.8" r="0.7"/><circle cx="523.7" cy="817.4" r="0.8"/><circle cx="525.6" cy="819.1" r="1.2"/><circle cx="527.4" cy="820.7" r="1.4"/><circle cx="529.3" cy="822.4" r="1.1"/><circle cx="531.1" cy="824.0" r="1.1"/><circle cx="532.9" cy="825.5" r="1.1"/><circle cx="534.7" cy="827.0" r="1.3"/><circle cx="534.6" cy="829.3" r="0.9"/><circle cx="534.5" cy="831.6" r="1.2"/><circle cx="534.3" cy="833.9" r="1.1"/><circle cx="534.2" cy="836.2" r="1.2"/><circle cx="531.1" cy="838.3" r="0.9"/><circle cx="529.3" cy="839.8" r="0.8"/><circle cx="527.5" cy="841.3" r="1.0"/><circle cx="525.8" cy="842.9" r="1.4"/><circle cx="524.0" cy="844.4" r="1.0"/><circle cx="521.5" cy="843.9" r="1.2"/><circle cx="518.9" cy="843.4" r="0.9"/><circle cx="516.6" cy="842.9" r="0.8"/><circle cx="514.3" cy="842.4" r="0.8"/><circle cx="512.0" cy="841.9" r="1.3"/><circle cx="509.7" cy="841.4" r="1.3"/><circle cx="508.7" cy="837.3" r="1.0"/><circle cx="508.3" cy="834.9" r="1.2"/><circle cx="508.0" cy="832.5" r="1.2"/><circle cx="507.6" cy="830.1" r="1.4"/><circle cx="509.1" cy="827.5" r="1.4"/><circle cx="510.7" cy="825.0" r="1.0"/><circle cx="509.7" cy="823.0" r="1.4"/><circle cx="508.7" cy="820.9" r="1.4"/><circle cx="506.6" cy="819.5" r="1.1"/><circle cx="504.6" cy="818.2" r="1.4"/><circle cx="502.5" cy="816.8" r="1.1"/><circle cx="500.4" cy="814.2" r="1.0"/><circle cx="498.4" cy="811.7" r="0.9"/><circle cx="495.4" cy="810.7" r="1.4"/><circle cx="491.3" cy="811.7" r="0.8"/><circle cx="488.2" cy="808.7" r="0.8"/><circle cx="484.1" cy="808.7" r="1.3"/><circle cx="481.2" cy="808.7" r="1.3"/><circle cx="478.3" cy="808.7" r="1.1"/><circle cx="475.8" cy="810.7" r="1.3"/><circle cx="473.2" cy="812.7" r="0.8"/><circle cx="473.7" cy="815.8" r="0.9"/><circle cx="474.2" cy="818.9" r="0.9"/><circle cx="472.1" cy="820.2" r="1.0"/><circle cx="470.1" cy="821.5" r="0.8"/><circle cx="468.1" cy="822.7" r="0.8"/><circle cx="466.0" cy="824.0" r="1.0"/><circle cx="463.6" cy="825.4" r="1.4"/><circle cx="461.3" cy="826.7" r="1.4"/><circle cx="458.9" cy="828.1" r="1.3"/><circle cx="457.4" cy="830.7" r="1.1"/><circle cx="455.8" cy="833.2" r="0.9"/><circle cx="456.8" cy="835.2" r="1.4"/><circle cx="457.9" cy="837.3" r="1.1"/><circle cx="458.9" cy="839.3" r="1.2"/><circle cx="456.8" cy="841.4" r="0.7"/><circle cx="454.1" cy="841.0" r="0.9"/><circle cx="451.4" cy="840.7" r="1.3"/><circle cx="448.7" cy="840.3" r="1.3"/><circle cx="446.2" cy="840.1" r="1.4"/><circle cx="443.7" cy="840.0" r="1.2"/><circle cx="441.2" cy="839.8" r="1.0"/><circle cx="438.8" cy="839.6" r="1.1"/><circle cx="436.3" cy="839.5" r="1.3"/></clipPath>
<g fill="#fbbb14"><polygon points="433.8,839.3 431.8,827.0 437.4,823.5 444.6,813.8 451.7,810.7 456.8,807.6 459.9,802.5 461.9,796.4 460.9,791.8 469.1,791.3 472.2,787.7 479.3,784.1 484.1,783.6 493.3,782.1 494.9,787.2 506.6,787.7 507.6,792.3 506.6,799.5 509.7,805.6 518.9,809.7 521.9,815.8 531.1,824.0 534.7,827.0 534.2,836.2 531.1,838.3 524.0,844.4 518.9,843.4 509.7,841.4 508.7,837.3 507.6,830.1 510.7,825.0 508.7,820.9 502.5,816.8 498.4,811.7 495.4,810.7 491.3,811.7 488.2,808.7 484.1,808.7 478.3,808.7 473.2,812.7 474.2,818.9 466.0,824.0 458.9,828.1 455.8,833.2 458.9,839.3 456.8,841.4 448.7,840.3" stroke="#fbbb14" stroke-width="1.5" stroke-linejoin="round"/><circle cx="433.8" cy="839.3" r="0.8"/><circle cx="433.4" cy="836.8" r="1.2"/><circle cx="433.0" cy="834.4" r="1.2"/><circle cx="432.6" cy="831.9" r="1.1"/><circle cx="432.2" cy="829.5" r="0.9"/><circle cx="431.8" cy="827.0" r="1.3"/><circle cx="433.7" cy="825.8" r="1.3"/><circle cx="435.5" cy="824.7" r="1.1"/><circle cx="437.4" cy="823.5" r="1.1"/><circle cx="438.8" cy="821.6" r="0.9"/><circle cx="440.3" cy="819.6" r="0.7"/><circle cx="441.7" cy="817.7" r="1.0"/><circle cx="443.2" cy="815.7" r="1.1"/><circle cx="444.6" cy="813.8" r="0.8"/><circle cx="447.0" cy="812.8" r="1.3"/><circle cx="449.3" cy="811.7" r="0.9"/><circle cx="451.7" cy="810.7" r="0.9"/><circle cx="454.2" cy="809.2" r="0.8"/><circle cx="456.8" cy="807.6" r="1.4"/><circle cx="458.4" cy="805.0" r="1.3"/><circle cx="459.9" cy="802.5" r="1.4"/><circle cx="460.9" cy="799.5" r="1.2"/><circle cx="461.9" cy="796.4" r="0.7"/><circle cx="461.4" cy="794.1" r="1.0"/><circle cx="460.9" cy="791.8" r="1.1"/><circle cx="463.6" cy="791.6" r="0.8"/><circle cx="466.4" cy="791.5" r="1.4"/><circle cx="469.1" cy="791.3" r="1.0"/><circle cx="470.6" cy="789.5" r="0.8"/><circle cx="472.2" cy="787.7" r="1.3"/><circle cx="474.6" cy="786.5" r="0.8"/><circle cx="476.9" cy="785.3" r="1.4"/><circle cx="479.3" cy="784.1" r="1.0"/><circle cx="481.7" cy="783.9" r="1.1"/><circle cx="484.1" cy="783.6" r="1.0"/><circle cx="486.4" cy="783.2" r="1.1"/><circle cx="488.7" cy="782.9" r="0.9"/><circle cx="491.0" cy="782.5" r="0.7"/><circle cx="493.3" cy="782.1" r="1.3"/><circle cx="494.1" cy="784.7" r="0.9"/><circle cx="494.9" cy="787.2" r="1.3"/><circle cx="497.2" cy="787.3" r="0.9"/><circle cx="499.6" cy="787.4" r="1.4"/><circle cx="501.9" cy="787.5" r="1.4"/><circle cx="504.3" cy="787.6" r="1.3"/><circle cx="506.6" cy="787.7" r="1.3"/><circle cx="507.1" cy="790.0" r="1.1"/><circle cx="507.6" cy="792.3" r="1.2"/><circle cx="507.3" cy="794.7" r="0.8"/><circle cx="506.9" cy="797.1" r="1.1"/><circle cx="506.6" cy="799.5" r="1.3"/><circle cx="507.6" cy="801.5" r="0.9"/><circle cx="508.7" cy="803.6" r="1.4"/><circle cx="509.7" cy="805.6" r="1.4"/><circle cx="512.0" cy="806.6" r="1.0"/><circle cx="514.3" cy="807.7" r="1.0"/><circle cx="516.6" cy="808.7" r="1.0"/><circle cx="518.9" cy="809.7" r="1.0"/><circle cx="519.9" cy="811.7" r="1.4"/><circle cx="520.9" cy="813.8" r="1.0"/><circle cx="521.9" cy="815.8" r="0.7"/><circle cx="523.7" cy="817.4" r="0.8"/><circle cx="525.6" cy="819.1" r="1.2"/><circle cx="527.4" cy="820.7" r="1.4"/><circle cx="529.3" cy="822.4" r="1.1"/><circle cx="531.1" cy="824.0" r="1.1"/><circle cx="532.9" cy="825.5" r="1.1"/><circle cx="534.7" cy="827.0" r="1.3"/><circle cx="534.6" cy="829.3" r="0.9"/><circle cx="534.5" cy="831.6" r="1.2"/><circle cx="534.3" cy="833.9" r="1.1"/><circle cx="534.2" cy="836.2" r="1.2"/><circle cx="531.1" cy="838.3" r="0.9"/><circle cx="529.3" cy="839.8" r="0.8"/><circle cx="527.5" cy="841.3" r="1.0"/><circle cx="525.8" cy="842.9" r="1.4"/><circle cx="524.0" cy="844.4" r="1.0"/><circle cx="521.5" cy="843.9" r="1.2"/><circle cx="518.9" cy="843.4" r="0.9"/><circle cx="516.6" cy="842.9" r="0.8"/><circle cx="514.3" cy="842.4" r="0.8"/><circle cx="512.0" cy="841.9" r="1.3"/><circle cx="509.7" cy="841.4" r="1.3"/><circle cx="508.7" cy="837.3" r="1.0"/><circle cx="508.3" cy="834.9" r="1.2"/><circle cx="508.0" cy="832.5" r="1.2"/><circle cx="507.6" cy="830.1" r="1.4"/><circle cx="509.1" cy="827.5" r="1.4"/><circle cx="510.7" cy="825.0" r="1.0"/><circle cx="509.7" cy="823.0" r="1.4"/><circle cx="508.7" cy="820.9" r="1.4"/><circle cx="506.6" cy="819.5" r="1.1"/><circle cx="504.6" cy="818.2" r="1.4"/><circle cx="502.5" cy="816.8" r="1.1"/><circle cx="500.4" cy="814.2" r="1.0"/><circle cx="498.4" cy="811.7" r="0.9"/><circle cx="495.4" cy="810.7" r="1.4"/><circle cx="491.3" cy="811.7" r="0.8"/><circle cx="488.2" cy="808.7" r="0.8"/><circle cx="484.1" cy="808.7" r="1.3"/><circle cx="481.2" cy="808.7" r="1.3"/><circle cx="478.3" cy="808.7" r="1.1"/><circle cx="475.8" cy="810.7" r="1.3"/><circle cx="473.2" cy="812.7" r="0.8"/><circle cx="473.7" cy="815.8" r="0.9"/><circle cx="474.2" cy="818.9" r="0.9"/><circle cx="472.1" cy="820.2" r="1.0"/><circle cx="470.1" cy="821.5" r="0.8"/><circle cx="468.1" cy="822.7" r="0.8"/><circle cx="466.0" cy="824.0" r="1.0"/><circle cx="463.6" cy="825.4" r="1.4"/><circle cx="461.3" cy="826.7" r="1.4"/><circle cx="458.9" cy="828.1" r="1.3"/><circle cx="457.4" cy="830.7" r="1.1"/><circle cx="455.8" cy="833.2" r="0.9"/><circle cx="456.8" cy="835.2" r="1.4"/><circle cx="457.9" cy="837.3" r="1.1"/><circle cx="458.9" cy="839.3" r="1.2"/><circle cx="456.8" cy="841.4" r="0.7"/><circle cx="454.1" cy="841.0" r="0.9"/><circle cx="451.4" cy="840.7" r="1.3"/><circle cx="448.7" cy="840.3" r="1.3"/><circle cx="446.2" cy="840.1" r="1.4"/><circle cx="443.7" cy="840.0" r="1.2"/><circle cx="441.2" cy="839.8" r="1.0"/><circle cx="438.8" cy="839.6" r="1.1"/><circle cx="436.3" cy="839.5" r="1.3"/></g>
<g fill="none" stroke="#c98f00" stroke-width="0.45" opacity="0.55" clip-path="url(#cp4)"><path d="M479.6,804.9 q2.4,2.9 -0.4,3.7"/><path d="M431.7,813.2 q1.7,-1.3 2.1,0.3"/><path d="M489.2,820.5 q2.7,0.7 1.4,2.4"/><path d="M504.9,809.9 q-0.4,-2.3 1.4,-1.9"/><path d="M456.0,788.1 q-3.8,-0.1 -2.6,-2.9"/><path d="M493.0,830.5 q-2.6,2.3 -3.5,-0.2"/><path d="M441.7,799.6 q-1.6,-3.1 1.1,-3.3"/><path d="M475.3,786.6 q-0.3,2.4 -1.9,1.5"/><path d="M460.5,832.8 q1.2,3.6 -1.7,3.3"/><path d="M523.3,784.5 q-2.2,2.1 -3.0,-0.1"/><path d="M433.5,808.2 q1.8,-1.2 2.2,0.5"/><path d="M493.7,788.8 q-3.3,-1.8 -1.0,-3.6"/><path d="M452.3,781.5 q2.7,1.5 0.8,3.0"/><path d="M432.8,786.4 q-3.8,0.1 -2.7,-2.7"/><path d="M475.1,806.5 q-1.4,-1.7 0.2,-2.2"/><path d="M491.9,792.0 q-3.0,-2.5 -0.3,-3.9"/><path d="M436.7,816.5 q-1.8,-1.4 -0.2,-2.3"/><path d="M459.2,844.7 q2.2,-0.0 1.6,1.6"/><path d="M505.1,841.9 q0.3,3.2 -2.1,2.4"/><path d="M435.5,804.4 q-1.5,-2.8 1.0,-3.0"/><path d="M512.3,786.6 q-2.1,3.1 -3.7,0.6"/><path d="M492.3,809.9 q-3.2,2.3 -3.9,-0.7"/><path d="M491.3,782.2 q0.8,-2.5 2.4,-1.2"/><path d="M476.5,794.7 q-2.5,0.9 -2.4,-1.1"/><path d="M440.3,821.3 q2.8,2.2 0.4,3.5"/><path d="M433.7,831.0 q1.1,-2.8 2.7,-1.2"/><path d="M505.5,796.9 q-0.2,-2.8 1.9,-2.1"/><path d="M455.3,842.7 q-2.2,1.6 -2.7,-0.5"/><path d="M521.3,804.6 q-1.2,-2.0 0.6,-2.3"/><path d="M519.5,797.6 q3.8,1.2 1.7,3.6"/><path d="M449.1,841.6 q3.2,-0.3 2.4,2.1"/><path d="M432.2,784.9 q0.7,2.7 -1.4,2.4"/><path d="M495.2,842.9 q-1.4,1.8 -2.3,0.3"/><path d="M490.0,789.8 q2.7,1.6 0.7,3.0"/><path d="M504.1,785.2 q-3.2,1.0 -3.0,-1.6"/><path d="M511.2,805.5 q1.8,-1.5 2.3,0.2"/><path d="M506.1,830.4 q2.2,-2.0 3.0,0.1"/><path d="M441.4,784.1 q-2.3,-0.4 -1.3,-1.9"/><path d="M497.1,786.4 q0.5,-2.4 2.0,-1.3"/><path d="M432.4,792.3 q-3.0,0.8 -2.7,-1.6"/><path d="M471.8,792.1 q-3.9,0.4 -3.0,-2.5"/><path d="M487.2,841.2 q3.9,0.7 2.2,3.3"/><path d="M524.3,815.8 q-3.0,-0.4 -1.8,-2.5"/><path d="M526.5,785.2 q-1.9,-2.4 0.4,-3.1"/><path d="M462.5,827.4 q-0.4,-2.2 1.3,-1.8"/><path d="M504.4,810.0 q-3.3,0.2 -2.4,-2.2"/><path d="M436.6,819.6 q-2.6,2.7 -3.8,-0.0"/><path d="M455.3,833.7 q-0.4,-3.2 2.0,-2.5"/><path d="M523.0,783.3 q-2.6,-1.8 -0.5,-3.2"/><path d="M502.2,807.0 q2.2,1.0 0.8,2.2"/><path d="M494.9,792.6 q2.5,1.1 1.0,2.5"/><path d="M480.4,815.3 q3.5,0.6 2.0,2.9"/><path d="M466.1,831.1 q3.9,0.2 2.6,2.9"/><path d="M493.0,843.5 q3.7,-0.3 2.8,2.4"/><path d="M442.2,803.3 q0.4,3.5 -2.2,2.8"/><path d="M451.2,795.2 q1.7,1.4 0.2,2.2"/><path d="M529.5,843.5 q-2.4,2.5 -3.5,0.0"/><path d="M480.1,814.4 q-2.2,2.4 -3.3,0.1"/><path d="M455.8,797.4 q-2.4,-0.3 -1.5,-1.9"/><path d="M477.1,841.4 q2.2,0.3 1.3,1.8"/><path d="M515.0,784.7 q-0.0,3.7 -2.7,2.6"/><path d="M494.6,795.1 q2.4,0.9 1.0,2.3"/><path d="M462.5,832.2 q3.5,-0.6 2.9,2.1"/><path d="M525.7,840.6 q2.7,-2.7 3.8,0.1"/><path d="M532.6,787.0 q-1.0,2.3 -2.3,0.8"/><path d="M494.4,812.5 q-2.1,3.0 -3.6,0.6"/><path d="M472.9,794.4 q-0.5,2.9 -2.4,1.7"/><path d="M495.1,817.4 q-2.2,0.9 -2.2,-1.0"/><path d="M473.2,801.8 q1.5,2.7 -0.9,2.9"/><path d="M450.8,826.5 q-1.2,-1.9 0.5,-2.2"/><path d="M496.7,802.6 q-3.0,1.1 -2.9,-1.4"/><path d="M511.0,837.5 q-0.3,-2.4 1.6,-1.9"/><path d="M487.9,802.5 q3.1,0.4 1.9,2.5"/><path d="M480.4,836.5 q-1.6,3.3 -3.5,1.1"/><path d="M485.0,787.3 q-0.5,-2.5 1.4,-2.1"/><path d="M487.0,785.6 q3.8,0.3 2.5,2.9"/><path d="M435.4,790.5 q1.1,1.9 -0.6,2.1"/><path d="M517.5,844.7 q-1.7,-2.2 0.5,-2.8"/><path d="M524.3,813.4 q2.2,2.5 -0.3,3.4"/><path d="M468.7,798.3 q-1.2,2.5 -2.6,0.9"/></g>
<clipPath id="cp5"><polygon points="426.2,840.5 430.1,841.2 434.7,839.9 438.7,837.9 445.9,837.2 448.5,840.5 452.5,842.5 452.5,845.8 446.5,847.7 442.6,849.1 441.3,853.0 437.3,858.9 432.1,863.5 428.1,867.5 425.5,865.5 420.9,860.9 421.6,856.3 420.3,851.0 421.6,849.1 424.9,847.1 424.2,843.8"/><circle cx="426.2" cy="840.5" r="0.7"/><circle cx="430.1" cy="841.2" r="0.7"/><circle cx="432.4" cy="840.5" r="0.9"/><circle cx="434.7" cy="839.9" r="1.1"/><circle cx="436.7" cy="838.9" r="0.8"/><circle cx="438.7" cy="837.9" r="0.7"/><circle cx="441.1" cy="837.7" r="0.8"/><circle cx="443.5" cy="837.4" r="1.2"/><circle cx="445.9" cy="837.2" r="0.8"/><circle cx="448.5" cy="840.5" r="1.1"/><circle cx="450.5" cy="841.5" r="1.1"/><circle cx="452.5" cy="842.5" r="0.8"/><circle cx="452.5" cy="845.8" r="1.0"/><circle cx="449.5" cy="846.8" r="1.0"/><circle cx="446.5" cy="847.7" r="0.9"/><circle cx="442.6" cy="849.1" r="1.3"/><circle cx="441.3" cy="853.0" r="0.7"/><circle cx="440.0" cy="855.0" r="0.7"/><circle cx="438.6" cy="856.9" r="1.3"/><circle cx="437.3" cy="858.9" r="0.9"/><circle cx="435.6" cy="860.4" r="0.8"/><circle cx="433.8" cy="862.0" r="0.9"/><circle cx="432.1" cy="863.5" r="0.9"/><circle cx="430.1" cy="865.5" r="1.3"/><circle cx="428.1" cy="867.5" r="0.8"/><circle cx="425.5" cy="865.5" r="0.8"/><circle cx="423.2" cy="863.2" r="1.0"/><circle cx="420.9" cy="860.9" r="1.0"/><circle cx="421.2" cy="858.6" r="1.3"/><circle cx="421.6" cy="856.3" r="1.2"/><circle cx="421.0" cy="853.6" r="0.9"/><circle cx="420.3" cy="851.0" r="0.8"/><circle cx="421.6" cy="849.1" r="1.2"/><circle cx="424.9" cy="847.1" r="1.3"/><circle cx="424.2" cy="843.8" r="0.7"/></clipPath>
<g fill="#17944a"><polygon points="426.2,840.5 430.1,841.2 434.7,839.9 438.7,837.9 445.9,837.2 448.5,840.5 452.5,842.5 452.5,845.8 446.5,847.7 442.6,849.1 441.3,853.0 437.3,858.9 432.1,863.5 428.1,867.5 425.5,865.5 420.9,860.9 421.6,856.3 420.3,851.0 421.6,849.1 424.9,847.1 424.2,843.8" stroke="#17944a" stroke-width="1.5" stroke-linejoin="round"/><circle cx="426.2" cy="840.5" r="0.7"/><circle cx="430.1" cy="841.2" r="0.7"/><circle cx="432.4" cy="840.5" r="0.9"/><circle cx="434.7" cy="839.9" r="1.1"/><circle cx="436.7" cy="838.9" r="0.8"/><circle cx="438.7" cy="837.9" r="0.7"/><circle cx="441.1" cy="837.7" r="0.8"/><circle cx="443.5" cy="837.4" r="1.2"/><circle cx="445.9" cy="837.2" r="0.8"/><circle cx="448.5" cy="840.5" r="1.1"/><circle cx="450.5" cy="841.5" r="1.1"/><circle cx="452.5" cy="842.5" r="0.8"/><circle cx="452.5" cy="845.8" r="1.0"/><circle cx="449.5" cy="846.8" r="1.0"/><circle cx="446.5" cy="847.7" r="0.9"/><circle cx="442.6" cy="849.1" r="1.3"/><circle cx="441.3" cy="853.0" r="0.7"/><circle cx="440.0" cy="855.0" r="0.7"/><circle cx="438.6" cy="856.9" r="1.3"/><circle cx="437.3" cy="858.9" r="0.9"/><circle cx="435.6" cy="860.4" r="0.8"/><circle cx="433.8" cy="862.0" r="0.9"/><circle cx="432.1" cy="863.5" r="0.9"/><circle cx="430.1" cy="865.5" r="1.3"/><circle cx="428.1" cy="867.5" r="0.8"/><circle cx="425.5" cy="865.5" r="0.8"/><circle cx="423.2" cy="863.2" r="1.0"/><circle cx="420.9" cy="860.9" r="1.0"/><circle cx="421.2" cy="858.6" r="1.3"/><circle cx="421.6" cy="856.3" r="1.2"/><circle cx="421.0" cy="853.6" r="0.9"/><circle cx="420.3" cy="851.0" r="0.8"/><circle cx="421.6" cy="849.1" r="1.2"/><circle cx="424.9" cy="847.1" r="1.3"/><circle cx="424.2" cy="843.8" r="0.7"/></g>
<clipPath id="cp6"><polygon points="524.9,845.1 528.1,841.8 532.1,837.2 535.4,837.2 540.0,839.2 540.0,841.8 541.9,843.8 539.3,845.1 542.6,847.1 545.9,848.4 546.5,851.7 545.2,855.0 545.2,858.9 546.5,861.5 543.9,864.8 542.6,868.1 537.3,868.4 534.1,867.5 533.1,864.2 534.1,858.9 531.4,858.3 528.1,855.6 525.5,853.0 524.9,849.1"/><circle cx="524.9" cy="845.1" r="0.7"/><circle cx="526.5" cy="843.5" r="0.8"/><circle cx="528.1" cy="841.8" r="0.9"/><circle cx="530.1" cy="839.5" r="1.3"/><circle cx="532.1" cy="837.2" r="1.0"/><circle cx="535.4" cy="837.2" r="1.1"/><circle cx="537.7" cy="838.2" r="0.7"/><circle cx="540.0" cy="839.2" r="1.0"/><circle cx="540.0" cy="841.8" r="1.2"/><circle cx="541.9" cy="843.8" r="1.0"/><circle cx="539.3" cy="845.1" r="1.3"/><circle cx="542.6" cy="847.1" r="1.2"/><circle cx="545.9" cy="848.4" r="0.9"/><circle cx="546.5" cy="851.7" r="0.7"/><circle cx="545.2" cy="855.0" r="1.2"/><circle cx="545.2" cy="858.9" r="0.7"/><circle cx="546.5" cy="861.5" r="0.7"/><circle cx="543.9" cy="864.8" r="1.1"/><circle cx="542.6" cy="868.1" r="1.2"/><circle cx="540.0" cy="868.2" r="1.2"/><circle cx="537.3" cy="868.4" r="1.3"/><circle cx="534.1" cy="867.5" r="0.8"/><circle cx="533.1" cy="864.2" r="0.7"/><circle cx="533.6" cy="861.5" r="0.7"/><circle cx="534.1" cy="858.9" r="1.3"/><circle cx="531.4" cy="858.3" r="0.7"/><circle cx="528.1" cy="855.6" r="0.8"/><circle cx="525.5" cy="853.0" r="0.7"/><circle cx="524.9" cy="849.1" r="0.7"/></clipPath>
<g fill="#17944a"><polygon points="524.9,845.1 528.1,841.8 532.1,837.2 535.4,837.2 540.0,839.2 540.0,841.8 541.9,843.8 539.3,845.1 542.6,847.1 545.9,848.4 546.5,851.7 545.2,855.0 545.2,858.9 546.5,861.5 543.9,864.8 542.6,868.1 537.3,868.4 534.1,867.5 533.1,864.2 534.1,858.9 531.4,858.3 528.1,855.6 525.5,853.0 524.9,849.1" stroke="#17944a" stroke-width="1.5" stroke-linejoin="round"/><circle cx="524.9" cy="845.1" r="0.7"/><circle cx="526.5" cy="843.5" r="0.8"/><circle cx="528.1" cy="841.8" r="0.9"/><circle cx="530.1" cy="839.5" r="1.3"/><circle cx="532.1" cy="837.2" r="1.0"/><circle cx="535.4" cy="837.2" r="1.1"/><circle cx="537.7" cy="838.2" r="0.7"/><circle cx="540.0" cy="839.2" r="1.0"/><circle cx="540.0" cy="841.8" r="1.2"/><circle cx="541.9" cy="843.8" r="1.0"/><circle cx="539.3" cy="845.1" r="1.3"/><circle cx="542.6" cy="847.1" r="1.2"/><circle cx="545.9" cy="848.4" r="0.9"/><circle cx="546.5" cy="851.7" r="0.7"/><circle cx="545.2" cy="855.0" r="1.2"/><circle cx="545.2" cy="858.9" r="0.7"/><circle cx="546.5" cy="861.5" r="0.7"/><circle cx="543.9" cy="864.8" r="1.1"/><circle cx="542.6" cy="868.1" r="1.2"/><circle cx="540.0" cy="868.2" r="1.2"/><circle cx="537.3" cy="868.4" r="1.3"/><circle cx="534.1" cy="867.5" r="0.8"/><circle cx="533.1" cy="864.2" r="0.7"/><circle cx="533.6" cy="861.5" r="0.7"/><circle cx="534.1" cy="858.9" r="1.3"/><circle cx="531.4" cy="858.3" r="0.7"/><circle cx="528.1" cy="855.6" r="0.8"/><circle cx="525.5" cy="853.0" r="0.7"/><circle cx="524.9" cy="849.1" r="0.7"/></g>
<g fill="none" stroke="#0a5a22" stroke-width="0.45" opacity="0.55" clip-path="url(#cp5)"><path d="M427.8,839.3 q-1.8,1.4 -2.3,-0.3"/><path d="M422.2,848.9 q3.1,-1.8 3.5,1.0"/><path d="M445.3,843.1 q-2.5,-0.6 -1.3,-2.2"/><path d="M425.7,839.4 q0.9,3.8 -2.1,3.2"/><path d="M447.4,861.8 q0.7,-2.3 2.1,-1.1"/><path d="M430.2,856.1 q-0.4,-3.7 2.3,-2.9"/><path d="M449.0,838.8 q-2.6,-2.1 -0.4,-3.3"/><path d="M436.7,841.7 q-2.1,0.4 -1.8,-1.3"/><path d="M450.8,863.7 q-2.5,-0.8 -1.2,-2.3"/><path d="M450.0,854.3 q2.7,-2.5 3.7,0.2"/><path d="M436.8,849.2 q-2.3,-1.7 -0.4,-2.8"/><path d="M425.3,845.8 q0.8,-1.9 1.9,-0.8"/><path d="M421.5,856.0 q-0.6,3.0 -2.6,1.7"/><path d="M435.6,847.0 q2.4,-0.0 1.7,1.7"/><path d="M433.6,842.5 q-1.7,-1.9 0.2,-2.5"/><path d="M431.7,859.9 q-1.3,2.8 -3.0,1.0"/><path d="M449.8,839.2 q2.3,0.9 0.9,2.3"/><path d="M445.3,855.7 q0.2,2.7 -1.8,2.0"/><path d="M425.9,850.7 q3.3,0.9 1.6,3.0"/><path d="M449.6,866.6 q-0.4,-3.9 2.5,-3.0"/></g>
<g fill="none" stroke="#0a5a22" stroke-width="0.45" opacity="0.55" clip-path="url(#cp6)"><path d="M538.3,860.5 q1.1,-3.7 3.4,-1.8"/><path d="M541.0,866.4 q2.9,0.5 1.6,2.4"/><path d="M545.7,857.4 q1.8,-1.3 2.2,0.4"/><path d="M534.8,844.1 q-3.0,-0.8 -1.5,-2.8"/><path d="M524.3,843.2 q-0.7,3.8 -3.2,2.1"/><path d="M541.6,841.3 q0.7,-2.2 2.0,-1.0"/><path d="M538.2,840.2 q3.7,0.0 2.6,2.7"/><path d="M528.8,843.1 q3.7,-0.4 2.9,2.4"/><path d="M530.7,867.7 q-3.3,-0.8 -1.7,-2.9"/><path d="M528.7,867.1 q-1.4,-3.7 1.6,-3.6"/><path d="M544.6,845.9 q-1.5,1.8 -2.3,0.2"/><path d="M527.4,838.1 q-1.0,3.0 -2.9,1.4"/><path d="M524.1,858.4 q-1.4,2.2 -2.6,0.6"/><path d="M542.8,851.9 q-1.2,2.7 -2.8,1.0"/><path d="M540.2,837.9 q2.0,-0.3 1.6,1.2"/><path d="M541.2,863.9 q3.6,0.4 2.2,2.8"/></g>
<clipPath id="cp7"><polygon points="484.1,795.9 488.2,793.3 497.4,793.3 502.5,795.4 505.6,800.5 503.5,806.1 498.4,808.7 495.4,810.7 491.3,809.7 487.2,806.6 483.6,802.5"/><circle cx="484.1" cy="795.9" r="1.1"/><circle cx="486.1" cy="794.6" r="1.1"/><circle cx="488.2" cy="793.3" r="0.9"/><circle cx="490.5" cy="793.3" r="0.8"/><circle cx="492.8" cy="793.3" r="0.6"/><circle cx="495.1" cy="793.3" r="1.0"/><circle cx="497.4" cy="793.3" r="0.9"/><circle cx="499.9" cy="794.3" r="1.1"/><circle cx="502.5" cy="795.4" r="0.8"/><circle cx="504.1" cy="798.0" r="1.1"/><circle cx="505.6" cy="800.5" r="0.8"/><circle cx="504.6" cy="803.3" r="1.1"/><circle cx="503.5" cy="806.1" r="1.0"/><circle cx="500.9" cy="807.4" r="0.8"/><circle cx="498.4" cy="808.7" r="0.9"/><circle cx="495.4" cy="810.7" r="1.0"/><circle cx="491.3" cy="809.7" r="0.7"/><circle cx="489.2" cy="808.2" r="0.9"/><circle cx="487.2" cy="806.6" r="1.1"/><circle cx="485.4" cy="804.5" r="0.8"/><circle cx="483.6" cy="802.5" r="1.1"/><circle cx="483.8" cy="800.3" r="1.0"/><circle cx="483.9" cy="798.1" r="1.1"/></clipPath>
<g fill="#e8223f"><polygon points="484.1,795.9 488.2,793.3 497.4,793.3 502.5,795.4 505.6,800.5 503.5,806.1 498.4,808.7 495.4,810.7 491.3,809.7 487.2,806.6 483.6,802.5" stroke="#e8223f" stroke-width="1.5" stroke-linejoin="round"/><circle cx="484.1" cy="795.9" r="1.1"/><circle cx="486.1" cy="794.6" r="1.1"/><circle cx="488.2" cy="793.3" r="0.9"/><circle cx="490.5" cy="793.3" r="0.8"/><circle cx="492.8" cy="793.3" r="0.6"/><circle cx="495.1" cy="793.3" r="1.0"/><circle cx="497.4" cy="793.3" r="0.9"/><circle cx="499.9" cy="794.3" r="1.1"/><circle cx="502.5" cy="795.4" r="0.8"/><circle cx="504.1" cy="798.0" r="1.1"/><circle cx="505.6" cy="800.5" r="0.8"/><circle cx="504.6" cy="803.3" r="1.1"/><circle cx="503.5" cy="806.1" r="1.0"/><circle cx="500.9" cy="807.4" r="0.8"/><circle cx="498.4" cy="808.7" r="0.9"/><circle cx="495.4" cy="810.7" r="1.0"/><circle cx="491.3" cy="809.7" r="0.7"/><circle cx="489.2" cy="808.2" r="0.9"/><circle cx="487.2" cy="806.6" r="1.1"/><circle cx="485.4" cy="804.5" r="0.8"/><circle cx="483.6" cy="802.5" r="1.1"/><circle cx="483.8" cy="800.3" r="1.0"/><circle cx="483.9" cy="798.1" r="1.1"/></g>
<path d="M488.7,798.4 v-3 h3 M499,795.4 h3 v3 M502,803.1 v3 h-3 M491.7,806.1 h-3 v-3" fill="none" stroke="#222" stroke-width="1.1"/>
<circle cx="459.6" cy="802.6" r="1.3" fill="#e8223f"/><circle cx="475.8" cy="810.6" r="1.4" fill="#e8223f"/>
<line x1="494" y1="809" x2="491" y2="816" stroke="#222" stroke-width="0.6"/>
<text x="486.50" y="823.00" font-size="9.0" fill="#c9283f" text-anchor="middle" font-family='"Liberation Sans", sans-serif' stroke="#c9283f" stroke-width="0.1" textLength="20.4" lengthAdjust="spacingAndGlyphs" >Vps29</text>
<text x="482.40" y="871.00" font-size="9.2" fill="#1a1a1a" text-anchor="middle" font-family='"Liberation Sans", sans-serif' stroke="#1a1a1a" stroke-width="0.1" textLength="30.7" lengthAdjust="spacingAndGlyphs" >Retromer</text>
<line x1="548.5" y1="797.5" x2="539.6" y2="797.7" stroke="#9a9a9a" stroke-width="1.8"/>
<path d="M527.6,797.9 L543.9,789.1 Q536.9,797.7 544.3,806.1 Z" fill="#8e8e8e"/>
<text x="588.50" y="766.20" font-size="8.6" fill="#1a1a1a" text-anchor="middle" font-family='"Liberation Sans", sans-serif' stroke="#1a1a1a" stroke-width="0.1" textLength="80" lengthAdjust="spacingAndGlyphs" >Legionella pneumophila</text>
<rect x="554.7" y="769.2" width="68.30" height="60.00" fill="none" stroke="#222" stroke-width="1.4" stroke-dasharray="4.2 2.6"/>
<polygon points="573.5,810.0 576.0,807.5 580.0,808.5 581.5,812.0 579.0,815.0 575.0,814.0" fill="none" stroke="#9a9a9a" stroke-width="1.4" stroke-linejoin="round"/>
<circle cx="572.6" cy="812.0" r="1.1" fill="#e0262a"/>
<circle cx="577.0" cy="815.5" r="0.8" fill="#3a56c0"/>
<line x1="570.0" y1="815.5" x2="573.0" y2="812.5" stroke="#1a1a1a" stroke-width="0.8"/>
<polyline points="581.5,812.0 585.0,811.0" fill="none" stroke="#9a9a9a" stroke-width="1.5" stroke-linecap="round" stroke-linejoin="round"/>
<circle cx="588.0" cy="813.2" r="1.1" fill="#e0262a"/>
<line x1="581.5" y1="803.8" x2="586.5" y2="804.6" stroke="#1a1a1a" stroke-width="0.8"/>
<polyline points="585.0,802.8 587.5,806.0 589.0,810.0" fill="none" stroke="#9a9a9a" stroke-width="1.5" stroke-linecap="round" stroke-linejoin="round"/>
<circle cx="589.0" cy="810.8" r="0.9" fill="#3a56c0"/>
<polyline points="589.5,816.8 596.0,815.2 598.0,814.5" fill="none" stroke="#9a9a9a" stroke-width="1.5" stroke-linecap="round" stroke-linejoin="round"/>
<circle cx="597.5" cy="815.2" r="0.9" fill="#3a56c0"/>
<polyline points="599.0,799.0 601.0,803.5 600.0,808.0" fill="none" stroke="#9a9a9a" stroke-width="1.5" stroke-linecap="round" stroke-linejoin="round"/>
<polyline points="597.0,801.0 599.0,799.0" fill="none" stroke="#9a9a9a" stroke-width="1.5" stroke-linecap="round" stroke-linejoin="round"/>
<circle cx="598.5" cy="809.0" r="1.1" fill="#e0262a"/>
<circle cx="596.5" cy="803.0" r="0.9" fill="#3a56c0"/>
<line x1="602.0" y1="804.0" x2="606.0" y2="804.0" stroke="#1a1a1a" stroke-width="0.8"/>
<polyline points="607.0,814.5 609.5,818.0 607.5,822.5" fill="none" stroke="#9a9a9a" stroke-width="1.5" stroke-linecap="round" stroke-linejoin="round"/>
<polyline points="609.5,818.0 612.0,818.8" fill="none" stroke="#9a9a9a" stroke-width="1.5" stroke-linecap="round" stroke-linejoin="round"/>
<polyline points="588.0,823.6 590.0,824.5 594.0,823.5 598.0,826.0" fill="none" stroke="#9a9a9a" stroke-width="1.5" stroke-linecap="round" stroke-linejoin="round"/>
<polyline points="594.0,823.5 595.0,820.5" fill="none" stroke="#9a9a9a" stroke-width="1.5" stroke-linecap="round" stroke-linejoin="round"/>
<circle cx="587.2" cy="822.6" r="1.1" fill="#e0262a"/>
<circle cx="595.0" cy="820.5" r="0.8" fill="#3a56c0"/>
<line x1="583.0" y1="825.5" x2="587.5" y2="824.5" stroke="#1a1a1a" stroke-width="0.8"/>
<path d="M567.50,772.50 C568.00,773.00 569.72,774.62 570.50,775.50 C571.28,776.38 572.12,776.72 572.20,777.80 C572.28,778.88 571.30,780.55 571.00,782.00 C570.70,783.45 570.20,784.97 570.40,786.50 C570.60,788.03 570.53,789.73 572.20,791.20 C573.87,792.67 578.07,794.13 580.40,795.30 C582.73,796.47 584.65,796.55 586.20,798.20 C587.75,799.85 588.53,802.67 589.70,805.20 C590.87,807.73 591.63,811.65 593.20,813.40 C594.77,815.15 597.15,816.08 599.10,815.70 C601.05,815.32 603.93,813.43 604.90,811.10 C605.87,808.77 605.48,804.82 604.90,801.70 C604.32,798.58 603.15,794.73 601.40,792.40 C599.65,790.07 596.93,788.38 594.40,787.70 C591.87,787.02 587.57,788.20 586.20,788.30 " fill="none" stroke="#f3cf9c" stroke-width="1.7" stroke-linecap="round" stroke-linejoin="round"/>
<ellipse cx="571.8" cy="780" rx="1.8" ry="4.5" fill="#f3cf9c"/>
<text x="568.70" y="803.00" font-size="7.0" fill="#f0cfa0" text-anchor="start" font-family='"Liberation Sans", sans-serif' stroke="#f0cfa0" stroke-width="0.1" textLength="13" lengthAdjust="spacingAndGlyphs" >P172</text>
<text x="607.20" y="827.60" font-size="7.0" fill="#f0cfa0" text-anchor="start" font-family='"Liberation Sans", sans-serif' stroke="#f0cfa0" stroke-width="0.1" textLength="11.7" lengthAdjust="spacingAndGlyphs" >I170</text>
<text x="605.80" y="806.50" font-size="7.0" fill="#222" text-anchor="start" font-family='"Liberation Sans", sans-serif' stroke="#222" stroke-width="0.1" textLength="13.7" lengthAdjust="spacingAndGlyphs" >Y165</text>
<text x="561.10" y="819.40" font-size="7.0" fill="#222" text-anchor="start" font-family='"Liberation Sans", sans-serif' stroke="#222" stroke-width="0.1" textLength="14" lengthAdjust="spacingAndGlyphs" >Y163</text>
<text x="568.70" y="827.60" font-size="7.0" fill="#222" text-anchor="start" font-family='"Liberation Sans", sans-serif' stroke="#222" stroke-width="0.1" textLength="12.8" lengthAdjust="spacingAndGlyphs" >L152</text>
<text x="590.00" y="840.60" font-size="9.2" fill="#1a1a1a" text-anchor="middle" font-family='"Liberation Sans", sans-serif' stroke="#1a1a1a" stroke-width="0.1" textLength="14.6" lengthAdjust="spacingAndGlyphs" >RIDL</text>
<text x="586.80" y="848.30" font-size="6.3" fill="#1a1a1a" text-anchor="middle" font-family='"Liberation Sans", sans-serif' stroke="#1a1a1a" stroke-width="0.1" textLength="42" lengthAdjust="spacingAndGlyphs" >(170 - IPP - 172)</text>
<rect x="560.5" y="854.2" width="64.8" height="60.3" fill="#fff" stroke="#333" stroke-width="1.5"/>
<text x="593.60" y="863.30" font-size="7.8" fill="#111" text-anchor="middle" font-family='"Liberation Serif", serif' font-weight="bold" textLength="27.5" lengthAdjust="spacingAndGlyphs" text-decoration="underline">Legend:</text>
<line x1="589.7" y1="881.3" x2="578.4" y2="881.3" stroke="#9a9a9a" stroke-width="1.8"/>
<path d="M565.4,881.3 L582.9,872.8 Q575.3,881.3 582.9,889.8 Z" fill="#8e8e8e"/>
<text x="592.50" y="884.20" font-size="8.6" fill="#1a1a1a" text-anchor="start" font-family='"Liberation Sans", sans-serif' stroke="#1a1a1a" stroke-width="0.1" textLength="25.8" lengthAdjust="spacingAndGlyphs" >Binding</text>
<line x1="569.6" y1="896.7" x2="569.6" y2="911.5" stroke="#b0b0b0" stroke-width="2"/>
<line x1="569.6" y1="904" x2="587.6" y2="904" stroke="#b0b0b0" stroke-width="1.8"/>
<text x="592.50" y="903.00" font-size="8.6" fill="#1a1a1a" text-anchor="start" font-family='"Liberation Sans", sans-serif' stroke="#1a1a1a" stroke-width="0.1" textLength="9.5" lengthAdjust="spacingAndGlyphs" >No</text>
<text x="592.50" y="912.30" font-size="8.6" fill="#1a1a1a" text-anchor="start" font-family='"Liberation Sans", sans-serif' stroke="#1a1a1a" stroke-width="0.1" textLength="25.8" lengthAdjust="spacingAndGlyphs" >Binding</text>
<line x1="302.4" y1="906.7" x2="308.9" y2="886.7" stroke="#a9a9a9" stroke-width="1.8"/>
<line x1="315.8" y1="889.0" x2="302.0" y2="884.4" stroke="#a9a9a9" stroke-width="2.2"/>
<line x1="309.4" y1="906.7" x2="338.6" y2="892.0" stroke="#9a9a9a" stroke-width="1.8"/>
<path d="M348.4,887.0 L337.9,900.7 Q340.7,890.9 331.2,887.3 Z" fill="#8e8e8e"/>
<line x1="373.4" y1="907.8" x2="373.4" y2="887.0" stroke="#a9a9a9" stroke-width="1.8"/>
<line x1="380.6" y1="887.0" x2="366.2" y2="887.0" stroke="#a9a9a9" stroke-width="2.2"/>
<line x1="378.4" y1="907.4" x2="401.3" y2="890.4" stroke="#9a9a9a" stroke-width="1.8"/>
<path d="M410.1,883.8 L402.1,899.1 Q403.1,889.0 393.2,887.0 Z" fill="#8e8e8e"/>
<line x1="443.3" y1="905.7" x2="430.5" y2="893.6" stroke="#a9a9a9" stroke-width="1.8"/>
<line x1="435.2" y1="888.7" x2="425.8" y2="898.5" stroke="#a9a9a9" stroke-width="2.2"/>
<line x1="453.8" y1="907.8" x2="456.9" y2="893.4" stroke="#9a9a9a" stroke-width="1.8"/>
<path d="M459.3,882.7 L463.8,899.6 Q457.4,891.2 448.2,896.1 Z" fill="#8e8e8e"/>
<line x1="516.9" y1="907.4" x2="500.6" y2="899.6" stroke="#a9a9a9" stroke-width="1.8"/>
<line x1="503.5" y1="893.5" x2="497.7" y2="905.7" stroke="#a9a9a9" stroke-width="2.2"/>
<line x1="523.4" y1="907.4" x2="523.9" y2="893.7" stroke="#9a9a9a" stroke-width="1.8"/>
<path d="M524.3,882.7 L532.2,898.5 Q524.0,891.4 515.2,897.9 Z" fill="#8e8e8e"/>
<rect x="273.3" y="911" width="67.70" height="57.00" fill="none" stroke="#222" stroke-width="1.4" stroke-dasharray="4.2 2.6"/>
<rect x="345.3" y="910.7" width="68.40" height="56.90" fill="none" stroke="#222" stroke-width="1.4" stroke-dasharray="4.2 2.6"/>
<rect x="418.3" y="910.7" width="67.90" height="56.90" fill="none" stroke="#222" stroke-width="1.4" stroke-dasharray="4.2 2.6"/>
<rect x="490.3" y="910.7" width="68.40" height="56.90" fill="none" stroke="#222" stroke-width="1.4" stroke-dasharray="4.2 2.6"/>
<polygon points="304.0,941.7 306.9,940.2 309.1,943.9 309.1,948.2 306.9,950.1 304.7,946.8" fill="none" stroke="#9a9a9a" stroke-width="1.4" stroke-linejoin="round"/>
<circle cx="302.5" cy="941.3" r="1.1" fill="#e0262a"/>
<line x1="300.5" y1="947.5" x2="303.5" y2="943.5" stroke="#1a1a1a" stroke-width="0.8"/>
<circle cx="305.5" cy="950.3" r="0.8" fill="#3a56c0"/>
<polyline points="309.1,948.2 310.5,950.4" fill="none" stroke="#9a9a9a" stroke-width="1.5" stroke-linecap="round" stroke-linejoin="round"/>
<circle cx="311.6" cy="952.4" r="1.1" fill="#e0262a"/>
<polygon points="312.4,951.9 314.9,949.3 316.4,953.4 314.6,955.9 312.7,954.8" fill="none" stroke="#9a9a9a" stroke-width="1.4" stroke-linejoin="round"/>
<circle cx="314.9" cy="949.6" r="0.8" fill="#3a56c0"/>
<polyline points="306.5,958.6 308.4,960.7 312.7,961.0 315.7,959.2 316.8,957.4" fill="none" stroke="#9a9a9a" stroke-width="1.5" stroke-linecap="round" stroke-linejoin="round"/>
<polyline points="315.7,959.2 317.5,963.9" fill="none" stroke="#9a9a9a" stroke-width="1.5" stroke-linecap="round" stroke-linejoin="round"/>
<circle cx="306.3" cy="957.5" r="1.1" fill="#e0262a"/>
<line x1="305.0" y1="963.0" x2="308.4" y2="960.7" stroke="#1a1a1a" stroke-width="0.8"/>
<polyline points="316.5,939.3 318.6,940.2 320.8,940.2" fill="none" stroke="#9a9a9a" stroke-width="1.5" stroke-linecap="round" stroke-linejoin="round"/>
<polyline points="318.6,940.2 320.0,944.6" fill="none" stroke="#9a9a9a" stroke-width="1.5" stroke-linecap="round" stroke-linejoin="round"/>
<circle cx="321.5" cy="939.8" r="1.1" fill="#e0262a"/>
<circle cx="320.0" cy="945.4" r="1.1" fill="#e0262a"/>
<line x1="314.2" y1="937.6" x2="318.0" y2="940.0" stroke="#1a1a1a" stroke-width="0.8"/>
<polygon points="320.2,947.5 322.8,946.5 325.5,947.5 325.5,950.2 322.8,951.0 320.2,950.0" fill="none" stroke="#9a9a9a" stroke-width="1.4" stroke-linejoin="round"/>
<circle cx="320.5" cy="947.0" r="0.8" fill="#3a56c0"/>
<circle cx="324.2" cy="951.0" r="0.9" fill="#e0262a"/>
<line x1="323.5" y1="947.0" x2="325.5" y2="940.5" stroke="#1a1a1a" stroke-width="0.8"/>
<polyline points="327.3,954.8 328.8,958.5 331.0,961.4" fill="none" stroke="#9a9a9a" stroke-width="1.5" stroke-linecap="round" stroke-linejoin="round"/>
<polyline points="328.8,958.5 327.0,959.9" fill="none" stroke="#9a9a9a" stroke-width="1.5" stroke-linecap="round" stroke-linejoin="round"/>
<path d="M283.10,918.40 C284.57,918.00 289.15,915.87 291.90,916.00 C294.65,916.13 298.05,917.38 299.60,919.20 C301.15,921.02 300.72,924.25 301.20,926.90 C301.68,929.55 301.18,933.00 302.50,935.10 C303.82,937.20 307.15,938.40 309.10,939.50 C311.05,940.60 313.10,940.60 314.20,941.70 C315.30,942.80 315.33,944.40 315.70,946.10 C316.07,947.80 315.80,950.57 316.40,951.90 C317.00,953.23 317.72,953.55 319.30,954.10 C320.88,954.65 324.07,955.32 325.90,955.20 C327.73,955.08 329.27,954.57 330.30,953.40 C331.33,952.23 331.98,949.92 332.10,948.20 C332.22,946.48 331.67,944.07 331.00,943.10 C330.33,942.13 328.83,942.15 328.10,942.40 C327.37,942.65 326.73,943.87 326.60,944.60 C326.47,945.33 326.93,946.20 327.30,946.80 C327.67,947.40 328.55,947.97 328.80,948.20 " fill="none" stroke="#6b9ad6" stroke-width="1.6" stroke-linecap="round" stroke-linejoin="round"/>
<text x="309.40" y="938.40" font-size="7.2" fill="#5f8fd2" text-anchor="start" font-family='"Liberation Sans", sans-serif' stroke="#5f8fd2" stroke-width="0.1" textLength="11" lengthAdjust="spacingAndGlyphs" >D86</text>
<text x="319.80" y="966.80" font-size="7.2" fill="#5f8fd2" text-anchor="start" font-family='"Liberation Sans", sans-serif' stroke="#5f8fd2" stroke-width="0.1" textLength="10" lengthAdjust="spacingAndGlyphs" >L88</text>
<text x="323.10" y="940.30" font-size="7.0" fill="#222" text-anchor="start" font-family='"Liberation Sans", sans-serif' stroke="#222" stroke-width="0.1" textLength="13.5" lengthAdjust="spacingAndGlyphs" >Y165</text>
<text x="287.70" y="952.40" font-size="7.0" fill="#222" text-anchor="start" font-family='"Liberation Sans", sans-serif' stroke="#222" stroke-width="0.1" textLength="13.3" lengthAdjust="spacingAndGlyphs" >Y163</text>
<text x="293.00" y="966.10" font-size="7.0" fill="#222" text-anchor="start" font-family='"Liberation Sans", sans-serif' stroke="#222" stroke-width="0.1" textLength="13.1" lengthAdjust="spacingAndGlyphs" >L152</text>
<polygon points="365.8,937.6 367.6,936.5 369.2,937.8 369.0,939.8 367.2,940.8 365.6,939.6" fill="none" stroke="#9a9a9a" stroke-width="1.4" stroke-linejoin="round"/>
<circle cx="364.8" cy="937.5" r="0.9" fill="#e0262a"/>
<circle cx="371.3" cy="940.3" r="0.9" fill="#e0262a"/>
<circle cx="366.6" cy="939.7" r="0.7" fill="#3a56c0"/>
<polyline points="366.6,945.5 367.7,946.9 371.4,946.9 373.2,949.8 375.0,950.5" fill="none" stroke="#9a9a9a" stroke-width="1.5" stroke-linecap="round" stroke-linejoin="round"/>
<circle cx="366.4" cy="944.5" r="0.9" fill="#e0262a"/>
<circle cx="371.4" cy="946.4" r="0.8" fill="#3a56c0"/>
<line x1="371.5" y1="950.0" x2="372.0" y2="952.8" stroke="#1a1a1a" stroke-width="0.8"/>
<polygon points="374.8,948.4 377.2,946.6 379.2,948.0 378.8,950.6 376.2,951.4" fill="none" stroke="#9a9a9a" stroke-width="1.4" stroke-linejoin="round"/>
<line x1="378.7" y1="939.8" x2="381.6" y2="937.8" stroke="#8e8e8e" stroke-width="2.2" stroke-linecap="round"/>
<circle cx="377.8" cy="942.3" r="0.9" fill="#e0262a"/>
<circle cx="378.0" cy="937.3" r="0.8" fill="#3a56c0"/>
<line x1="380.5" y1="938.6" x2="383.0" y2="936.5" stroke="#1a1a1a" stroke-width="0.8"/>
<polyline points="382.3,940.3 383.8,943.2" fill="none" stroke="#9a9a9a" stroke-width="1.5" stroke-linecap="round" stroke-linejoin="round"/>
<circle cx="384.0" cy="943.5" r="0.9" fill="#3a56c0"/>
<polyline points="381.9,954.2 383.0,957.1 384.1,958.6" fill="none" stroke="#9a9a9a" stroke-width="1.5" stroke-linecap="round" stroke-linejoin="round"/>
<path d="M373.80,915.40 C373.97,916.03 373.72,917.83 374.80,919.20 C375.88,920.57 379.57,922.32 380.30,923.60 C381.03,924.88 380.02,925.62 379.20,926.90 C378.38,928.18 375.77,929.83 375.40,931.30 C375.03,932.77 376.00,934.25 377.00,935.70 C378.00,937.15 380.93,938.18 381.40,940.00 C381.87,941.82 379.98,944.58 379.80,946.60 C379.62,948.62 379.30,951.00 380.30,952.10 C381.30,953.20 383.78,952.83 385.80,953.20 C387.82,953.57 390.75,953.22 392.40,954.30 C394.05,955.38 395.15,957.97 395.70,959.70 C396.25,961.43 395.70,963.87 395.70,964.70 " fill="none" stroke="#6b9ad6" stroke-width="1.4" stroke-linecap="round" stroke-linejoin="round"/>
<text x="385.80" y="947.50" font-size="7.4" fill="#5f8fd2" text-anchor="start" font-family='"Liberation Sans", sans-serif' stroke="#5f8fd2" stroke-width="0.1" textLength="11.2" lengthAdjust="spacingAndGlyphs" >H14</text>
<text x="379.80" y="963.30" font-size="7.2" fill="#5f8fd2" text-anchor="start" font-family='"Liberation Sans", sans-serif' stroke="#5f8fd2" stroke-width="0.1" textLength="10.2" lengthAdjust="spacingAndGlyphs" >L16</text>
<text x="382.50" y="939.30" font-size="7.0" fill="#222" text-anchor="start" font-family='"Liberation Sans", sans-serif' stroke="#222" stroke-width="0.1" textLength="13.4" lengthAdjust="spacingAndGlyphs" >Y165</text>
<text x="349.70" y="945.80" font-size="7.0" fill="#222" text-anchor="start" font-family='"Liberation Sans", sans-serif' stroke="#222" stroke-width="0.1" textLength="13.1" lengthAdjust="spacingAndGlyphs" >Y163</text>
<text x="360.80" y="958.10" font-size="7.0" fill="#222" text-anchor="start" font-family='"Liberation Sans", sans-serif' stroke="#222" stroke-width="0.1" textLength="13.2" lengthAdjust="spacingAndGlyphs" >L152</text>
<polygon points="432.0,941.8 434.6,939.6 437.2,941.1 437.5,944.7 435.0,947.6 432.8,946.2" fill="none" stroke="#9a9a9a" stroke-width="1.4" stroke-linejoin="round"/>
<circle cx="431.4" cy="941.4" r="1.1" fill="#e0262a"/>
<line x1="433.5" y1="938.5" x2="433.6" y2="936.0" stroke="#1a1a1a" stroke-width="0.8"/>
<circle cx="434.5" cy="947.5" r="0.7" fill="#3a56c0"/>
<polyline points="437.5,944.7 439.3,945.8 440.8,948.0" fill="none" stroke="#9a9a9a" stroke-width="1.5" stroke-linecap="round" stroke-linejoin="round"/>
<circle cx="440.8" cy="948.6" r="1.1" fill="#e0262a"/>
<polygon points="441.2,948.4 444.1,946.9 445.5,949.8 444.1,953.8 441.9,952.7" fill="none" stroke="#9a9a9a" stroke-width="1.4" stroke-linejoin="round"/>
<circle cx="445.0" cy="948.2" r="0.8" fill="#3a56c0"/>
<polyline points="434.6,955.8 435.7,958.2 439.7,958.6 441.5,958.6 442.6,963.7" fill="none" stroke="#9a9a9a" stroke-width="1.5" stroke-linecap="round" stroke-linejoin="round"/>
<circle cx="434.6" cy="954.9" r="1.1" fill="#e0262a"/>
<circle cx="439.7" cy="958.2" r="0.8" fill="#3a56c0"/>
<line x1="433.0" y1="961.0" x2="435.5" y2="958.4" stroke="#1a1a1a" stroke-width="0.8"/>
<polyline points="449.2,941.8 455.8,941.8" fill="none" stroke="#9a9a9a" stroke-width="1.5" stroke-linecap="round" stroke-linejoin="round"/>
<circle cx="456.2" cy="942.8" r="1.1" fill="#e0262a"/>
<circle cx="456.6" cy="940.4" r="0.9" fill="#3a56c0"/>
<line x1="449.8" y1="948.6" x2="455.4" y2="947.0" stroke="#8e8e8e" stroke-width="3.2" stroke-linecap="round"/>
<circle cx="449.5" cy="949.6" r="1.1" fill="#e0262a"/>
<circle cx="450.0" cy="946.4" r="0.8" fill="#3a56c0"/>
<line x1="453.0" y1="948.0" x2="462.0" y2="953.0" stroke="#1a1a1a" stroke-width="0.8"/>
<polyline points="453.6,958.6 454.3,956.4 456.5,956.4" fill="none" stroke="#9a9a9a" stroke-width="1.5" stroke-linecap="round" stroke-linejoin="round"/>
<polyline points="454.3,956.4 453.9,963.0" fill="none" stroke="#9a9a9a" stroke-width="1.5" stroke-linecap="round" stroke-linejoin="round"/>
<path d="M446.20,915.10 C446.83,915.25 449.73,914.95 450.00,916.00 C450.27,917.05 448.25,919.77 447.80,921.40 C447.35,923.03 446.57,924.88 447.30,925.80 C448.03,926.72 449.92,926.72 452.20,926.90 C454.48,927.08 460.27,926.63 461.00,926.90 C461.73,927.17 458.25,927.87 456.60,928.50 C454.95,929.13 452.37,929.50 451.10,930.70 C449.83,931.90 449.63,933.42 449.00,935.70 C448.37,937.98 447.67,941.67 447.30,944.40 C446.93,947.13 446.17,950.18 446.80,952.10 C447.43,954.02 449.47,955.35 451.10,955.90 C452.73,956.45 454.95,956.58 456.60,955.40 C458.25,954.22 459.35,950.27 461.00,948.80 C462.65,947.33 465.05,946.42 466.50,946.60 C467.95,946.78 468.70,949.98 469.70,949.90 C470.70,949.82 472.03,946.73 472.50,946.10 " fill="none" stroke="#6b9ad6" stroke-width="1.6" stroke-linecap="round" stroke-linejoin="round"/>
<text x="459.30" y="943.60" font-size="7.4" fill="#5f8fd2" text-anchor="start" font-family='"Liberation Sans", sans-serif' stroke="#5f8fd2" stroke-width="0.1" textLength="14.8" lengthAdjust="spacingAndGlyphs" >N140</text>
<text x="456.60" y="964.70" font-size="7.4" fill="#5f8fd2" text-anchor="start" font-family='"Liberation Sans", sans-serif' stroke="#5f8fd2" stroke-width="0.1" textLength="13.1" lengthAdjust="spacingAndGlyphs" >L142</text>
<text x="423.20" y="938.20" font-size="7.0" fill="#222" text-anchor="start" font-family='"Liberation Sans", sans-serif' stroke="#222" stroke-width="0.1" textLength="13.2" lengthAdjust="spacingAndGlyphs" >Y163</text>
<text x="461.00" y="956.20" font-size="7.0" fill="#222" text-anchor="start" font-family='"Liberation Sans", sans-serif' stroke="#222" stroke-width="0.1" textLength="13.1" lengthAdjust="spacingAndGlyphs" >Y165</text>
<text x="424.90" y="965.00" font-size="7.0" fill="#222" text-anchor="start" font-family='"Liberation Sans", sans-serif' stroke="#222" stroke-width="0.1" textLength="12.5" lengthAdjust="spacingAndGlyphs" >L152</text>
<polygon points="503.0,939.6 505.9,937.4 508.4,938.9 508.8,942.5 505.9,944.7 503.3,943.2" fill="none" stroke="#9a9a9a" stroke-width="1.4" stroke-linejoin="round"/>
<circle cx="502.5" cy="938.5" r="1.1" fill="#e0262a"/>
<line x1="505.0" y1="934.5" x2="505.0" y2="937.0" stroke="#1a1a1a" stroke-width="0.8"/>
<circle cx="504.8" cy="944.5" r="0.7" fill="#3a56c0"/>
<polyline points="508.8,942.5 509.5,944.7 509.5,946.6" fill="none" stroke="#9a9a9a" stroke-width="1.5" stroke-linecap="round" stroke-linejoin="round"/>
<circle cx="509.5" cy="947.0" r="1.1" fill="#e0262a"/>
<polygon points="509.5,949.1 513.2,946.5 515.4,949.8 513.9,953.1 511.3,952.7" fill="none" stroke="#9a9a9a" stroke-width="1.4" stroke-linejoin="round"/>
<circle cx="514.0" cy="947.0" r="0.8" fill="#3a56c0"/>
<polyline points="502.6,953.0 503.3,955.7 507.3,956.4 509.2,958.6 511.7,958.6" fill="none" stroke="#9a9a9a" stroke-width="1.5" stroke-linecap="round" stroke-linejoin="round"/>
<polyline points="509.2,958.6 508.8,964.4" fill="none" stroke="#9a9a9a" stroke-width="1.5" stroke-linecap="round" stroke-linejoin="round"/>
<circle cx="502.6" cy="952.0" r="1.1" fill="#e0262a"/>
<circle cx="507.3" cy="955.9" r="0.8" fill="#3a56c0"/>
<line x1="503.3" y1="955.7" x2="502.0" y2="961.0" stroke="#1a1a1a" stroke-width="0.8"/>
<polygon points="524.1,938.9 526.3,936.3 529.2,938.1 529.6,940.7 527.0,942.9 524.5,941.8" fill="none" stroke="#9a9a9a" stroke-width="1.4" stroke-linejoin="round"/>
<circle cx="528.8" cy="938.6" r="0.9" fill="#3a56c0"/>
<circle cx="525.6" cy="942.5" r="0.9" fill="#3a56c0"/>
<polyline points="524.1,938.9 519.0,938.9" fill="none" stroke="#9a9a9a" stroke-width="1.5" stroke-linecap="round" stroke-linejoin="round"/>
<line x1="529.5" y1="939.5" x2="532.5" y2="937.5" stroke="#1a1a1a" stroke-width="0.8"/>
<line x1="519.4" y1="948.8" x2="524.6" y2="946.9" stroke="#8e8e8e" stroke-width="3.0" stroke-linecap="round"/>
<circle cx="519.0" cy="949.5" r="1.1" fill="#e0262a"/>
<circle cx="520.0" cy="945.0" r="0.8" fill="#3a56c0"/>
<line x1="524.5" y1="947.0" x2="530.5" y2="951.5" stroke="#1a1a1a" stroke-width="0.8"/>
<polyline points="525.6,955.7 524.1,958.6 524.1,962.2 525.9,962.6" fill="none" stroke="#9a9a9a" stroke-width="1.5" stroke-linecap="round" stroke-linejoin="round"/>
<path d="M512.70,914.90 C513.35,914.98 515.42,914.50 516.60,915.40 C517.78,916.30 518.72,918.93 519.80,920.30 C520.88,921.67 521.63,922.87 523.10,923.60 C524.57,924.33 526.77,925.07 528.60,924.70 C530.43,924.33 533.37,922.40 534.10,921.40 C534.83,920.40 534.10,919.15 533.00,918.70 C531.90,918.25 529.15,918.25 527.50,918.70 C525.85,919.15 524.20,919.67 523.10,921.40 C522.00,923.13 521.62,926.53 520.90,929.10 C520.18,931.67 519.62,933.88 518.80,936.80 C517.98,939.72 516.18,943.87 516.00,946.60 C515.82,949.33 516.33,951.83 517.70,953.20 C519.07,954.57 522.02,955.90 524.20,954.80 C526.38,953.70 528.78,948.15 530.80,946.60 C532.82,945.05 534.65,945.23 536.30,945.50 C537.95,945.77 539.25,948.20 540.70,948.20 C542.15,948.20 544.10,946.68 545.00,945.50 C545.90,944.32 545.92,941.83 546.10,941.10 " fill="none" stroke="#6b9ad6" stroke-width="1.6" stroke-linecap="round" stroke-linejoin="round"/>
<text x="529.20" y="936.80" font-size="7.4" fill="#5f8fd2" text-anchor="start" font-family='"Liberation Sans", sans-serif' stroke="#5f8fd2" stroke-width="0.1" textLength="14.7" lengthAdjust="spacingAndGlyphs" >H100</text>
<text x="526.40" y="965.50" font-size="7.4" fill="#5f8fd2" text-anchor="start" font-family='"Liberation Sans", sans-serif' stroke="#5f8fd2" stroke-width="0.1" textLength="13.2" lengthAdjust="spacingAndGlyphs" >L102</text>
<text x="496.90" y="935.70" font-size="7.0" fill="#222" text-anchor="start" font-family='"Liberation Sans", sans-serif' stroke="#222" stroke-width="0.1" textLength="13.6" lengthAdjust="spacingAndGlyphs" >Y163</text>
<text x="530.20" y="954.80" font-size="7.0" fill="#222" text-anchor="start" font-family='"Liberation Sans", sans-serif' stroke="#222" stroke-width="0.1" textLength="12.9" lengthAdjust="spacingAndGlyphs" >Y165</text>
<text x="493.00" y="965.30" font-size="7.0" fill="#222" text-anchor="start" font-family='"Liberation Sans", sans-serif' stroke="#222" stroke-width="0.1" textLength="13.2" lengthAdjust="spacingAndGlyphs" >L152</text>
<text x="304.10" y="979.00" font-size="8.8" fill="#1a1a1a" text-anchor="middle" font-family='"Liberation Sans", sans-serif' stroke="#1a1a1a" stroke-width="0.1" textLength="25.4" lengthAdjust="spacingAndGlyphs" >TBC1D1</text>
<text x="304.10" y="987.00" font-size="6.3" fill="#1a1a1a" text-anchor="middle" font-family='"Liberation Sans", sans-serif' stroke="#1a1a1a" stroke-width="0.1" textLength="38" lengthAdjust="spacingAndGlyphs" >(86 - DPL - 88)</text>
<text x="376.60" y="979.00" font-size="8.8" fill="#1a1a1a" text-anchor="middle" font-family='"Liberation Sans", sans-serif' stroke="#1a1a1a" stroke-width="0.1" textLength="26" lengthAdjust="spacingAndGlyphs" >TBC1D4</text>
<text x="376.60" y="987.00" font-size="6.3" fill="#1a1a1a" text-anchor="middle" font-family='"Liberation Sans", sans-serif' stroke="#1a1a1a" stroke-width="0.1" textLength="38" lengthAdjust="spacingAndGlyphs" >(14 - HPL - 16)</text>
<text x="449.40" y="979.00" font-size="8.8" fill="#1a1a1a" text-anchor="middle" font-family='"Liberation Sans", sans-serif' stroke="#1a1a1a" stroke-width="0.1" textLength="25.5" lengthAdjust="spacingAndGlyphs" >TBC1D5</text>
<text x="449.40" y="987.00" font-size="6.3" fill="#1a1a1a" text-anchor="middle" font-family='"Liberation Sans", sans-serif' stroke="#1a1a1a" stroke-width="0.1" textLength="43" lengthAdjust="spacingAndGlyphs" >(140 - NPL - 142)</text>
<text x="523.40" y="979.00" font-size="8.8" fill="#1a1a1a" text-anchor="middle" font-family='"Liberation Sans", sans-serif' stroke="#1a1a1a" stroke-width="0.1" textLength="29.5" lengthAdjust="spacingAndGlyphs" >TBC1D13</text>
<text x="523.40" y="987.00" font-size="6.3" fill="#1a1a1a" text-anchor="middle" font-family='"Liberation Sans", sans-serif' stroke="#1a1a1a" stroke-width="0.1" textLength="44" lengthAdjust="spacingAndGlyphs" >(100 - HPL - 102)</text>
<polyline points="307.2,990.8 307.2,998.2 397.5,998.2" fill="none" stroke="#222" stroke-width="1.2"/>
<polyline points="440.2,997.9 526.9,997.9 526.9,990.3" fill="none" stroke="#222" stroke-width="1.2"/>
<text x="418.50" y="1000.40" font-size="8.6" fill="#1a1a1a" text-anchor="middle" font-family='"Liberation Sans", sans-serif' stroke="#1a1a1a" stroke-width="0.1" textLength="30.5" lengthAdjust="spacingAndGlyphs" >RabGAPs</text>
</svg></body></html>
